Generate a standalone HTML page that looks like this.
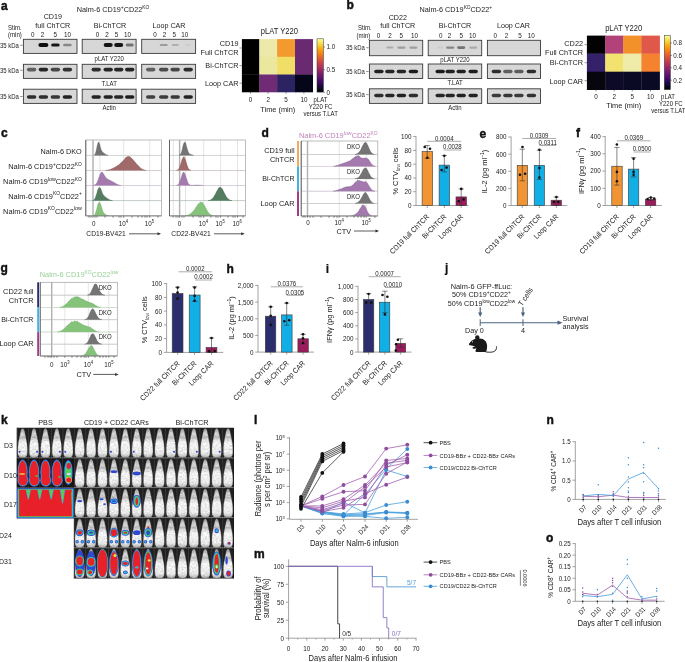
<!DOCTYPE html>
<html><head><meta charset="utf-8"><style>
html,body{margin:0;padding:0;background:#fff;}
body{width:685px;height:662px;overflow:hidden;}
svg{display:block;font-family:"Liberation Sans", sans-serif;will-change:transform;}
</style></head><body>
<svg width="685" height="662" viewBox="0 0 685 662">
<defs>
<filter id="tex" x="0" y="0" width="1" height="1" color-interpolation-filters="sRGB">
<feTurbulence type="fractalNoise" baseFrequency="0.55" numOctaves="2" seed="4" result="n"/>
<feColorMatrix in="n" type="matrix" values="0.33 0.33 0.33 0 0  0.33 0.33 0.33 0 0  0.33 0.33 0.33 0 0  0 0 0 0 1" result="g"/>
<feComposite in="SourceGraphic" in2="g" operator="arithmetic" k1="0.5" k2="0.78" k3="0" k4="0"/>
</filter>
<filter id="bl" x="-50%" y="-50%" width="200%" height="200%"><feGaussianBlur stdDeviation="0.9"/></filter>
<filter id="bl2" x="-50%" y="-50%" width="200%" height="200%"><feGaussianBlur stdDeviation="0.5"/></filter>
<filter id="bl3" x="-50%" y="-50%" width="200%" height="200%"><feGaussianBlur stdDeviation="1.3"/></filter>
<linearGradient id="inferno" x1="0" y1="1" x2="0" y2="0">
<stop offset="0" stop-color="#000004"/><stop offset="0.1" stop-color="#160b39"/><stop offset="0.2" stop-color="#420a68"/>
<stop offset="0.3" stop-color="#6a176e"/><stop offset="0.4" stop-color="#932667"/><stop offset="0.5" stop-color="#bc3754"/>
<stop offset="0.6" stop-color="#dd513a"/><stop offset="0.7" stop-color="#f37819"/><stop offset="0.8" stop-color="#fca50a"/>
<stop offset="0.9" stop-color="#f6d746"/><stop offset="1" stop-color="#fcffa4"/>
</linearGradient>
<linearGradient id="mouseg" x1="0" y1="0" x2="0" y2="1">
<stop offset="0" stop-color="#909090"/><stop offset="0.18" stop-color="#d0d0d0"/><stop offset="0.3" stop-color="#c0c0c0"/><stop offset="0.5" stop-color="#ececec"/><stop offset="0.85" stop-color="#e2e2e2"/><stop offset="1" stop-color="#a8a8a8"/>
</linearGradient>
</defs>
<rect x="23.40" y="39.30" width="53.60" height="14.10" fill="#d7d7d7" stroke="#3a3a3a" stroke-width="0.9"/>
<rect x="38.40" y="42.90" width="10.00" height="4.20" rx="2.10" fill="rgb(15,15,15)" filter="url(#bl2)"/>
<rect x="51.15" y="43.50" width="8.50" height="3.00" rx="1.50" fill="rgb(25,25,25)" filter="url(#bl2)"/>
<rect x="63.15" y="43.80" width="8.50" height="2.40" rx="1.20" fill="rgb(135,135,135)" filter="url(#bl2)"/>
<rect x="23.40" y="64.30" width="53.60" height="14.10" fill="#d7d7d7" stroke="#3a3a3a" stroke-width="0.9"/>
<rect x="26.90" y="67.80" width="9.40" height="3.60" rx="1.80" fill="rgb(95,95,95)" filter="url(#bl2)"/>
<rect x="38.70" y="67.80" width="9.40" height="3.60" rx="1.80" fill="rgb(39,39,39)" filter="url(#bl2)"/>
<rect x="50.70" y="67.80" width="9.40" height="3.60" rx="1.80" fill="rgb(71,71,71)" filter="url(#bl2)"/>
<rect x="62.70" y="67.80" width="9.40" height="3.60" rx="1.80" fill="rgb(51,51,51)" filter="url(#bl2)"/>
<rect x="23.40" y="89.20" width="53.60" height="14.20" fill="#d7d7d7" stroke="#3a3a3a" stroke-width="0.9"/>
<rect x="26.90" y="95.20" width="9.40" height="3.60" rx="1.80" fill="rgb(45,45,45)" filter="url(#bl2)"/>
<rect x="38.70" y="95.20" width="9.40" height="3.60" rx="1.80" fill="rgb(45,45,45)" filter="url(#bl2)"/>
<rect x="50.70" y="95.20" width="9.40" height="3.60" rx="1.80" fill="rgb(55,55,55)" filter="url(#bl2)"/>
<rect x="62.70" y="95.20" width="9.40" height="3.60" rx="1.80" fill="rgb(35,35,35)" filter="url(#bl2)"/>
<rect x="82.20" y="39.30" width="53.90" height="14.10" fill="#d7d7d7" stroke="#3a3a3a" stroke-width="0.9"/>
<rect x="103.70" y="43.00" width="9.00" height="4.00" rx="2.00" fill="rgb(25,25,25)" filter="url(#bl2)"/>
<rect x="114.20" y="43.00" width="9.00" height="4.00" rx="2.00" fill="rgb(25,25,25)" filter="url(#bl2)"/>
<rect x="125.70" y="43.50" width="8.00" height="3.00" rx="1.50" fill="rgb(115,115,115)" filter="url(#bl2)"/>
<rect x="82.20" y="64.30" width="53.90" height="14.10" fill="#d7d7d7" stroke="#3a3a3a" stroke-width="0.9"/>
<rect x="91.50" y="67.80" width="9.40" height="3.60" rx="1.80" fill="rgb(45,45,45)" filter="url(#bl2)"/>
<rect x="103.50" y="67.80" width="9.40" height="3.60" rx="1.80" fill="rgb(39,39,39)" filter="url(#bl2)"/>
<rect x="114.00" y="67.80" width="9.40" height="3.60" rx="1.80" fill="rgb(39,39,39)" filter="url(#bl2)"/>
<rect x="125.00" y="67.80" width="9.40" height="3.60" rx="1.80" fill="rgb(35,35,35)" filter="url(#bl2)"/>
<rect x="82.20" y="89.20" width="53.90" height="14.20" fill="#d7d7d7" stroke="#3a3a3a" stroke-width="0.9"/>
<rect x="91.50" y="95.20" width="9.40" height="3.60" rx="1.80" fill="rgb(35,35,35)" filter="url(#bl2)"/>
<rect x="103.50" y="95.20" width="9.40" height="3.60" rx="1.80" fill="rgb(35,35,35)" filter="url(#bl2)"/>
<rect x="114.00" y="95.20" width="9.40" height="3.60" rx="1.80" fill="rgb(39,39,39)" filter="url(#bl2)"/>
<rect x="125.00" y="95.20" width="9.40" height="3.60" rx="1.80" fill="rgb(31,31,31)" filter="url(#bl2)"/>
<rect x="141.70" y="39.30" width="53.90" height="14.10" fill="#d7d7d7" stroke="#3a3a3a" stroke-width="0.9"/>
<rect x="159.70" y="43.90" width="8.00" height="2.20" rx="1.10" fill="rgb(155,155,155)" filter="url(#bl2)"/>
<rect x="171.70" y="43.90" width="7.00" height="2.20" rx="1.10" fill="rgb(175,175,175)" filter="url(#bl2)"/>
<rect x="185.20" y="44.00" width="6.00" height="2.00" rx="1.00" fill="rgb(205,205,205)" filter="url(#bl2)"/>
<rect x="141.70" y="64.30" width="53.90" height="14.10" fill="#d7d7d7" stroke="#3a3a3a" stroke-width="0.9"/>
<rect x="146.00" y="67.80" width="9.40" height="3.60" rx="1.80" fill="rgb(95,95,95)" filter="url(#bl2)"/>
<rect x="159.00" y="67.80" width="9.40" height="3.60" rx="1.80" fill="rgb(75,75,75)" filter="url(#bl2)"/>
<rect x="170.50" y="67.80" width="9.40" height="3.60" rx="1.80" fill="rgb(71,71,71)" filter="url(#bl2)"/>
<rect x="183.50" y="67.80" width="9.40" height="3.60" rx="1.80" fill="rgb(45,45,45)" filter="url(#bl2)"/>
<rect x="141.70" y="89.20" width="53.90" height="14.20" fill="#d7d7d7" stroke="#3a3a3a" stroke-width="0.9"/>
<rect x="146.00" y="95.20" width="9.40" height="3.60" rx="1.80" fill="rgb(65,65,65)" filter="url(#bl2)"/>
<rect x="159.00" y="95.20" width="9.40" height="3.60" rx="1.80" fill="rgb(59,59,59)" filter="url(#bl2)"/>
<rect x="170.50" y="95.20" width="9.40" height="3.60" rx="1.80" fill="rgb(55,55,55)" filter="url(#bl2)"/>
<rect x="183.50" y="95.20" width="9.40" height="3.60" rx="1.80" fill="rgb(35,35,35)" filter="url(#bl2)"/>
<rect x="369.40" y="40.30" width="53.30" height="15.40" fill="#d7d7d7" stroke="#3a3a3a" stroke-width="0.9"/>
<rect x="386.40" y="46.60" width="7.00" height="2.00" rx="1.00" fill="rgb(171,171,171)" filter="url(#bl2)"/>
<rect x="397.40" y="46.50" width="8.00" height="2.20" rx="1.10" fill="rgb(155,155,155)" filter="url(#bl2)"/>
<rect x="409.40" y="46.50" width="8.00" height="2.20" rx="1.10" fill="rgb(159,159,159)" filter="url(#bl2)"/>
<rect x="369.40" y="64.00" width="53.30" height="14.50" fill="#d7d7d7" stroke="#3a3a3a" stroke-width="0.9"/>
<rect x="374.20" y="69.70" width="9.40" height="3.60" rx="1.80" fill="rgb(35,35,35)" filter="url(#bl2)"/>
<rect x="385.20" y="69.70" width="9.40" height="3.60" rx="1.80" fill="rgb(39,39,39)" filter="url(#bl2)"/>
<rect x="396.70" y="69.70" width="9.40" height="3.60" rx="1.80" fill="rgb(39,39,39)" filter="url(#bl2)"/>
<rect x="408.70" y="69.70" width="9.40" height="3.60" rx="1.80" fill="rgb(31,31,31)" filter="url(#bl2)"/>
<rect x="369.40" y="88.80" width="53.30" height="14.60" fill="#d7d7d7" stroke="#3a3a3a" stroke-width="0.9"/>
<rect x="374.20" y="93.70" width="9.40" height="3.60" rx="1.80" fill="rgb(45,45,45)" filter="url(#bl2)"/>
<rect x="385.20" y="93.70" width="9.40" height="3.60" rx="1.80" fill="rgb(39,39,39)" filter="url(#bl2)"/>
<rect x="396.70" y="93.70" width="9.40" height="3.60" rx="1.80" fill="rgb(35,35,35)" filter="url(#bl2)"/>
<rect x="408.70" y="93.70" width="9.40" height="3.60" rx="1.80" fill="rgb(45,45,45)" filter="url(#bl2)"/>
<rect x="428.20" y="40.30" width="53.50" height="15.40" fill="#d7d7d7" stroke="#3a3a3a" stroke-width="0.9"/>
<rect x="437.20" y="46.60" width="6.00" height="2.00" rx="1.00" fill="rgb(203,203,203)" filter="url(#bl2)"/>
<rect x="446.20" y="46.40" width="8.00" height="2.40" rx="1.20" fill="rgb(135,135,135)" filter="url(#bl2)"/>
<rect x="457.20" y="46.30" width="8.00" height="2.60" rx="1.30" fill="rgb(115,115,115)" filter="url(#bl2)"/>
<rect x="469.20" y="46.50" width="8.00" height="2.20" rx="1.10" fill="rgb(171,171,171)" filter="url(#bl2)"/>
<rect x="428.20" y="64.00" width="53.50" height="14.50" fill="#d7d7d7" stroke="#3a3a3a" stroke-width="0.9"/>
<rect x="435.50" y="69.70" width="9.40" height="3.60" rx="1.80" fill="rgb(31,31,31)" filter="url(#bl2)"/>
<rect x="445.50" y="69.70" width="9.40" height="3.60" rx="1.80" fill="rgb(35,35,35)" filter="url(#bl2)"/>
<rect x="456.50" y="69.70" width="9.40" height="3.60" rx="1.80" fill="rgb(35,35,35)" filter="url(#bl2)"/>
<rect x="468.50" y="69.70" width="9.40" height="3.60" rx="1.80" fill="rgb(31,31,31)" filter="url(#bl2)"/>
<rect x="428.20" y="88.80" width="53.50" height="14.60" fill="#d7d7d7" stroke="#3a3a3a" stroke-width="0.9"/>
<rect x="435.50" y="93.70" width="9.40" height="3.60" rx="1.80" fill="rgb(39,39,39)" filter="url(#bl2)"/>
<rect x="445.50" y="93.70" width="9.40" height="3.60" rx="1.80" fill="rgb(39,39,39)" filter="url(#bl2)"/>
<rect x="456.50" y="93.70" width="9.40" height="3.60" rx="1.80" fill="rgb(35,35,35)" filter="url(#bl2)"/>
<rect x="468.50" y="93.70" width="9.40" height="3.60" rx="1.80" fill="rgb(35,35,35)" filter="url(#bl2)"/>
<rect x="487.40" y="40.30" width="53.10" height="15.40" fill="#d7d7d7" stroke="#3a3a3a" stroke-width="0.9"/>
<rect x="487.40" y="64.00" width="53.10" height="14.50" fill="#d7d7d7" stroke="#3a3a3a" stroke-width="0.9"/>
<rect x="491.70" y="69.70" width="9.40" height="3.60" rx="1.80" fill="rgb(45,45,45)" filter="url(#bl2)"/>
<rect x="503.20" y="69.70" width="9.40" height="3.60" rx="1.80" fill="rgb(95,95,95)" filter="url(#bl2)"/>
<rect x="514.20" y="69.70" width="9.40" height="3.60" rx="1.80" fill="rgb(91,91,91)" filter="url(#bl2)"/>
<rect x="526.70" y="69.70" width="9.40" height="3.60" rx="1.80" fill="rgb(45,45,45)" filter="url(#bl2)"/>
<rect x="487.40" y="88.80" width="53.10" height="14.60" fill="#d7d7d7" stroke="#3a3a3a" stroke-width="0.9"/>
<rect x="491.70" y="93.70" width="9.40" height="3.60" rx="1.80" fill="rgb(59,59,59)" filter="url(#bl2)"/>
<rect x="503.20" y="93.70" width="9.40" height="3.60" rx="1.80" fill="rgb(55,55,55)" filter="url(#bl2)"/>
<rect x="514.20" y="93.70" width="9.40" height="3.60" rx="1.80" fill="rgb(59,59,59)" filter="url(#bl2)"/>
<rect x="526.70" y="93.70" width="9.40" height="3.60" rx="1.80" fill="rgb(51,51,51)" filter="url(#bl2)"/>
<text font-size="6.52" text-anchor="end" fill="#222" transform="translate(18.90 47.65) scale(0.92 1)">35 kDa</text>
<line x1="20.20" y1="45.30" x2="22.60" y2="45.30" stroke="#444" stroke-width="0.6"/>
<text font-size="6.52" text-anchor="end" fill="#222" transform="translate(18.90 72.65) scale(0.92 1)">35 kDa</text>
<line x1="20.20" y1="70.30" x2="22.60" y2="70.30" stroke="#444" stroke-width="0.6"/>
<text font-size="6.52" text-anchor="end" fill="#222" transform="translate(18.90 98.85) scale(0.92 1)">35 kDa</text>
<line x1="20.20" y1="96.50" x2="22.60" y2="96.50" stroke="#444" stroke-width="0.6"/>
<text font-size="6.52" text-anchor="end" fill="#222" transform="translate(364.90 50.05) scale(0.92 1)">35 kDa</text>
<line x1="366.20" y1="47.70" x2="368.60" y2="47.70" stroke="#444" stroke-width="0.6"/>
<text font-size="6.52" text-anchor="end" fill="#222" transform="translate(364.90 73.85) scale(0.92 1)">35 kDa</text>
<line x1="366.20" y1="71.50" x2="368.60" y2="71.50" stroke="#444" stroke-width="0.6"/>
<text font-size="6.52" text-anchor="end" fill="#222" transform="translate(364.90 96.95) scale(0.92 1)">35 kDa</text>
<line x1="366.20" y1="94.60" x2="368.60" y2="94.60" stroke="#444" stroke-width="0.6"/>
<text x="1.00" y="10.10" font-size="12" font-weight="bold" fill="#111" stroke="#111" stroke-width="0.45">a</text>
<text font-size="7.93" text-anchor="middle" fill="#222" transform="translate(113.00 12.46) scale(0.92 1)">Nalm-6 CD19<tspan baseline-shift="3.17" font-size="5.24">+</tspan>CD22<tspan baseline-shift="3.17" font-size="5.24">KO</tspan></text>
<text font-size="7.77" text-anchor="middle" fill="#222" transform="translate(52.80 19.30) scale(0.92 1)">CD19</text>
<text font-size="7.77" text-anchor="middle" fill="#222" transform="translate(52.80 28.10) scale(0.92 1)">full ChTCR</text>
<text font-size="7.77" text-anchor="middle" fill="#222" transform="translate(110.00 28.10) scale(0.92 1)">Bi-ChTCR</text>
<text font-size="7.77" text-anchor="middle" fill="#222" transform="translate(169.00 28.10) scale(0.92 1)">Loop CAR</text>
<text font-size="6.52" fill="#222" transform="translate(8.00 29.85) scale(0.92 1)">Stim.</text>
<text font-size="6.63" fill="#222" transform="translate(8.00 36.89) scale(0.92 1)">(min)</text>
<text font-size="6.85" text-anchor="middle" fill="#222" transform="translate(32.70 37.07) scale(0.92 1)">0</text>
<text font-size="6.85" text-anchor="middle" fill="#222" transform="translate(42.50 37.07) scale(0.92 1)">2</text>
<text font-size="6.85" text-anchor="middle" fill="#222" transform="translate(55.20 37.07) scale(0.92 1)">5</text>
<text font-size="6.85" text-anchor="middle" fill="#222" transform="translate(67.60 37.07) scale(0.92 1)">10</text>
<text font-size="6.85" text-anchor="middle" fill="#222" transform="translate(97.50 37.07) scale(0.92 1)">0</text>
<text font-size="6.85" text-anchor="middle" fill="#222" transform="translate(107.00 37.07) scale(0.92 1)">2</text>
<text font-size="6.85" text-anchor="middle" fill="#222" transform="translate(116.40 37.07) scale(0.92 1)">5</text>
<text font-size="6.85" text-anchor="middle" fill="#222" transform="translate(127.60 37.07) scale(0.92 1)">10</text>
<text font-size="6.85" text-anchor="middle" fill="#222" transform="translate(155.00 37.07) scale(0.92 1)">0</text>
<text font-size="6.85" text-anchor="middle" fill="#222" transform="translate(164.60 37.07) scale(0.92 1)">2</text>
<text font-size="6.85" text-anchor="middle" fill="#222" transform="translate(174.30 37.07) scale(0.92 1)">5</text>
<text font-size="6.85" text-anchor="middle" fill="#222" transform="translate(184.80 37.07) scale(0.92 1)">10</text>
<text font-size="6.52" text-anchor="middle" fill="#222" transform="translate(109.20 60.85) scale(0.92 1)">pLAT Y220</text>
<text font-size="6.52" text-anchor="middle" fill="#222" transform="translate(109.20 86.35) scale(0.92 1)">T.LAT</text>
<text font-size="6.52" text-anchor="middle" fill="#222" transform="translate(109.20 110.15) scale(0.92 1)">Actin</text>
<text x="346.50" y="8.80" font-size="12" font-weight="bold" fill="#111" stroke="#111" stroke-width="0.45">b</text>
<text font-size="7.93" text-anchor="middle" fill="#222" transform="translate(455.80 12.06) scale(0.92 1)">Nalm-6 CD19<tspan baseline-shift="3.17" font-size="5.24">KO</tspan>CD22<tspan baseline-shift="3.17" font-size="5.24">+</tspan></text>
<text font-size="7.77" text-anchor="middle" fill="#222" transform="translate(397.80 19.80) scale(0.92 1)">CD22</text>
<text font-size="7.77" text-anchor="middle" fill="#222" transform="translate(397.80 28.20) scale(0.92 1)">full ChTCR</text>
<text font-size="7.77" text-anchor="middle" fill="#222" transform="translate(455.00 28.20) scale(0.92 1)">Bi-ChTCR</text>
<text font-size="7.77" text-anchor="middle" fill="#222" transform="translate(513.40 28.20) scale(0.92 1)">Loop CAR</text>
<text font-size="6.52" fill="#222" transform="translate(358.00 30.35) scale(0.92 1)">Stim.</text>
<text font-size="6.63" fill="#222" transform="translate(356.50 37.99) scale(0.92 1)">(min)</text>
<text font-size="6.85" text-anchor="middle" fill="#222" transform="translate(378.50 38.07) scale(0.92 1)">0</text>
<text font-size="6.85" text-anchor="middle" fill="#222" transform="translate(390.00 38.07) scale(0.92 1)">2</text>
<text font-size="6.85" text-anchor="middle" fill="#222" transform="translate(401.30 38.07) scale(0.92 1)">5</text>
<text font-size="6.85" text-anchor="middle" fill="#222" transform="translate(414.50 38.07) scale(0.92 1)">10</text>
<text font-size="6.85" text-anchor="middle" fill="#222" transform="translate(440.70 38.07) scale(0.92 1)">0</text>
<text font-size="6.85" text-anchor="middle" fill="#222" transform="translate(449.40 38.07) scale(0.92 1)">2</text>
<text font-size="6.85" text-anchor="middle" fill="#222" transform="translate(461.20 38.07) scale(0.92 1)">5</text>
<text font-size="6.85" text-anchor="middle" fill="#222" transform="translate(472.60 38.07) scale(0.92 1)">10</text>
<text font-size="6.85" text-anchor="middle" fill="#222" transform="translate(495.30 38.07) scale(0.92 1)">0</text>
<text font-size="6.85" text-anchor="middle" fill="#222" transform="translate(506.40 38.07) scale(0.92 1)">2</text>
<text font-size="6.85" text-anchor="middle" fill="#222" transform="translate(519.90 38.07) scale(0.92 1)">5</text>
<text font-size="6.85" text-anchor="middle" fill="#222" transform="translate(531.20 38.07) scale(0.92 1)">10</text>
<text font-size="6.52" text-anchor="middle" fill="#222" transform="translate(455.00 62.35) scale(0.92 1)">pLAT Y220</text>
<text font-size="6.52" text-anchor="middle" fill="#222" transform="translate(455.00 84.65) scale(0.92 1)">T.LAT</text>
<text font-size="6.52" text-anchor="middle" fill="#222" transform="translate(455.00 110.15) scale(0.92 1)">Actin</text>
<rect x="241.90" y="39.10" width="17.70" height="18.00" fill="#000000"/>
<rect x="259.30" y="39.10" width="18.10" height="18.00" fill="#ede9ab"/>
<rect x="277.10" y="39.10" width="18.20" height="18.00" fill="#f39a2e"/>
<rect x="295.00" y="39.10" width="18.00" height="18.00" fill="#6a2a72"/>
<rect x="241.90" y="56.80" width="17.70" height="18.00" fill="#000000"/>
<rect x="259.30" y="56.80" width="18.10" height="18.00" fill="#ebe79e"/>
<rect x="277.10" y="56.80" width="18.20" height="18.00" fill="#f1de66"/>
<rect x="295.00" y="56.80" width="18.00" height="18.00" fill="#6a2a72"/>
<rect x="241.90" y="74.50" width="17.70" height="17.80" fill="#000000"/>
<rect x="259.30" y="74.50" width="18.10" height="17.80" fill="#712a74"/>
<rect x="277.10" y="74.50" width="18.20" height="17.80" fill="#2c2462"/>
<rect x="295.00" y="74.50" width="18.00" height="17.80" fill="#05061a"/>
<rect x="317.00" y="38.80" width="6.40" height="53.30" fill="url(#inferno)" stroke="#333" stroke-width="0.5"/>
<line x1="323.40" y1="47.00" x2="325.00" y2="47.00" stroke="#333" stroke-width="0.5"/>
<text font-size="6.85" fill="#222" transform="translate(326.50 49.47) scale(0.92 1)">1.0</text>
<line x1="323.40" y1="69.70" x2="325.00" y2="69.70" stroke="#333" stroke-width="0.5"/>
<text font-size="6.85" fill="#222" transform="translate(326.50 72.17) scale(0.92 1)">0.5</text>
<line x1="323.40" y1="92.30" x2="325.00" y2="92.30" stroke="#333" stroke-width="0.5"/>
<text font-size="6.85" fill="#222" transform="translate(326.50 94.77) scale(0.92 1)">0</text>
<text font-size="8.26" text-anchor="middle" fill="#222" transform="translate(279.30 33.97) scale(0.92 1)">pLAT Y220</text>
<text font-size="7.93" text-anchor="end" fill="#222" transform="translate(238.50 45.86) scale(0.92 1)">CD19</text>
<text font-size="7.93" text-anchor="end" fill="#222" transform="translate(238.50 55.46) scale(0.92 1)">Full ChTCR</text>
<text font-size="7.93" text-anchor="end" fill="#222" transform="translate(238.50 67.76) scale(0.92 1)">Bi-ChTCR</text>
<text font-size="7.93" text-anchor="end" fill="#222" transform="translate(238.50 85.66) scale(0.92 1)">Loop CAR</text>
<line x1="239.50" y1="48.00" x2="241.90" y2="48.00" stroke="#333" stroke-width="0.5"/>
<line x1="239.50" y1="65.60" x2="241.90" y2="65.60" stroke="#333" stroke-width="0.5"/>
<line x1="239.50" y1="83.20" x2="241.90" y2="83.20" stroke="#333" stroke-width="0.5"/>
<text font-size="6.85" text-anchor="middle" fill="#222" transform="translate(250.60 101.77) scale(0.92 1)">0</text>
<line x1="250.60" y1="92.00" x2="250.60" y2="93.80" stroke="#333" stroke-width="0.5"/>
<text font-size="6.85" text-anchor="middle" fill="#222" transform="translate(268.20 101.77) scale(0.92 1)">2</text>
<line x1="268.20" y1="92.00" x2="268.20" y2="93.80" stroke="#333" stroke-width="0.5"/>
<text font-size="6.85" text-anchor="middle" fill="#222" transform="translate(286.00 101.77) scale(0.92 1)">5</text>
<line x1="286.00" y1="92.00" x2="286.00" y2="93.80" stroke="#333" stroke-width="0.5"/>
<text font-size="6.85" text-anchor="middle" fill="#222" transform="translate(303.90 101.77) scale(0.92 1)">10</text>
<line x1="303.90" y1="92.00" x2="303.90" y2="93.80" stroke="#333" stroke-width="0.5"/>
<text font-size="8.04" text-anchor="middle" fill="#222" transform="translate(277.80 111.60) scale(0.92 1)">Time (min)</text>
<text font-size="6.52" text-anchor="middle" fill="#222" transform="translate(320.40 102.15) scale(0.92 1)">pLAT</text>
<text font-size="6.52" text-anchor="middle" fill="#222" transform="translate(320.60 109.15) scale(0.92 1)">Y220 FC</text>
<text font-size="6.52" text-anchor="middle" fill="#222" transform="translate(320.60 115.75) scale(0.92 1)">versus T.LAT</text>
<rect x="586.90" y="35.60" width="18.60" height="18.30" fill="#030203"/>
<rect x="605.20" y="35.60" width="18.20" height="18.30" fill="#b2437a"/>
<rect x="623.10" y="35.60" width="18.60" height="18.30" fill="#f2902a"/>
<rect x="641.40" y="35.60" width="18.50" height="18.30" fill="#e0584a"/>
<rect x="586.90" y="53.60" width="18.60" height="18.40" fill="#35206a"/>
<rect x="605.20" y="53.60" width="18.20" height="18.40" fill="#f2e270"/>
<rect x="623.10" y="53.60" width="18.60" height="18.40" fill="#eeeca8"/>
<rect x="641.40" y="53.60" width="18.50" height="18.40" fill="#f4822e"/>
<rect x="586.90" y="71.70" width="18.60" height="18.30" fill="#07060f"/>
<rect x="605.20" y="71.70" width="18.20" height="18.30" fill="#0c0a26"/>
<rect x="623.10" y="71.70" width="18.60" height="18.30" fill="#0b0a24"/>
<rect x="641.40" y="71.70" width="18.50" height="18.30" fill="#0b0a24"/>
<rect x="664.30" y="35.30" width="6.10" height="54.40" fill="url(#inferno)" stroke="#333" stroke-width="0.5"/>
<line x1="670.40" y1="43.00" x2="672.00" y2="43.00" stroke="#333" stroke-width="0.5"/>
<text font-size="6.85" fill="#222" transform="translate(673.30 45.47) scale(0.92 1)">0.8</text>
<line x1="670.40" y1="55.40" x2="672.00" y2="55.40" stroke="#333" stroke-width="0.5"/>
<text font-size="6.85" fill="#222" transform="translate(673.30 57.87) scale(0.92 1)">0.6</text>
<line x1="670.40" y1="67.80" x2="672.00" y2="67.80" stroke="#333" stroke-width="0.5"/>
<text font-size="6.85" fill="#222" transform="translate(673.30 70.27) scale(0.92 1)">0.4</text>
<line x1="670.40" y1="80.20" x2="672.00" y2="80.20" stroke="#333" stroke-width="0.5"/>
<text font-size="6.85" fill="#222" transform="translate(673.30 82.67) scale(0.92 1)">0.2</text>
<text font-size="8.26" text-anchor="middle" fill="#222" transform="translate(623.70 31.27) scale(0.92 1)">pLAT Y220</text>
<text font-size="7.93" text-anchor="end" fill="#222" transform="translate(583.00 45.86) scale(0.92 1)">CD22</text>
<text font-size="7.93" text-anchor="end" fill="#222" transform="translate(583.00 54.56) scale(0.92 1)">Full ChTCR</text>
<text font-size="7.93" text-anchor="end" fill="#222" transform="translate(583.00 65.16) scale(0.92 1)">Bi-ChTCR</text>
<text font-size="7.93" text-anchor="end" fill="#222" transform="translate(583.00 83.76) scale(0.92 1)">Loop CAR</text>
<line x1="584.50" y1="44.60" x2="586.90" y2="44.60" stroke="#333" stroke-width="0.5"/>
<line x1="584.50" y1="62.70" x2="586.90" y2="62.70" stroke="#333" stroke-width="0.5"/>
<line x1="584.50" y1="80.70" x2="586.90" y2="80.70" stroke="#333" stroke-width="0.5"/>
<text font-size="6.85" text-anchor="middle" fill="#222" transform="translate(596.00 99.47) scale(0.92 1)">0</text>
<line x1="596.00" y1="89.70" x2="596.00" y2="91.50" stroke="#333" stroke-width="0.5"/>
<text font-size="6.85" text-anchor="middle" fill="#222" transform="translate(614.20 99.47) scale(0.92 1)">2</text>
<line x1="614.20" y1="89.70" x2="614.20" y2="91.50" stroke="#333" stroke-width="0.5"/>
<text font-size="6.85" text-anchor="middle" fill="#222" transform="translate(632.30 99.47) scale(0.92 1)">5</text>
<line x1="632.30" y1="89.70" x2="632.30" y2="91.50" stroke="#333" stroke-width="0.5"/>
<text font-size="6.85" text-anchor="middle" fill="#222" transform="translate(650.50 99.47) scale(0.92 1)">10</text>
<line x1="650.50" y1="89.70" x2="650.50" y2="91.50" stroke="#333" stroke-width="0.5"/>
<text font-size="8.04" text-anchor="middle" fill="#222" transform="translate(623.70 107.90) scale(0.92 1)">Time (min)</text>
<text font-size="6.52" text-anchor="middle" fill="#222" transform="translate(668.00 99.35) scale(0.92 1)">pLAT</text>
<text font-size="6.52" text-anchor="middle" fill="#222" transform="translate(670.80 106.25) scale(0.92 1)">Y220 FC</text>
<text font-size="6.52" text-anchor="end" fill="#222" transform="translate(685.50 112.75) scale(0.92 1)">versus T.LAT</text>
<text x="1.00" y="136.60" font-size="12" font-weight="bold" fill="#111" stroke="#111" stroke-width="0.45">c</text>
<rect x="85.80" y="140.00" width="75.60" height="75.90" fill="#fff"/>
<line x1="99.90" y1="140.00" x2="99.90" y2="215.90" stroke="#d4d4d4" stroke-width="0.6"/>
<line x1="123.70" y1="140.00" x2="123.70" y2="215.90" stroke="#d4d4d4" stroke-width="0.6"/>
<line x1="149.70" y1="140.00" x2="149.70" y2="215.90" stroke="#d4d4d4" stroke-width="0.6"/>
<line x1="93.00" y1="140.00" x2="93.00" y2="215.90" stroke="#b0b0b0" stroke-width="1.4"/>
<line x1="85.80" y1="155.40" x2="161.40" y2="155.40" stroke="#cfcfcf" stroke-width="0.6"/>
<line x1="85.80" y1="170.50" x2="161.40" y2="170.50" stroke="#cfcfcf" stroke-width="0.6"/>
<line x1="85.80" y1="185.60" x2="161.40" y2="185.60" stroke="#cfcfcf" stroke-width="0.6"/>
<line x1="85.80" y1="200.70" x2="161.40" y2="200.70" stroke="#cfcfcf" stroke-width="0.6"/>
<path d="M94.0,155.4 L94.0,155.2 L94.5,154.9 L95.0,154.4 L95.5,153.4 L96.0,151.8 L96.5,149.8 L97.0,147.1 L97.5,144.7 L98.0,143.1 L98.5,142.0 L99.0,142.9 L99.5,144.0 L100.0,146.2 L100.5,148.1 L101.0,149.6 L101.5,150.6 L102.0,151.6 L102.5,152.1 L103.0,152.5 L103.5,152.9 L104.0,153.3 L104.5,153.7 L105.0,154.0 L105.5,154.4 L106.0,154.6 L106.5,154.9 L107.0,155.0 L107.5,155.2 L108.0,155.3 L108.0,155.4 Z" fill="#747474"/>
<path d="M94.0,155.2 L94.5,154.9 L95.0,154.4 L95.5,153.4 L96.0,151.8 L96.5,149.8 L97.0,147.1 L97.5,144.7 L98.0,143.1 L98.5,142.0 L99.0,142.9 L99.5,144.0 L100.0,146.2 L100.5,148.1 L101.0,149.6 L101.5,150.6 L102.0,151.6 L102.5,152.1 L103.0,152.5 L103.5,152.9 L104.0,153.3 L104.5,153.7 L105.0,154.0 L105.5,154.4 L106.0,154.6 L106.5,154.9 L107.0,155.0 L107.5,155.2 L108.0,155.3" fill="none" stroke="#4d4d4d" stroke-width="0.45"/>
<line x1="86.00" y1="155.20" x2="161.00" y2="155.20" stroke="#747474" stroke-width="0.4" opacity="0.5"/>
<path d="M105.5,170.5 L105.5,170.4 L106.0,170.3 L106.5,170.3 L107.0,170.2 L107.5,170.1 L108.0,170.0 L108.5,170.0 L109.0,169.8 L109.5,169.7 L110.0,169.5 L110.5,169.4 L111.0,169.2 L111.5,169.0 L112.0,168.8 L112.5,168.5 L113.0,168.4 L113.5,168.1 L114.0,167.8 L114.5,167.5 L115.0,167.3 L115.5,167.0 L116.0,166.6 L116.5,166.4 L117.0,166.1 L117.5,165.7 L118.0,165.3 L118.5,165.1 L119.0,164.7 L119.5,164.3 L120.0,163.7 L120.5,163.3 L121.0,163.1 L121.5,162.2 L122.0,162.1 L122.5,161.4 L123.0,160.7 L123.5,160.5 L124.0,159.7 L124.5,159.4 L125.0,158.4 L125.5,157.9 L126.0,157.6 L126.5,156.9 L127.0,157.1 L127.5,156.6 L128.0,156.5 L128.5,156.5 L129.0,156.7 L129.5,156.6 L130.0,156.7 L130.5,157.5 L131.0,157.7 L131.5,158.6 L132.0,158.7 L132.5,159.2 L133.0,159.5 L133.5,160.2 L134.0,161.1 L134.5,161.6 L135.0,162.0 L135.5,162.9 L136.0,163.2 L136.5,163.9 L137.0,164.4 L137.5,165.0 L138.0,165.3 L138.5,166.0 L139.0,166.5 L139.5,167.0 L140.0,167.4 L140.5,168.0 L141.0,168.4 L141.5,168.7 L142.0,169.0 L142.5,169.3 L143.0,169.6 L143.5,169.8 L144.0,170.0 L144.5,170.1 L145.0,170.2 L145.5,170.3 L146.0,170.4 L146.0,170.5 Z" fill="#a06a6a"/>
<path d="M105.5,170.4 L106.0,170.3 L106.5,170.3 L107.0,170.2 L107.5,170.1 L108.0,170.0 L108.5,170.0 L109.0,169.8 L109.5,169.7 L110.0,169.5 L110.5,169.4 L111.0,169.2 L111.5,169.0 L112.0,168.8 L112.5,168.5 L113.0,168.4 L113.5,168.1 L114.0,167.8 L114.5,167.5 L115.0,167.3 L115.5,167.0 L116.0,166.6 L116.5,166.4 L117.0,166.1 L117.5,165.7 L118.0,165.3 L118.5,165.1 L119.0,164.7 L119.5,164.3 L120.0,163.7 L120.5,163.3 L121.0,163.1 L121.5,162.2 L122.0,162.1 L122.5,161.4 L123.0,160.7 L123.5,160.5 L124.0,159.7 L124.5,159.4 L125.0,158.4 L125.5,157.9 L126.0,157.6 L126.5,156.9 L127.0,157.1 L127.5,156.6 L128.0,156.5 L128.5,156.5 L129.0,156.7 L129.5,156.6 L130.0,156.7 L130.5,157.5 L131.0,157.7 L131.5,158.6 L132.0,158.7 L132.5,159.2 L133.0,159.5 L133.5,160.2 L134.0,161.1 L134.5,161.6 L135.0,162.0 L135.5,162.9 L136.0,163.2 L136.5,163.9 L137.0,164.4 L137.5,165.0 L138.0,165.3 L138.5,166.0 L139.0,166.5 L139.5,167.0 L140.0,167.4 L140.5,168.0 L141.0,168.4 L141.5,168.7 L142.0,169.0 L142.5,169.3 L143.0,169.6 L143.5,169.8 L144.0,170.0 L144.5,170.1 L145.0,170.2 L145.5,170.3 L146.0,170.4" fill="none" stroke="#7d4a4a" stroke-width="0.45"/>
<line x1="86.00" y1="170.30" x2="161.00" y2="170.30" stroke="#a06a6a" stroke-width="0.4" opacity="0.5"/>
<path d="M93.0,185.6 L93.0,185.5 L93.5,185.4 L94.0,185.3 L94.5,185.1 L95.0,184.9 L95.5,184.5 L96.0,184.0 L96.5,183.5 L97.0,182.7 L97.5,181.6 L98.0,180.4 L98.5,179.0 L99.0,177.4 L99.5,176.2 L100.0,175.0 L100.5,173.6 L101.0,172.9 L101.5,172.3 L102.0,171.9 L102.5,172.4 L103.0,173.2 L103.5,173.9 L104.0,174.7 L104.5,176.0 L105.0,176.3 L105.5,177.1 L106.0,177.7 L106.5,178.2 L107.0,178.8 L107.5,179.1 L108.0,179.5 L108.5,179.5 L109.0,180.0 L109.5,180.2 L110.0,180.4 L110.5,180.6 L111.0,180.8 L111.5,181.2 L112.0,181.5 L112.5,181.7 L113.0,182.0 L113.5,182.2 L114.0,182.6 L114.5,182.8 L115.0,183.1 L115.5,183.5 L116.0,183.8 L116.5,184.1 L117.0,184.3 L117.5,184.6 L118.0,184.7 L118.5,184.9 L119.0,185.1 L119.5,185.2 L120.0,185.3 L120.5,185.4 L121.0,185.4 L121.0,185.6 Z" fill="#a47aae"/>
<path d="M93.0,185.5 L93.5,185.4 L94.0,185.3 L94.5,185.1 L95.0,184.9 L95.5,184.5 L96.0,184.0 L96.5,183.5 L97.0,182.7 L97.5,181.6 L98.0,180.4 L98.5,179.0 L99.0,177.4 L99.5,176.2 L100.0,175.0 L100.5,173.6 L101.0,172.9 L101.5,172.3 L102.0,171.9 L102.5,172.4 L103.0,173.2 L103.5,173.9 L104.0,174.7 L104.5,176.0 L105.0,176.3 L105.5,177.1 L106.0,177.7 L106.5,178.2 L107.0,178.8 L107.5,179.1 L108.0,179.5 L108.5,179.5 L109.0,180.0 L109.5,180.2 L110.0,180.4 L110.5,180.6 L111.0,180.8 L111.5,181.2 L112.0,181.5 L112.5,181.7 L113.0,182.0 L113.5,182.2 L114.0,182.6 L114.5,182.8 L115.0,183.1 L115.5,183.5 L116.0,183.8 L116.5,184.1 L117.0,184.3 L117.5,184.6 L118.0,184.7 L118.5,184.9 L119.0,185.1 L119.5,185.2 L120.0,185.3 L120.5,185.4 L121.0,185.4" fill="none" stroke="#7f5a8a" stroke-width="0.45"/>
<line x1="86.00" y1="185.40" x2="161.00" y2="185.40" stroke="#a47aae" stroke-width="0.4" opacity="0.5"/>
<path d="M92.5,200.7 L92.5,200.5 L93.0,200.4 L93.5,200.2 L94.0,199.8 L94.5,199.3 L95.0,198.5 L95.5,197.5 L96.0,196.0 L96.5,194.6 L97.0,193.0 L97.5,190.8 L98.0,189.5 L98.5,188.5 L99.0,187.5 L99.5,187.8 L100.0,187.8 L100.5,188.3 L101.0,189.5 L101.5,190.9 L102.0,192.4 L102.5,193.5 L103.0,194.5 L103.5,195.1 L104.0,195.8 L104.5,196.2 L105.0,196.8 L105.5,197.2 L106.0,197.5 L106.5,197.8 L107.0,198.2 L107.5,198.6 L108.0,198.9 L108.5,199.2 L109.0,199.6 L109.5,199.8 L110.0,200.0 L110.5,200.2 L111.0,200.3 L111.5,200.4 L112.0,200.5 L112.5,200.6 L112.5,200.7 Z" fill="#547d60"/>
<path d="M92.5,200.5 L93.0,200.4 L93.5,200.2 L94.0,199.8 L94.5,199.3 L95.0,198.5 L95.5,197.5 L96.0,196.0 L96.5,194.6 L97.0,193.0 L97.5,190.8 L98.0,189.5 L98.5,188.5 L99.0,187.5 L99.5,187.8 L100.0,187.8 L100.5,188.3 L101.0,189.5 L101.5,190.9 L102.0,192.4 L102.5,193.5 L103.0,194.5 L103.5,195.1 L104.0,195.8 L104.5,196.2 L105.0,196.8 L105.5,197.2 L106.0,197.5 L106.5,197.8 L107.0,198.2 L107.5,198.6 L108.0,198.9 L108.5,199.2 L109.0,199.6 L109.5,199.8 L110.0,200.0 L110.5,200.2 L111.0,200.3 L111.5,200.4 L112.0,200.5 L112.5,200.6" fill="none" stroke="#3a5e45" stroke-width="0.45"/>
<line x1="86.00" y1="200.50" x2="161.00" y2="200.50" stroke="#547d60" stroke-width="0.4" opacity="0.5"/>
<path d="M93.0,215.9 L93.0,215.8 L93.5,215.6 L94.0,215.4 L94.5,214.9 L95.0,214.3 L95.5,213.2 L96.0,211.8 L96.5,210.2 L97.0,208.1 L97.5,206.0 L98.0,204.1 L98.5,203.1 L99.0,202.4 L99.5,202.4 L100.0,203.1 L100.5,204.4 L101.0,205.7 L101.5,207.3 L102.0,209.1 L102.5,210.6 L103.0,211.7 L103.5,212.6 L104.0,213.4 L104.5,213.8 L105.0,214.2 L105.5,214.6 L106.0,214.8 L106.5,215.1 L107.0,215.3 L107.5,215.4 L108.0,215.6 L108.5,215.7 L109.0,215.7 L109.0,215.9 Z" fill="#85c37b"/>
<path d="M93.0,215.8 L93.5,215.6 L94.0,215.4 L94.5,214.9 L95.0,214.3 L95.5,213.2 L96.0,211.8 L96.5,210.2 L97.0,208.1 L97.5,206.0 L98.0,204.1 L98.5,203.1 L99.0,202.4 L99.5,202.4 L100.0,203.1 L100.5,204.4 L101.0,205.7 L101.5,207.3 L102.0,209.1 L102.5,210.6 L103.0,211.7 L103.5,212.6 L104.0,213.4 L104.5,213.8 L105.0,214.2 L105.5,214.6 L106.0,214.8 L106.5,215.1 L107.0,215.3 L107.5,215.4 L108.0,215.6 L108.5,215.7 L109.0,215.7" fill="none" stroke="#63a05a" stroke-width="0.45"/>
<line x1="86.00" y1="215.70" x2="161.00" y2="215.70" stroke="#85c37b" stroke-width="0.4" opacity="0.5"/>
<rect x="85.80" y="140.00" width="75.60" height="75.90" fill="none" stroke="#a0a0a0" stroke-width="0.7"/>
<line x1="85.80" y1="140.00" x2="85.80" y2="215.90" stroke="#4a4a4a" stroke-width="0.8"/>
<line x1="85.80" y1="215.90" x2="161.40" y2="215.90" stroke="#777" stroke-width="0.8"/>
<line x1="93.00" y1="215.90" x2="93.00" y2="217.70" stroke="#555" stroke-width="0.7"/>
<line x1="123.70" y1="215.90" x2="123.70" y2="217.70" stroke="#555" stroke-width="0.7"/>
<line x1="149.70" y1="215.90" x2="149.70" y2="217.70" stroke="#555" stroke-width="0.7"/>
<line x1="89.00" y1="215.90" x2="89.00" y2="217.70" stroke="#555" stroke-width="0.7"/>
<line x1="91.00" y1="215.90" x2="91.00" y2="217.70" stroke="#555" stroke-width="0.7"/>
<line x1="95.00" y1="215.90" x2="95.00" y2="217.70" stroke="#555" stroke-width="0.7"/>
<line x1="97.00" y1="215.90" x2="97.00" y2="217.70" stroke="#555" stroke-width="0.7"/>
<line x1="105.00" y1="215.90" x2="105.00" y2="217.70" stroke="#555" stroke-width="0.7"/>
<line x1="113.00" y1="215.90" x2="113.00" y2="217.70" stroke="#555" stroke-width="0.7"/>
<line x1="119.00" y1="215.90" x2="119.00" y2="217.70" stroke="#555" stroke-width="0.7"/>
<line x1="121.00" y1="215.90" x2="121.00" y2="217.70" stroke="#555" stroke-width="0.7"/>
<line x1="132.00" y1="215.90" x2="132.00" y2="217.70" stroke="#555" stroke-width="0.7"/>
<line x1="138.00" y1="215.90" x2="138.00" y2="217.70" stroke="#555" stroke-width="0.7"/>
<line x1="142.00" y1="215.90" x2="142.00" y2="217.70" stroke="#555" stroke-width="0.7"/>
<line x1="145.00" y1="215.90" x2="145.00" y2="217.70" stroke="#555" stroke-width="0.7"/>
<line x1="147.00" y1="215.90" x2="147.00" y2="217.70" stroke="#555" stroke-width="0.7"/>
<line x1="158.00" y1="215.90" x2="158.00" y2="217.70" stroke="#555" stroke-width="0.7"/>
<rect x="169.50" y="140.00" width="76.00" height="75.90" fill="#fff"/>
<line x1="173.30" y1="140.00" x2="173.30" y2="215.90" stroke="#d4d4d4" stroke-width="0.6"/>
<line x1="185.50" y1="140.00" x2="185.50" y2="215.90" stroke="#d4d4d4" stroke-width="0.6"/>
<line x1="203.70" y1="140.00" x2="203.70" y2="215.90" stroke="#d4d4d4" stroke-width="0.6"/>
<line x1="220.60" y1="140.00" x2="220.60" y2="215.90" stroke="#d4d4d4" stroke-width="0.6"/>
<line x1="237.50" y1="140.00" x2="237.50" y2="215.90" stroke="#d4d4d4" stroke-width="0.6"/>
<line x1="179.60" y1="140.00" x2="179.60" y2="215.90" stroke="#b0b0b0" stroke-width="1.4"/>
<line x1="169.50" y1="155.40" x2="245.50" y2="155.40" stroke="#cfcfcf" stroke-width="0.6"/>
<line x1="169.50" y1="170.50" x2="245.50" y2="170.50" stroke="#cfcfcf" stroke-width="0.6"/>
<line x1="169.50" y1="185.60" x2="245.50" y2="185.60" stroke="#cfcfcf" stroke-width="0.6"/>
<line x1="169.50" y1="200.70" x2="245.50" y2="200.70" stroke="#cfcfcf" stroke-width="0.6"/>
<path d="M179.0,155.4 L179.0,155.3 L179.5,155.1 L180.0,154.8 L180.5,154.3 L181.0,153.5 L181.5,152.2 L182.0,150.7 L182.5,148.7 L183.0,146.2 L183.5,144.3 L184.0,143.1 L184.5,142.3 L185.0,142.4 L185.5,142.8 L186.0,144.5 L186.5,146.8 L187.0,148.5 L187.5,150.1 L188.0,151.6 L188.5,152.7 L189.0,153.3 L189.5,153.9 L190.0,154.2 L190.5,154.4 L191.0,154.6 L191.5,154.8 L192.0,154.9 L192.5,155.1 L193.0,155.2 L193.5,155.2 L193.5,155.4 Z" fill="#747474"/>
<path d="M179.0,155.3 L179.5,155.1 L180.0,154.8 L180.5,154.3 L181.0,153.5 L181.5,152.2 L182.0,150.7 L182.5,148.7 L183.0,146.2 L183.5,144.3 L184.0,143.1 L184.5,142.3 L185.0,142.4 L185.5,142.8 L186.0,144.5 L186.5,146.8 L187.0,148.5 L187.5,150.1 L188.0,151.6 L188.5,152.7 L189.0,153.3 L189.5,153.9 L190.0,154.2 L190.5,154.4 L191.0,154.6 L191.5,154.8 L192.0,154.9 L192.5,155.1 L193.0,155.2 L193.5,155.2" fill="none" stroke="#4d4d4d" stroke-width="0.45"/>
<line x1="170.00" y1="155.20" x2="245.00" y2="155.20" stroke="#747474" stroke-width="0.4" opacity="0.5"/>
<path d="M176.5,170.5 L176.5,170.3 L177.0,170.2 L177.5,170.0 L178.0,169.7 L178.5,169.2 L179.0,168.4 L179.5,167.5 L180.0,166.4 L180.5,165.0 L181.0,163.3 L181.5,161.7 L182.0,159.8 L182.5,158.6 L183.0,157.5 L183.5,157.2 L184.0,156.6 L184.5,157.7 L185.0,158.7 L185.5,160.1 L186.0,161.7 L186.5,163.6 L187.0,165.1 L187.5,166.6 L188.0,167.8 L188.5,168.7 L189.0,169.3 L189.5,169.8 L190.0,170.1 L190.5,170.3 L191.0,170.4 L191.0,170.5 Z" fill="#a06a6a"/>
<path d="M176.5,170.3 L177.0,170.2 L177.5,170.0 L178.0,169.7 L178.5,169.2 L179.0,168.4 L179.5,167.5 L180.0,166.4 L180.5,165.0 L181.0,163.3 L181.5,161.7 L182.0,159.8 L182.5,158.6 L183.0,157.5 L183.5,157.2 L184.0,156.6 L184.5,157.7 L185.0,158.7 L185.5,160.1 L186.0,161.7 L186.5,163.6 L187.0,165.1 L187.5,166.6 L188.0,167.8 L188.5,168.7 L189.0,169.3 L189.5,169.8 L190.0,170.1 L190.5,170.3 L191.0,170.4" fill="none" stroke="#7d4a4a" stroke-width="0.45"/>
<line x1="170.00" y1="170.30" x2="245.00" y2="170.30" stroke="#a06a6a" stroke-width="0.4" opacity="0.5"/>
<path d="M176.5,185.6 L176.5,185.5 L177.0,185.3 L177.5,185.1 L178.0,184.8 L178.5,184.4 L179.0,183.6 L179.5,182.8 L180.0,181.5 L180.5,180.0 L181.0,178.5 L181.5,176.9 L182.0,175.2 L182.5,173.8 L183.0,172.6 L183.5,172.6 L184.0,172.3 L184.5,173.2 L185.0,174.2 L185.5,175.4 L186.0,177.2 L186.5,178.8 L187.0,180.3 L187.5,181.7 L188.0,182.9 L188.5,183.7 L189.0,184.4 L189.5,184.8 L190.0,185.1 L190.5,185.3 L191.0,185.3 L191.5,185.4 L192.0,185.4 L192.5,185.4 L193.0,185.3 L193.5,185.3 L194.0,185.3 L194.5,185.3 L195.0,185.2 L195.5,185.2 L196.0,185.2 L196.5,185.2 L197.0,185.2 L197.5,185.2 L198.0,185.2 L198.5,185.2 L199.0,185.2 L199.5,185.3 L200.0,185.3 L200.5,185.3 L201.0,185.4 L201.5,185.4 L202.0,185.4 L202.5,185.4 L203.0,185.5 L203.0,185.6 Z" fill="#a47aae"/>
<path d="M176.5,185.5 L177.0,185.3 L177.5,185.1 L178.0,184.8 L178.5,184.4 L179.0,183.6 L179.5,182.8 L180.0,181.5 L180.5,180.0 L181.0,178.5 L181.5,176.9 L182.0,175.2 L182.5,173.8 L183.0,172.6 L183.5,172.6 L184.0,172.3 L184.5,173.2 L185.0,174.2 L185.5,175.4 L186.0,177.2 L186.5,178.8 L187.0,180.3 L187.5,181.7 L188.0,182.9 L188.5,183.7 L189.0,184.4 L189.5,184.8 L190.0,185.1 L190.5,185.3 L191.0,185.3 L191.5,185.4 L192.0,185.4 L192.5,185.4 L193.0,185.3 L193.5,185.3 L194.0,185.3 L194.5,185.3 L195.0,185.2 L195.5,185.2 L196.0,185.2 L196.5,185.2 L197.0,185.2 L197.5,185.2 L198.0,185.2 L198.5,185.2 L199.0,185.2 L199.5,185.3 L200.0,185.3 L200.5,185.3 L201.0,185.4 L201.5,185.4 L202.0,185.4 L202.5,185.4 L203.0,185.5" fill="none" stroke="#7f5a8a" stroke-width="0.45"/>
<line x1="170.00" y1="185.40" x2="245.00" y2="185.40" stroke="#a47aae" stroke-width="0.4" opacity="0.5"/>
<path d="M208.0,200.7 L208.0,200.6 L208.5,200.5 L209.0,200.4 L209.5,200.3 L210.0,200.2 L210.5,200.0 L211.0,199.7 L211.5,199.3 L212.0,199.0 L212.5,198.5 L213.0,197.9 L213.5,197.3 L214.0,196.5 L214.5,195.6 L215.0,194.7 L215.5,194.0 L216.0,193.0 L216.5,191.9 L217.0,191.1 L217.5,190.1 L218.0,189.4 L218.5,188.3 L219.0,187.7 L219.5,187.2 L220.0,187.7 L220.5,187.3 L221.0,187.6 L221.5,188.5 L222.0,188.5 L222.5,189.3 L223.0,190.6 L223.5,191.2 L224.0,192.5 L224.5,193.4 L225.0,194.2 L225.5,195.2 L226.0,196.3 L226.5,197.0 L227.0,197.7 L227.5,198.3 L228.0,198.8 L228.5,199.2 L229.0,199.6 L229.5,199.9 L230.0,200.1 L230.5,200.2 L231.0,200.4 L231.5,200.5 L232.0,200.5 L232.0,200.7 Z" fill="#547d60"/>
<path d="M208.0,200.6 L208.5,200.5 L209.0,200.4 L209.5,200.3 L210.0,200.2 L210.5,200.0 L211.0,199.7 L211.5,199.3 L212.0,199.0 L212.5,198.5 L213.0,197.9 L213.5,197.3 L214.0,196.5 L214.5,195.6 L215.0,194.7 L215.5,194.0 L216.0,193.0 L216.5,191.9 L217.0,191.1 L217.5,190.1 L218.0,189.4 L218.5,188.3 L219.0,187.7 L219.5,187.2 L220.0,187.7 L220.5,187.3 L221.0,187.6 L221.5,188.5 L222.0,188.5 L222.5,189.3 L223.0,190.6 L223.5,191.2 L224.0,192.5 L224.5,193.4 L225.0,194.2 L225.5,195.2 L226.0,196.3 L226.5,197.0 L227.0,197.7 L227.5,198.3 L228.0,198.8 L228.5,199.2 L229.0,199.6 L229.5,199.9 L230.0,200.1 L230.5,200.2 L231.0,200.4 L231.5,200.5 L232.0,200.5" fill="none" stroke="#3a5e45" stroke-width="0.45"/>
<line x1="170.00" y1="200.50" x2="245.00" y2="200.50" stroke="#547d60" stroke-width="0.4" opacity="0.5"/>
<path d="M185.0,215.9 L185.0,215.8 L185.5,215.7 L186.0,215.6 L186.5,215.5 L187.0,215.4 L187.5,215.3 L188.0,215.2 L188.5,215.0 L189.0,214.7 L189.5,214.4 L190.0,214.2 L190.5,213.7 L191.0,213.4 L191.5,212.9 L192.0,212.6 L192.5,212.0 L193.0,211.6 L193.5,210.8 L194.0,210.3 L194.5,209.7 L195.0,208.9 L195.5,207.9 L196.0,207.2 L196.5,206.8 L197.0,206.1 L197.5,204.9 L198.0,204.4 L198.5,203.7 L199.0,203.6 L199.5,203.2 L200.0,202.3 L200.5,202.3 L201.0,202.6 L201.5,201.9 L202.0,202.4 L202.5,202.7 L203.0,203.8 L203.5,203.9 L204.0,205.2 L204.5,205.6 L205.0,206.8 L205.5,207.8 L206.0,208.6 L206.5,209.4 L207.0,210.5 L207.5,211.4 L208.0,212.0 L208.5,212.8 L209.0,213.4 L209.5,213.9 L210.0,214.3 L210.5,214.6 L211.0,214.9 L211.5,215.2 L212.0,215.3 L212.5,215.5 L213.0,215.6 L213.5,215.7 L214.0,215.7 L214.0,215.9 Z" fill="#85c37b"/>
<path d="M185.0,215.8 L185.5,215.7 L186.0,215.6 L186.5,215.5 L187.0,215.4 L187.5,215.3 L188.0,215.2 L188.5,215.0 L189.0,214.7 L189.5,214.4 L190.0,214.2 L190.5,213.7 L191.0,213.4 L191.5,212.9 L192.0,212.6 L192.5,212.0 L193.0,211.6 L193.5,210.8 L194.0,210.3 L194.5,209.7 L195.0,208.9 L195.5,207.9 L196.0,207.2 L196.5,206.8 L197.0,206.1 L197.5,204.9 L198.0,204.4 L198.5,203.7 L199.0,203.6 L199.5,203.2 L200.0,202.3 L200.5,202.3 L201.0,202.6 L201.5,201.9 L202.0,202.4 L202.5,202.7 L203.0,203.8 L203.5,203.9 L204.0,205.2 L204.5,205.6 L205.0,206.8 L205.5,207.8 L206.0,208.6 L206.5,209.4 L207.0,210.5 L207.5,211.4 L208.0,212.0 L208.5,212.8 L209.0,213.4 L209.5,213.9 L210.0,214.3 L210.5,214.6 L211.0,214.9 L211.5,215.2 L212.0,215.3 L212.5,215.5 L213.0,215.6 L213.5,215.7 L214.0,215.7" fill="none" stroke="#63a05a" stroke-width="0.45"/>
<line x1="170.00" y1="215.70" x2="245.00" y2="215.70" stroke="#85c37b" stroke-width="0.4" opacity="0.5"/>
<rect x="169.50" y="140.00" width="76.00" height="75.90" fill="none" stroke="#a0a0a0" stroke-width="0.7"/>
<line x1="169.50" y1="140.00" x2="169.50" y2="215.90" stroke="#4a4a4a" stroke-width="0.8"/>
<line x1="169.50" y1="215.90" x2="245.50" y2="215.90" stroke="#777" stroke-width="0.8"/>
<line x1="179.60" y1="215.90" x2="179.60" y2="217.70" stroke="#555" stroke-width="0.7"/>
<line x1="203.70" y1="215.90" x2="203.70" y2="217.70" stroke="#555" stroke-width="0.7"/>
<line x1="220.60" y1="215.90" x2="220.60" y2="217.70" stroke="#555" stroke-width="0.7"/>
<line x1="237.50" y1="215.90" x2="237.50" y2="217.70" stroke="#555" stroke-width="0.7"/>
<line x1="173.00" y1="215.90" x2="173.00" y2="217.70" stroke="#555" stroke-width="0.7"/>
<line x1="176.00" y1="215.90" x2="176.00" y2="217.70" stroke="#555" stroke-width="0.7"/>
<line x1="178.00" y1="215.90" x2="178.00" y2="217.70" stroke="#555" stroke-width="0.7"/>
<line x1="182.00" y1="215.90" x2="182.00" y2="217.70" stroke="#555" stroke-width="0.7"/>
<line x1="184.00" y1="215.90" x2="184.00" y2="217.70" stroke="#555" stroke-width="0.7"/>
<line x1="193.00" y1="215.90" x2="193.00" y2="217.70" stroke="#555" stroke-width="0.7"/>
<line x1="199.00" y1="215.90" x2="199.00" y2="217.70" stroke="#555" stroke-width="0.7"/>
<line x1="201.00" y1="215.90" x2="201.00" y2="217.70" stroke="#555" stroke-width="0.7"/>
<line x1="211.00" y1="215.90" x2="211.00" y2="217.70" stroke="#555" stroke-width="0.7"/>
<line x1="216.00" y1="215.90" x2="216.00" y2="217.70" stroke="#555" stroke-width="0.7"/>
<line x1="218.00" y1="215.90" x2="218.00" y2="217.70" stroke="#555" stroke-width="0.7"/>
<line x1="228.00" y1="215.90" x2="228.00" y2="217.70" stroke="#555" stroke-width="0.7"/>
<line x1="233.00" y1="215.90" x2="233.00" y2="217.70" stroke="#555" stroke-width="0.7"/>
<line x1="235.00" y1="215.90" x2="235.00" y2="217.70" stroke="#555" stroke-width="0.7"/>
<line x1="243.00" y1="215.90" x2="243.00" y2="217.70" stroke="#555" stroke-width="0.7"/>
<text font-size="7.93" text-anchor="end" fill="#222" transform="translate(81.80 154.06) scale(0.92 1)">Nalm-6 DKO</text>
<text font-size="8.04" text-anchor="end" fill="#222" transform="translate(81.80 168.80) scale(0.92 1)">Nalm-6 CD19<tspan baseline-shift="3.22" font-size="5.31">+</tspan>CD22<tspan baseline-shift="3.22" font-size="5.31">KO</tspan></text>
<text font-size="8.04" text-anchor="end" fill="#222" transform="translate(81.80 183.90) scale(0.92 1)">Nalm-6 CD19<tspan baseline-shift="3.22" font-size="5.79">low</tspan>CD22<tspan baseline-shift="3.22" font-size="5.31">KO</tspan></text>
<text font-size="8.04" text-anchor="end" fill="#222" transform="translate(81.80 198.60) scale(0.92 1)">Nalm-6 CD19<tspan baseline-shift="3.22" font-size="5.31">KO</tspan>CD22<tspan baseline-shift="3.22" font-size="5.31">+</tspan></text>
<text font-size="8.04" text-anchor="end" fill="#222" transform="translate(81.80 213.60) scale(0.92 1)">Nalm-6 CD19<tspan baseline-shift="3.22" font-size="5.31">KO</tspan>CD22<tspan baseline-shift="3.22" font-size="5.79">low</tspan></text>
<text font-size="6.85" text-anchor="middle" fill="#222" transform="translate(93.80 226.27) scale(0.92 1)">0</text>
<text font-size="6.85" text-anchor="middle" fill="#222" transform="translate(123.50 226.27) scale(0.92 1)">10<tspan baseline-shift="2.74" font-size="4.52">4</tspan></text>
<text font-size="6.85" text-anchor="middle" fill="#222" transform="translate(149.40 226.27) scale(0.92 1)">10<tspan baseline-shift="2.74" font-size="4.52">5</tspan></text>
<text font-size="7.28" fill="#222" transform="translate(86.30 236.42) scale(0.92 1)">CD19-BV421</text>
<line x1="129.00" y1="233.80" x2="159.50" y2="233.80" stroke="#333" stroke-width="0.8"/>
<path d="M161,233.8 L157.5,232.3 L157.5,235.3 Z" fill="#333"/>
<text font-size="6.85" text-anchor="middle" fill="#222" transform="translate(179.60 226.27) scale(0.92 1)">0</text>
<text font-size="6.85" text-anchor="middle" fill="#222" transform="translate(203.50 226.27) scale(0.92 1)">10<tspan baseline-shift="2.74" font-size="4.52">4</tspan></text>
<text font-size="6.85" text-anchor="middle" fill="#222" transform="translate(220.10 226.27) scale(0.92 1)">10<tspan baseline-shift="2.74" font-size="4.52">5</tspan></text>
<text font-size="6.85" text-anchor="middle" fill="#222" transform="translate(237.20 226.27) scale(0.92 1)">10<tspan baseline-shift="2.74" font-size="4.52">6</tspan></text>
<text font-size="7.28" fill="#222" transform="translate(171.30 236.42) scale(0.92 1)">CD22-BV421</text>
<line x1="214.00" y1="233.80" x2="243.20" y2="233.80" stroke="#333" stroke-width="0.8"/>
<path d="M244.7,233.8 L241.2,232.3 L241.2,235.3 Z" fill="#333"/>
<text x="261.50" y="136.90" font-size="12" font-weight="bold" fill="#111" stroke="#111" stroke-width="0.45">d</text>
<text font-size="8.04" text-anchor="middle" fill="#c07fbc" transform="translate(338.30 137.70) scale(0.92 1)">Nalm-6 CD19<tspan baseline-shift="3.22" font-size="5.79">low</tspan>CD22<tspan baseline-shift="3.22" font-size="5.31">KO</tspan></text>
<rect x="301.20" y="141.00" width="76.60" height="75.00" fill="#fff"/>
<line x1="339.20" y1="141.00" x2="339.20" y2="216.00" stroke="#d4d4d4" stroke-width="0.6"/>
<line x1="366.20" y1="141.00" x2="366.20" y2="216.00" stroke="#d4d4d4" stroke-width="0.6"/>
<line x1="307.50" y1="141.00" x2="307.50" y2="216.00" stroke="#b0b0b0" stroke-width="1.4"/>
<line x1="301.20" y1="154.50" x2="377.80" y2="154.50" stroke="#cfcfcf" stroke-width="0.6"/>
<line x1="301.20" y1="166.40" x2="377.80" y2="166.40" stroke="#cfcfcf" stroke-width="0.6"/>
<line x1="301.20" y1="178.90" x2="377.80" y2="178.90" stroke="#cfcfcf" stroke-width="0.6"/>
<line x1="301.20" y1="191.30" x2="377.80" y2="191.30" stroke="#cfcfcf" stroke-width="0.6"/>
<line x1="301.20" y1="203.50" x2="377.80" y2="203.50" stroke="#cfcfcf" stroke-width="0.6"/>
<path d="M355.0,154.5 L355.0,154.3 L355.5,154.3 L356.0,154.1 L356.5,154.0 L357.0,153.8 L357.5,153.6 L358.0,153.2 L358.5,152.8 L359.0,152.3 L359.5,151.8 L360.0,150.9 L360.5,150.2 L361.0,149.4 L361.5,148.3 L362.0,147.1 L362.5,146.4 L363.0,145.1 L363.5,144.4 L364.0,143.6 L364.5,142.8 L365.0,142.7 L365.5,142.6 L366.0,142.7 L366.5,143.0 L367.0,144.2 L367.5,144.9 L368.0,146.0 L368.5,147.2 L369.0,148.5 L369.5,149.6 L370.0,150.7 L370.5,151.5 L371.0,152.3 L371.5,152.8 L372.0,153.3 L372.5,153.7 L373.0,154.0 L373.5,154.1 L374.0,154.3 L374.5,154.4 L374.5,154.5 Z" fill="#747474"/>
<path d="M355.0,154.3 L355.5,154.3 L356.0,154.1 L356.5,154.0 L357.0,153.8 L357.5,153.6 L358.0,153.2 L358.5,152.8 L359.0,152.3 L359.5,151.8 L360.0,150.9 L360.5,150.2 L361.0,149.4 L361.5,148.3 L362.0,147.1 L362.5,146.4 L363.0,145.1 L363.5,144.4 L364.0,143.6 L364.5,142.8 L365.0,142.7 L365.5,142.6 L366.0,142.7 L366.5,143.0 L367.0,144.2 L367.5,144.9 L368.0,146.0 L368.5,147.2 L369.0,148.5 L369.5,149.6 L370.0,150.7 L370.5,151.5 L371.0,152.3 L371.5,152.8 L372.0,153.3 L372.5,153.7 L373.0,154.0 L373.5,154.1 L374.0,154.3 L374.5,154.4" fill="none" stroke="#4d4d4d" stroke-width="0.45"/>
<line x1="302.00" y1="154.30" x2="377.00" y2="154.30" stroke="#747474" stroke-width="0.4" opacity="0.5"/>
<path d="M333.5,166.4 L333.5,166.3 L334.0,166.2 L334.5,166.1 L335.0,166.0 L335.5,165.9 L336.0,165.8 L336.5,165.6 L337.0,165.5 L337.5,165.4 L338.0,165.2 L338.5,165.0 L339.0,164.8 L339.5,164.7 L340.0,164.4 L340.5,164.3 L341.0,164.0 L341.5,163.8 L342.0,163.7 L342.5,163.7 L343.0,163.3 L343.5,163.3 L344.0,163.1 L344.5,163.0 L345.0,162.7 L345.5,162.5 L346.0,162.2 L346.5,162.2 L347.0,161.8 L347.5,161.9 L348.0,161.5 L348.5,161.4 L349.0,161.1 L349.5,161.0 L350.0,160.8 L350.5,160.4 L351.0,160.2 L351.5,159.6 L352.0,159.3 L352.5,158.8 L353.0,158.5 L353.5,158.0 L354.0,157.5 L354.5,157.5 L355.0,157.1 L355.5,156.2 L356.0,156.7 L356.5,155.9 L357.0,155.8 L357.5,156.4 L358.0,155.6 L358.5,155.7 L359.0,156.2 L359.5,156.4 L360.0,156.7 L360.5,157.7 L361.0,157.7 L361.5,158.0 L362.0,158.0 L362.5,158.2 L363.0,158.2 L363.5,158.4 L364.0,158.0 L364.5,158.0 L365.0,157.9 L365.5,158.1 L366.0,158.3 L366.5,158.2 L367.0,158.2 L367.5,158.7 L368.0,158.7 L368.5,159.5 L369.0,160.2 L369.5,161.0 L370.0,161.7 L370.5,162.6 L371.0,163.5 L371.5,163.9 L372.0,164.5 L372.5,165.0 L373.0,165.4 L373.5,165.7 L374.0,165.9 L374.5,166.1 L375.0,166.2 L375.5,166.3 L375.5,166.4 Z" fill="#a47aae"/>
<path d="M333.5,166.3 L334.0,166.2 L334.5,166.1 L335.0,166.0 L335.5,165.9 L336.0,165.8 L336.5,165.6 L337.0,165.5 L337.5,165.4 L338.0,165.2 L338.5,165.0 L339.0,164.8 L339.5,164.7 L340.0,164.4 L340.5,164.3 L341.0,164.0 L341.5,163.8 L342.0,163.7 L342.5,163.7 L343.0,163.3 L343.5,163.3 L344.0,163.1 L344.5,163.0 L345.0,162.7 L345.5,162.5 L346.0,162.2 L346.5,162.2 L347.0,161.8 L347.5,161.9 L348.0,161.5 L348.5,161.4 L349.0,161.1 L349.5,161.0 L350.0,160.8 L350.5,160.4 L351.0,160.2 L351.5,159.6 L352.0,159.3 L352.5,158.8 L353.0,158.5 L353.5,158.0 L354.0,157.5 L354.5,157.5 L355.0,157.1 L355.5,156.2 L356.0,156.7 L356.5,155.9 L357.0,155.8 L357.5,156.4 L358.0,155.6 L358.5,155.7 L359.0,156.2 L359.5,156.4 L360.0,156.7 L360.5,157.7 L361.0,157.7 L361.5,158.0 L362.0,158.0 L362.5,158.2 L363.0,158.2 L363.5,158.4 L364.0,158.0 L364.5,158.0 L365.0,157.9 L365.5,158.1 L366.0,158.3 L366.5,158.2 L367.0,158.2 L367.5,158.7 L368.0,158.7 L368.5,159.5 L369.0,160.2 L369.5,161.0 L370.0,161.7 L370.5,162.6 L371.0,163.5 L371.5,163.9 L372.0,164.5 L372.5,165.0 L373.0,165.4 L373.5,165.7 L374.0,165.9 L374.5,166.1 L375.0,166.2 L375.5,166.3" fill="none" stroke="#7f5a8a" stroke-width="0.45"/>
<line x1="302.00" y1="166.20" x2="377.00" y2="166.20" stroke="#a47aae" stroke-width="0.4" opacity="0.5"/>
<path d="M355.0,178.9 L355.0,178.8 L355.5,178.7 L356.0,178.6 L356.5,178.4 L357.0,178.3 L357.5,178.0 L358.0,177.7 L358.5,177.4 L359.0,176.9 L359.5,176.3 L360.0,175.7 L360.5,174.8 L361.0,173.9 L361.5,173.2 L362.0,172.3 L362.5,171.3 L363.0,170.2 L363.5,169.3 L364.0,168.7 L364.5,168.2 L365.0,168.2 L365.5,168.1 L366.0,168.3 L366.5,168.4 L367.0,169.4 L367.5,170.1 L368.0,171.4 L368.5,172.4 L369.0,173.4 L369.5,174.3 L370.0,175.2 L370.5,176.1 L371.0,176.8 L371.5,177.3 L372.0,177.8 L372.5,178.1 L373.0,178.4 L373.5,178.6 L374.0,178.7 L374.5,178.8 L374.5,178.9 Z" fill="#747474"/>
<path d="M355.0,178.8 L355.5,178.7 L356.0,178.6 L356.5,178.4 L357.0,178.3 L357.5,178.0 L358.0,177.7 L358.5,177.4 L359.0,176.9 L359.5,176.3 L360.0,175.7 L360.5,174.8 L361.0,173.9 L361.5,173.2 L362.0,172.3 L362.5,171.3 L363.0,170.2 L363.5,169.3 L364.0,168.7 L364.5,168.2 L365.0,168.2 L365.5,168.1 L366.0,168.3 L366.5,168.4 L367.0,169.4 L367.5,170.1 L368.0,171.4 L368.5,172.4 L369.0,173.4 L369.5,174.3 L370.0,175.2 L370.5,176.1 L371.0,176.8 L371.5,177.3 L372.0,177.8 L372.5,178.1 L373.0,178.4 L373.5,178.6 L374.0,178.7 L374.5,178.8" fill="none" stroke="#4d4d4d" stroke-width="0.45"/>
<line x1="302.00" y1="178.70" x2="377.00" y2="178.70" stroke="#747474" stroke-width="0.4" opacity="0.5"/>
<path d="M333.0,191.3 L333.0,191.2 L333.5,191.1 L334.0,191.0 L334.5,190.9 L335.0,190.8 L335.5,190.7 L336.0,190.6 L336.5,190.4 L337.0,190.2 L337.5,190.2 L338.0,189.9 L338.5,189.7 L339.0,189.5 L339.5,189.4 L340.0,189.3 L340.5,189.1 L341.0,188.8 L341.5,188.8 L342.0,188.5 L342.5,188.4 L343.0,188.1 L343.5,187.7 L344.0,187.8 L344.5,187.3 L345.0,187.3 L345.5,187.0 L346.0,186.9 L346.5,187.0 L347.0,186.6 L347.5,186.7 L348.0,186.9 L348.5,186.8 L349.0,186.6 L349.5,186.5 L350.0,186.5 L350.5,186.5 L351.0,186.2 L351.5,186.0 L352.0,185.5 L352.5,185.6 L353.0,184.7 L353.5,184.2 L354.0,184.2 L354.5,183.1 L355.0,182.7 L355.5,181.9 L356.0,182.0 L356.5,181.5 L357.0,181.1 L357.5,180.1 L358.0,180.4 L358.5,180.5 L359.0,180.5 L359.5,180.7 L360.0,181.1 L360.5,181.3 L361.0,180.7 L361.5,181.5 L362.0,181.0 L362.5,181.9 L363.0,181.9 L363.5,181.8 L364.0,182.1 L364.5,181.9 L365.0,181.4 L365.5,181.6 L366.0,181.9 L366.5,182.5 L367.0,182.7 L367.5,183.3 L368.0,184.3 L368.5,185.0 L369.0,186.2 L369.5,186.6 L370.0,187.5 L370.5,188.2 L371.0,188.9 L371.5,189.5 L372.0,190.0 L372.5,190.3 L373.0,190.6 L373.5,190.8 L374.0,191.0 L374.5,191.1 L375.0,191.2 L375.0,191.3 Z" fill="#a47aae"/>
<path d="M333.0,191.2 L333.5,191.1 L334.0,191.0 L334.5,190.9 L335.0,190.8 L335.5,190.7 L336.0,190.6 L336.5,190.4 L337.0,190.2 L337.5,190.2 L338.0,189.9 L338.5,189.7 L339.0,189.5 L339.5,189.4 L340.0,189.3 L340.5,189.1 L341.0,188.8 L341.5,188.8 L342.0,188.5 L342.5,188.4 L343.0,188.1 L343.5,187.7 L344.0,187.8 L344.5,187.3 L345.0,187.3 L345.5,187.0 L346.0,186.9 L346.5,187.0 L347.0,186.6 L347.5,186.7 L348.0,186.9 L348.5,186.8 L349.0,186.6 L349.5,186.5 L350.0,186.5 L350.5,186.5 L351.0,186.2 L351.5,186.0 L352.0,185.5 L352.5,185.6 L353.0,184.7 L353.5,184.2 L354.0,184.2 L354.5,183.1 L355.0,182.7 L355.5,181.9 L356.0,182.0 L356.5,181.5 L357.0,181.1 L357.5,180.1 L358.0,180.4 L358.5,180.5 L359.0,180.5 L359.5,180.7 L360.0,181.1 L360.5,181.3 L361.0,180.7 L361.5,181.5 L362.0,181.0 L362.5,181.9 L363.0,181.9 L363.5,181.8 L364.0,182.1 L364.5,181.9 L365.0,181.4 L365.5,181.6 L366.0,181.9 L366.5,182.5 L367.0,182.7 L367.5,183.3 L368.0,184.3 L368.5,185.0 L369.0,186.2 L369.5,186.6 L370.0,187.5 L370.5,188.2 L371.0,188.9 L371.5,189.5 L372.0,190.0 L372.5,190.3 L373.0,190.6 L373.5,190.8 L374.0,191.0 L374.5,191.1 L375.0,191.2" fill="none" stroke="#7f5a8a" stroke-width="0.45"/>
<line x1="302.00" y1="191.10" x2="377.00" y2="191.10" stroke="#a47aae" stroke-width="0.4" opacity="0.5"/>
<path d="M355.0,203.5 L355.0,203.4 L355.5,203.3 L356.0,203.2 L356.5,203.0 L357.0,202.9 L357.5,202.6 L358.0,202.3 L358.5,201.9 L359.0,201.5 L359.5,201.0 L360.0,200.3 L360.5,199.6 L361.0,198.8 L361.5,197.9 L362.0,197.1 L362.5,196.2 L363.0,195.3 L363.5,194.1 L364.0,193.6 L364.5,193.3 L365.0,192.5 L365.5,192.4 L366.0,193.0 L366.5,193.7 L367.0,194.3 L367.5,195.2 L368.0,196.0 L368.5,197.2 L369.0,198.1 L369.5,199.1 L370.0,199.9 L370.5,200.7 L371.0,201.4 L371.5,202.0 L372.0,202.4 L372.5,202.7 L373.0,203.0 L373.5,203.2 L374.0,203.3 L374.5,203.4 L374.5,203.5 Z" fill="#747474"/>
<path d="M355.0,203.4 L355.5,203.3 L356.0,203.2 L356.5,203.0 L357.0,202.9 L357.5,202.6 L358.0,202.3 L358.5,201.9 L359.0,201.5 L359.5,201.0 L360.0,200.3 L360.5,199.6 L361.0,198.8 L361.5,197.9 L362.0,197.1 L362.5,196.2 L363.0,195.3 L363.5,194.1 L364.0,193.6 L364.5,193.3 L365.0,192.5 L365.5,192.4 L366.0,193.0 L366.5,193.7 L367.0,194.3 L367.5,195.2 L368.0,196.0 L368.5,197.2 L369.0,198.1 L369.5,199.1 L370.0,199.9 L370.5,200.7 L371.0,201.4 L371.5,202.0 L372.0,202.4 L372.5,202.7 L373.0,203.0 L373.5,203.2 L374.0,203.3 L374.5,203.4" fill="none" stroke="#4d4d4d" stroke-width="0.45"/>
<line x1="302.00" y1="203.30" x2="377.00" y2="203.30" stroke="#747474" stroke-width="0.4" opacity="0.5"/>
<path d="M351.0,216.0 L351.0,215.9 L351.5,215.8 L352.0,215.7 L352.5,215.6 L353.0,215.5 L353.5,215.3 L354.0,215.1 L354.5,214.8 L355.0,214.6 L355.5,214.2 L356.0,213.8 L356.5,213.4 L357.0,213.0 L357.5,212.5 L358.0,212.0 L358.5,211.3 L359.0,210.6 L359.5,209.6 L360.0,208.8 L360.5,207.9 L361.0,207.5 L361.5,206.7 L362.0,205.6 L362.5,205.0 L363.0,205.0 L363.5,204.9 L364.0,205.6 L364.5,205.8 L365.0,206.3 L365.5,207.2 L366.0,208.3 L366.5,209.3 L367.0,210.7 L367.5,211.7 L368.0,212.6 L368.5,213.3 L369.0,214.0 L369.5,214.5 L370.0,215.0 L370.5,215.3 L371.0,215.5 L371.5,215.7 L372.0,215.8 L372.0,216.0 Z" fill="#a47aae"/>
<path d="M351.0,215.9 L351.5,215.8 L352.0,215.7 L352.5,215.6 L353.0,215.5 L353.5,215.3 L354.0,215.1 L354.5,214.8 L355.0,214.6 L355.5,214.2 L356.0,213.8 L356.5,213.4 L357.0,213.0 L357.5,212.5 L358.0,212.0 L358.5,211.3 L359.0,210.6 L359.5,209.6 L360.0,208.8 L360.5,207.9 L361.0,207.5 L361.5,206.7 L362.0,205.6 L362.5,205.0 L363.0,205.0 L363.5,204.9 L364.0,205.6 L364.5,205.8 L365.0,206.3 L365.5,207.2 L366.0,208.3 L366.5,209.3 L367.0,210.7 L367.5,211.7 L368.0,212.6 L368.5,213.3 L369.0,214.0 L369.5,214.5 L370.0,215.0 L370.5,215.3 L371.0,215.5 L371.5,215.7 L372.0,215.8" fill="none" stroke="#7f5a8a" stroke-width="0.45"/>
<line x1="302.00" y1="215.80" x2="377.00" y2="215.80" stroke="#a47aae" stroke-width="0.4" opacity="0.5"/>
<rect x="301.20" y="141.00" width="76.60" height="75.00" fill="none" stroke="#a0a0a0" stroke-width="0.7"/>
<line x1="301.20" y1="141.00" x2="301.20" y2="216.00" stroke="#4a4a4a" stroke-width="0.8"/>
<line x1="301.20" y1="216.00" x2="377.80" y2="216.00" stroke="#777" stroke-width="0.8"/>
<line x1="307.50" y1="216.00" x2="307.50" y2="217.80" stroke="#555" stroke-width="0.7"/>
<line x1="339.20" y1="216.00" x2="339.20" y2="217.80" stroke="#555" stroke-width="0.7"/>
<line x1="366.20" y1="216.00" x2="366.20" y2="217.80" stroke="#555" stroke-width="0.7"/>
<line x1="303.00" y1="216.00" x2="303.00" y2="217.80" stroke="#555" stroke-width="0.7"/>
<line x1="305.00" y1="216.00" x2="305.00" y2="217.80" stroke="#555" stroke-width="0.7"/>
<line x1="310.00" y1="216.00" x2="310.00" y2="217.80" stroke="#555" stroke-width="0.7"/>
<line x1="313.00" y1="216.00" x2="313.00" y2="217.80" stroke="#555" stroke-width="0.7"/>
<line x1="321.00" y1="216.00" x2="321.00" y2="217.80" stroke="#555" stroke-width="0.7"/>
<line x1="329.00" y1="216.00" x2="329.00" y2="217.80" stroke="#555" stroke-width="0.7"/>
<line x1="334.00" y1="216.00" x2="334.00" y2="217.80" stroke="#555" stroke-width="0.7"/>
<line x1="337.00" y1="216.00" x2="337.00" y2="217.80" stroke="#555" stroke-width="0.7"/>
<line x1="347.00" y1="216.00" x2="347.00" y2="217.80" stroke="#555" stroke-width="0.7"/>
<line x1="354.00" y1="216.00" x2="354.00" y2="217.80" stroke="#555" stroke-width="0.7"/>
<line x1="358.00" y1="216.00" x2="358.00" y2="217.80" stroke="#555" stroke-width="0.7"/>
<line x1="361.00" y1="216.00" x2="361.00" y2="217.80" stroke="#555" stroke-width="0.7"/>
<line x1="364.00" y1="216.00" x2="364.00" y2="217.80" stroke="#555" stroke-width="0.7"/>
<line x1="375.00" y1="216.00" x2="375.00" y2="217.80" stroke="#555" stroke-width="0.7"/>
<text font-size="6.52" fill="#222" transform="translate(347.00 148.85) scale(0.92 1)">DKO</text>
<text font-size="6.52" fill="#222" transform="translate(347.00 173.85) scale(0.92 1)">DKO</text>
<text font-size="6.52" fill="#222" transform="translate(347.00 198.65) scale(0.92 1)">DKO</text>
<rect x="297.00" y="141.00" width="2.00" height="25.40" fill="#f3a95a"/>
<rect x="297.00" y="166.40" width="2.00" height="24.90" fill="#3cb4e6"/>
<rect x="297.00" y="191.30" width="2.00" height="24.70" fill="#a23a84"/>
<text font-size="8.04" text-anchor="end" fill="#222" transform="translate(294.60 153.30) scale(0.92 1)">CD19 full</text>
<text font-size="8.04" text-anchor="end" fill="#222" transform="translate(294.60 162.20) scale(0.92 1)">ChTCR</text>
<text font-size="7.72" text-anchor="end" fill="#222" transform="translate(294.60 180.68) scale(0.92 1)">Bi-ChTCR</text>
<text font-size="8.04" text-anchor="end" fill="#222" transform="translate(294.60 205.50) scale(0.92 1)">Loop CAR</text>
<text font-size="6.85" text-anchor="middle" fill="#222" transform="translate(307.90 225.47) scale(0.92 1)">0</text>
<text font-size="6.85" text-anchor="middle" fill="#222" transform="translate(339.20 225.47) scale(0.92 1)">10<tspan baseline-shift="2.74" font-size="4.52">4</tspan></text>
<text font-size="6.85" text-anchor="middle" fill="#222" transform="translate(366.20 225.47) scale(0.92 1)">10<tspan baseline-shift="2.74" font-size="4.52">5</tspan></text>
<text font-size="8.04" fill="#222" transform="translate(336.40 233.90) scale(0.92 1)">CTV</text>
<line x1="354.00" y1="231.00" x2="377.50" y2="231.00" stroke="#333" stroke-width="0.8"/>
<path d="M379,231 L375.5,229.5 L375.5,232.5 Z" fill="#333"/>
<text x="0.50" y="272.10" font-size="12" font-weight="bold" fill="#111" stroke="#111" stroke-width="0.45">g</text>
<text font-size="8.04" text-anchor="middle" fill="#98d096" transform="translate(79.10 277.40) scale(0.92 1)">Nalm-6 CD19<tspan baseline-shift="3.22" font-size="5.31">KO</tspan>CD22<tspan baseline-shift="3.22" font-size="5.79">low</tspan></text>
<rect x="40.20" y="282.30" width="77.10" height="73.70" fill="#fff"/>
<line x1="64.90" y1="282.30" x2="64.90" y2="356.00" stroke="#d4d4d4" stroke-width="0.6"/>
<line x1="88.30" y1="282.30" x2="88.30" y2="356.00" stroke="#d4d4d4" stroke-width="0.6"/>
<line x1="108.80" y1="282.30" x2="108.80" y2="356.00" stroke="#d4d4d4" stroke-width="0.6"/>
<line x1="51.70" y1="282.30" x2="51.70" y2="356.00" stroke="#b0b0b0" stroke-width="1.4"/>
<line x1="40.20" y1="295.30" x2="117.30" y2="295.30" stroke="#cfcfcf" stroke-width="0.6"/>
<line x1="40.20" y1="307.50" x2="117.30" y2="307.50" stroke="#cfcfcf" stroke-width="0.6"/>
<line x1="40.20" y1="319.80" x2="117.30" y2="319.80" stroke="#cfcfcf" stroke-width="0.6"/>
<line x1="40.20" y1="332.10" x2="117.30" y2="332.10" stroke="#cfcfcf" stroke-width="0.6"/>
<line x1="40.20" y1="344.30" x2="117.30" y2="344.30" stroke="#cfcfcf" stroke-width="0.6"/>
<path d="M87.5,295.3 L87.5,295.1 L88.0,295.0 L88.5,294.8 L89.0,294.5 L89.5,294.2 L90.0,293.7 L90.5,293.1 L91.0,292.1 L91.5,291.2 L92.0,289.9 L92.5,288.8 L93.0,287.7 L93.5,286.6 L94.0,285.5 L94.5,284.4 L95.0,283.9 L95.5,284.1 L96.0,284.3 L96.5,284.5 L97.0,285.3 L97.5,286.4 L98.0,287.5 L98.5,288.5 L99.0,289.8 L99.5,290.7 L100.0,291.6 L100.5,292.3 L101.0,293.1 L101.5,293.6 L102.0,294.1 L102.5,294.4 L103.0,294.7 L103.5,294.8 L104.0,295.0 L104.5,295.1 L105.0,295.2 L105.0,295.3 Z" fill="#747474"/>
<path d="M87.5,295.1 L88.0,295.0 L88.5,294.8 L89.0,294.5 L89.5,294.2 L90.0,293.7 L90.5,293.1 L91.0,292.1 L91.5,291.2 L92.0,289.9 L92.5,288.8 L93.0,287.7 L93.5,286.6 L94.0,285.5 L94.5,284.4 L95.0,283.9 L95.5,284.1 L96.0,284.3 L96.5,284.5 L97.0,285.3 L97.5,286.4 L98.0,287.5 L98.5,288.5 L99.0,289.8 L99.5,290.7 L100.0,291.6 L100.5,292.3 L101.0,293.1 L101.5,293.6 L102.0,294.1 L102.5,294.4 L103.0,294.7 L103.5,294.8 L104.0,295.0 L104.5,295.1 L105.0,295.2" fill="none" stroke="#4d4d4d" stroke-width="0.45"/>
<line x1="41.00" y1="295.10" x2="117.00" y2="295.10" stroke="#747474" stroke-width="0.4" opacity="0.5"/>
<path d="M59.5,307.5 L59.5,307.3 L60.0,307.3 L60.5,307.2 L61.0,307.1 L61.5,307.0 L62.0,306.8 L62.5,306.6 L63.0,306.5 L63.5,306.1 L64.0,305.8 L64.5,305.5 L65.0,305.1 L65.5,304.6 L66.0,304.0 L66.5,303.8 L67.0,303.4 L67.5,302.7 L68.0,302.2 L68.5,301.5 L69.0,301.3 L69.5,300.4 L70.0,299.9 L70.5,299.7 L71.0,299.5 L71.5,298.5 L72.0,298.7 L72.5,297.9 L73.0,298.2 L73.5,297.9 L74.0,297.1 L74.5,297.4 L75.0,296.5 L75.5,296.9 L76.0,297.1 L76.5,297.1 L77.0,296.9 L77.5,296.7 L78.0,296.5 L78.5,297.5 L79.0,297.4 L79.5,297.8 L80.0,297.4 L80.5,298.4 L81.0,298.8 L81.5,299.1 L82.0,299.1 L82.5,299.0 L83.0,299.3 L83.5,299.7 L84.0,299.7 L84.5,300.0 L85.0,300.7 L85.5,301.0 L86.0,300.7 L86.5,301.1 L87.0,301.7 L87.5,301.5 L88.0,301.9 L88.5,302.1 L89.0,302.3 L89.5,302.5 L90.0,302.8 L90.5,302.8 L91.0,303.0 L91.5,302.9 L92.0,303.5 L92.5,303.4 L93.0,303.9 L93.5,304.1 L94.0,304.3 L94.5,304.7 L95.0,305.1 L95.5,305.5 L96.0,305.7 L96.5,306.1 L97.0,306.3 L97.5,306.6 L98.0,306.8 L98.5,306.9 L99.0,307.1 L99.5,307.2 L100.0,307.3 L100.5,307.3 L100.5,307.5 Z" fill="#85c37b"/>
<path d="M59.5,307.3 L60.0,307.3 L60.5,307.2 L61.0,307.1 L61.5,307.0 L62.0,306.8 L62.5,306.6 L63.0,306.5 L63.5,306.1 L64.0,305.8 L64.5,305.5 L65.0,305.1 L65.5,304.6 L66.0,304.0 L66.5,303.8 L67.0,303.4 L67.5,302.7 L68.0,302.2 L68.5,301.5 L69.0,301.3 L69.5,300.4 L70.0,299.9 L70.5,299.7 L71.0,299.5 L71.5,298.5 L72.0,298.7 L72.5,297.9 L73.0,298.2 L73.5,297.9 L74.0,297.1 L74.5,297.4 L75.0,296.5 L75.5,296.9 L76.0,297.1 L76.5,297.1 L77.0,296.9 L77.5,296.7 L78.0,296.5 L78.5,297.5 L79.0,297.4 L79.5,297.8 L80.0,297.4 L80.5,298.4 L81.0,298.8 L81.5,299.1 L82.0,299.1 L82.5,299.0 L83.0,299.3 L83.5,299.7 L84.0,299.7 L84.5,300.0 L85.0,300.7 L85.5,301.0 L86.0,300.7 L86.5,301.1 L87.0,301.7 L87.5,301.5 L88.0,301.9 L88.5,302.1 L89.0,302.3 L89.5,302.5 L90.0,302.8 L90.5,302.8 L91.0,303.0 L91.5,302.9 L92.0,303.5 L92.5,303.4 L93.0,303.9 L93.5,304.1 L94.0,304.3 L94.5,304.7 L95.0,305.1 L95.5,305.5 L96.0,305.7 L96.5,306.1 L97.0,306.3 L97.5,306.6 L98.0,306.8 L98.5,306.9 L99.0,307.1 L99.5,307.2 L100.0,307.3 L100.5,307.3" fill="none" stroke="#63a05a" stroke-width="0.45"/>
<line x1="41.00" y1="307.30" x2="117.00" y2="307.30" stroke="#85c37b" stroke-width="0.4" opacity="0.5"/>
<path d="M84.5,319.8 L84.5,319.7 L85.0,319.6 L85.5,319.4 L86.0,319.2 L86.5,318.9 L87.0,318.4 L87.5,317.9 L88.0,317.2 L88.5,316.4 L89.0,315.4 L89.5,314.0 L90.0,313.0 L90.5,311.7 L91.0,310.5 L91.5,310.0 L92.0,309.4 L92.5,308.7 L93.0,308.9 L93.5,309.5 L94.0,309.9 L94.5,311.0 L95.0,312.0 L95.5,313.2 L96.0,314.0 L96.5,315.0 L97.0,316.0 L97.5,316.8 L98.0,317.6 L98.5,318.1 L99.0,318.5 L99.5,318.9 L100.0,319.1 L100.5,319.3 L101.0,319.5 L101.5,319.6 L102.0,319.7 L102.0,319.8 Z" fill="#747474"/>
<path d="M84.5,319.7 L85.0,319.6 L85.5,319.4 L86.0,319.2 L86.5,318.9 L87.0,318.4 L87.5,317.9 L88.0,317.2 L88.5,316.4 L89.0,315.4 L89.5,314.0 L90.0,313.0 L90.5,311.7 L91.0,310.5 L91.5,310.0 L92.0,309.4 L92.5,308.7 L93.0,308.9 L93.5,309.5 L94.0,309.9 L94.5,311.0 L95.0,312.0 L95.5,313.2 L96.0,314.0 L96.5,315.0 L97.0,316.0 L97.5,316.8 L98.0,317.6 L98.5,318.1 L99.0,318.5 L99.5,318.9 L100.0,319.1 L100.5,319.3 L101.0,319.5 L101.5,319.6 L102.0,319.7" fill="none" stroke="#4d4d4d" stroke-width="0.45"/>
<line x1="41.00" y1="319.60" x2="117.00" y2="319.60" stroke="#747474" stroke-width="0.4" opacity="0.5"/>
<path d="M57.5,332.1 L57.5,331.9 L58.0,331.9 L58.5,331.8 L59.0,331.7 L59.5,331.6 L60.0,331.4 L60.5,331.2 L61.0,331.0 L61.5,330.7 L62.0,330.5 L62.5,330.0 L63.0,329.6 L63.5,329.2 L64.0,328.7 L64.5,328.3 L65.0,327.9 L65.5,327.4 L66.0,326.9 L66.5,326.1 L67.0,326.0 L67.5,325.5 L68.0,324.7 L68.5,324.6 L69.0,324.4 L69.5,324.0 L70.0,323.2 L70.5,323.1 L71.0,322.2 L71.5,322.0 L72.0,321.6 L72.5,322.1 L73.0,322.1 L73.5,321.9 L74.0,321.4 L74.5,321.1 L75.0,321.3 L75.5,321.6 L76.0,321.4 L76.5,321.3 L77.0,321.5 L77.5,321.6 L78.0,321.7 L78.5,322.2 L79.0,323.0 L79.5,322.6 L80.0,323.4 L80.5,323.4 L81.0,323.9 L81.5,323.8 L82.0,324.5 L82.5,324.7 L83.0,325.0 L83.5,325.3 L84.0,325.0 L84.5,325.4 L85.0,325.8 L85.5,326.0 L86.0,325.8 L86.5,326.2 L87.0,326.6 L87.5,326.4 L88.0,326.6 L88.5,326.6 L89.0,327.2 L89.5,327.2 L90.0,327.2 L90.5,327.4 L91.0,327.7 L91.5,328.4 L92.0,328.6 L92.5,329.0 L93.0,329.4 L93.5,329.6 L94.0,330.0 L94.5,330.3 L95.0,330.7 L95.5,331.0 L96.0,331.3 L96.5,331.5 L97.0,331.6 L97.5,331.8 L98.0,331.8 L98.5,331.9 L99.0,332.0 L99.0,332.1 Z" fill="#85c37b"/>
<path d="M57.5,331.9 L58.0,331.9 L58.5,331.8 L59.0,331.7 L59.5,331.6 L60.0,331.4 L60.5,331.2 L61.0,331.0 L61.5,330.7 L62.0,330.5 L62.5,330.0 L63.0,329.6 L63.5,329.2 L64.0,328.7 L64.5,328.3 L65.0,327.9 L65.5,327.4 L66.0,326.9 L66.5,326.1 L67.0,326.0 L67.5,325.5 L68.0,324.7 L68.5,324.6 L69.0,324.4 L69.5,324.0 L70.0,323.2 L70.5,323.1 L71.0,322.2 L71.5,322.0 L72.0,321.6 L72.5,322.1 L73.0,322.1 L73.5,321.9 L74.0,321.4 L74.5,321.1 L75.0,321.3 L75.5,321.6 L76.0,321.4 L76.5,321.3 L77.0,321.5 L77.5,321.6 L78.0,321.7 L78.5,322.2 L79.0,323.0 L79.5,322.6 L80.0,323.4 L80.5,323.4 L81.0,323.9 L81.5,323.8 L82.0,324.5 L82.5,324.7 L83.0,325.0 L83.5,325.3 L84.0,325.0 L84.5,325.4 L85.0,325.8 L85.5,326.0 L86.0,325.8 L86.5,326.2 L87.0,326.6 L87.5,326.4 L88.0,326.6 L88.5,326.6 L89.0,327.2 L89.5,327.2 L90.0,327.2 L90.5,327.4 L91.0,327.7 L91.5,328.4 L92.0,328.6 L92.5,329.0 L93.0,329.4 L93.5,329.6 L94.0,330.0 L94.5,330.3 L95.0,330.7 L95.5,331.0 L96.0,331.3 L96.5,331.5 L97.0,331.6 L97.5,331.8 L98.0,331.8 L98.5,331.9 L99.0,332.0" fill="none" stroke="#63a05a" stroke-width="0.45"/>
<line x1="41.00" y1="331.90" x2="117.00" y2="331.90" stroke="#85c37b" stroke-width="0.4" opacity="0.5"/>
<path d="M84.5,344.3 L84.5,344.2 L85.0,344.1 L85.5,343.9 L86.0,343.7 L86.5,343.4 L87.0,343.0 L87.5,342.4 L88.0,341.7 L88.5,340.9 L89.0,339.8 L89.5,338.8 L90.0,337.6 L90.5,336.5 L91.0,335.2 L91.5,334.4 L92.0,334.0 L92.5,333.9 L93.0,333.7 L93.5,333.9 L94.0,334.8 L94.5,335.6 L95.0,336.6 L95.5,337.5 L96.0,338.6 L96.5,339.8 L97.0,340.7 L97.5,341.4 L98.0,342.1 L98.5,342.6 L99.0,343.1 L99.5,343.4 L100.0,343.6 L100.5,343.8 L101.0,344.0 L101.5,344.1 L102.0,344.2 L102.0,344.3 Z" fill="#747474"/>
<path d="M84.5,344.2 L85.0,344.1 L85.5,343.9 L86.0,343.7 L86.5,343.4 L87.0,343.0 L87.5,342.4 L88.0,341.7 L88.5,340.9 L89.0,339.8 L89.5,338.8 L90.0,337.6 L90.5,336.5 L91.0,335.2 L91.5,334.4 L92.0,334.0 L92.5,333.9 L93.0,333.7 L93.5,333.9 L94.0,334.8 L94.5,335.6 L95.0,336.6 L95.5,337.5 L96.0,338.6 L96.5,339.8 L97.0,340.7 L97.5,341.4 L98.0,342.1 L98.5,342.6 L99.0,343.1 L99.5,343.4 L100.0,343.6 L100.5,343.8 L101.0,344.0 L101.5,344.1 L102.0,344.2" fill="none" stroke="#4d4d4d" stroke-width="0.45"/>
<line x1="41.00" y1="344.10" x2="117.00" y2="344.10" stroke="#747474" stroke-width="0.4" opacity="0.5"/>
<path d="M81.0,356.0 L81.0,355.9 L81.5,355.8 L82.0,355.7 L82.5,355.6 L83.0,355.4 L83.5,355.2 L84.0,354.9 L84.5,354.5 L85.0,354.1 L85.5,353.6 L86.0,353.0 L86.5,352.3 L87.0,351.3 L87.5,350.4 L88.0,349.7 L88.5,348.8 L89.0,347.7 L89.5,347.2 L90.0,346.7 L90.5,345.7 L91.0,345.8 L91.5,345.6 L92.0,346.1 L92.5,346.4 L93.0,347.4 L93.5,348.5 L94.0,349.5 L94.5,350.4 L95.0,351.3 L95.5,352.2 L96.0,353.2 L96.5,353.8 L97.0,354.5 L97.5,354.9 L98.0,355.3 L98.5,355.5 L99.0,355.7 L99.5,355.8 L100.0,355.9 L100.0,356.0 Z" fill="#85c37b"/>
<path d="M81.0,355.9 L81.5,355.8 L82.0,355.7 L82.5,355.6 L83.0,355.4 L83.5,355.2 L84.0,354.9 L84.5,354.5 L85.0,354.1 L85.5,353.6 L86.0,353.0 L86.5,352.3 L87.0,351.3 L87.5,350.4 L88.0,349.7 L88.5,348.8 L89.0,347.7 L89.5,347.2 L90.0,346.7 L90.5,345.7 L91.0,345.8 L91.5,345.6 L92.0,346.1 L92.5,346.4 L93.0,347.4 L93.5,348.5 L94.0,349.5 L94.5,350.4 L95.0,351.3 L95.5,352.2 L96.0,353.2 L96.5,353.8 L97.0,354.5 L97.5,354.9 L98.0,355.3 L98.5,355.5 L99.0,355.7 L99.5,355.8 L100.0,355.9" fill="none" stroke="#63a05a" stroke-width="0.45"/>
<line x1="41.00" y1="355.80" x2="117.00" y2="355.80" stroke="#85c37b" stroke-width="0.4" opacity="0.5"/>
<rect x="40.20" y="282.30" width="77.10" height="73.70" fill="none" stroke="#a0a0a0" stroke-width="0.7"/>
<line x1="40.20" y1="282.30" x2="40.20" y2="356.00" stroke="#4a4a4a" stroke-width="0.8"/>
<line x1="40.20" y1="356.00" x2="117.30" y2="356.00" stroke="#777" stroke-width="0.8"/>
<line x1="51.70" y1="356.00" x2="51.70" y2="357.80" stroke="#555" stroke-width="0.7"/>
<line x1="64.90" y1="356.00" x2="64.90" y2="357.80" stroke="#555" stroke-width="0.7"/>
<line x1="88.30" y1="356.00" x2="88.30" y2="357.80" stroke="#555" stroke-width="0.7"/>
<line x1="108.80" y1="356.00" x2="108.80" y2="357.80" stroke="#555" stroke-width="0.7"/>
<line x1="45.00" y1="356.00" x2="45.00" y2="357.80" stroke="#555" stroke-width="0.7"/>
<line x1="48.00" y1="356.00" x2="48.00" y2="357.80" stroke="#555" stroke-width="0.7"/>
<line x1="50.00" y1="356.00" x2="50.00" y2="357.80" stroke="#555" stroke-width="0.7"/>
<line x1="54.00" y1="356.00" x2="54.00" y2="357.80" stroke="#555" stroke-width="0.7"/>
<line x1="57.00" y1="356.00" x2="57.00" y2="357.80" stroke="#555" stroke-width="0.7"/>
<line x1="72.00" y1="356.00" x2="72.00" y2="357.80" stroke="#555" stroke-width="0.7"/>
<line x1="77.00" y1="356.00" x2="77.00" y2="357.80" stroke="#555" stroke-width="0.7"/>
<line x1="81.00" y1="356.00" x2="81.00" y2="357.80" stroke="#555" stroke-width="0.7"/>
<line x1="84.00" y1="356.00" x2="84.00" y2="357.80" stroke="#555" stroke-width="0.7"/>
<line x1="86.00" y1="356.00" x2="86.00" y2="357.80" stroke="#555" stroke-width="0.7"/>
<line x1="95.00" y1="356.00" x2="95.00" y2="357.80" stroke="#555" stroke-width="0.7"/>
<line x1="100.00" y1="356.00" x2="100.00" y2="357.80" stroke="#555" stroke-width="0.7"/>
<line x1="103.00" y1="356.00" x2="103.00" y2="357.80" stroke="#555" stroke-width="0.7"/>
<line x1="106.00" y1="356.00" x2="106.00" y2="357.80" stroke="#555" stroke-width="0.7"/>
<line x1="114.00" y1="356.00" x2="114.00" y2="357.80" stroke="#555" stroke-width="0.7"/>
<text font-size="6.52" fill="#222" transform="translate(98.80 289.85) scale(0.92 1)">DKO</text>
<text font-size="6.52" fill="#222" transform="translate(98.80 314.85) scale(0.92 1)">DKO</text>
<text font-size="6.52" fill="#222" transform="translate(98.80 339.35) scale(0.92 1)">DKO</text>
<rect x="37.20" y="282.30" width="1.80" height="25.20" fill="#2a2d6e"/>
<rect x="37.20" y="307.50" width="1.80" height="24.60" fill="#3cb4e6"/>
<rect x="37.20" y="332.10" width="1.80" height="23.90" fill="#a23a84"/>
<text font-size="8.04" text-anchor="end" fill="#222" transform="translate(33.50 294.20) scale(0.92 1)">CD22 full</text>
<text font-size="8.04" text-anchor="end" fill="#222" transform="translate(33.50 302.70) scale(0.92 1)">ChTCR</text>
<text font-size="7.72" text-anchor="end" fill="#222" transform="translate(33.50 321.68) scale(0.92 1)">Bi-ChTCR</text>
<text font-size="8.04" text-anchor="end" fill="#222" transform="translate(33.50 346.20) scale(0.92 1)">Loop CAR</text>
<text font-size="6.85" text-anchor="middle" fill="#222" transform="translate(51.70 367.07) scale(0.92 1)">0</text>
<text font-size="6.85" text-anchor="middle" fill="#222" transform="translate(64.90 367.07) scale(0.92 1)">10<tspan baseline-shift="2.74" font-size="4.52">3</tspan></text>
<text font-size="6.85" text-anchor="middle" fill="#222" transform="translate(88.30 367.07) scale(0.92 1)">10<tspan baseline-shift="2.74" font-size="4.52">4</tspan></text>
<text font-size="6.85" text-anchor="middle" fill="#222" transform="translate(108.80 367.07) scale(0.92 1)">10<tspan baseline-shift="2.74" font-size="4.52">5</tspan></text>
<text font-size="8.04" fill="#222" transform="translate(76.50 377.30) scale(0.92 1)">CTV</text>
<line x1="93.20" y1="374.40" x2="117.00" y2="374.40" stroke="#333" stroke-width="0.8"/>
<path d="M118.6,374.4 L115.1,372.9 L115.1,375.9 Z" fill="#333"/>
<line x1="416.00" y1="136.10" x2="416.00" y2="205.50" stroke="#8a8a8a" stroke-width="0.8"/>
<line x1="413.20" y1="136.60" x2="416.00" y2="136.60" stroke="#8a8a8a" stroke-width="0.8"/>
<text font-size="6.85" text-anchor="end" fill="#222" transform="translate(411.50 139.07) scale(0.92 1)">100</text>
<line x1="413.20" y1="150.40" x2="416.00" y2="150.40" stroke="#8a8a8a" stroke-width="0.8"/>
<text font-size="6.85" text-anchor="end" fill="#222" transform="translate(411.50 152.87) scale(0.92 1)">80</text>
<line x1="413.20" y1="164.20" x2="416.00" y2="164.20" stroke="#8a8a8a" stroke-width="0.8"/>
<text font-size="6.85" text-anchor="end" fill="#222" transform="translate(411.50 166.67) scale(0.92 1)">60</text>
<line x1="413.20" y1="178.00" x2="416.00" y2="178.00" stroke="#8a8a8a" stroke-width="0.8"/>
<text font-size="6.85" text-anchor="end" fill="#222" transform="translate(411.50 180.47) scale(0.92 1)">40</text>
<line x1="413.20" y1="191.70" x2="416.00" y2="191.70" stroke="#8a8a8a" stroke-width="0.8"/>
<text font-size="6.85" text-anchor="end" fill="#222" transform="translate(411.50 194.17) scale(0.92 1)">20</text>
<line x1="413.20" y1="205.50" x2="416.00" y2="205.50" stroke="#8a8a8a" stroke-width="0.8"/>
<text font-size="6.85" text-anchor="end" fill="#222" transform="translate(411.50 207.97) scale(0.92 1)">0</text>
<line x1="416.00" y1="205.50" x2="468.50" y2="205.50" stroke="#8a8a8a" stroke-width="0.8"/>
<line x1="427.20" y1="205.50" x2="427.20" y2="208.00" stroke="#8a8a8a" stroke-width="0.8"/>
<line x1="444.30" y1="205.50" x2="444.30" y2="208.00" stroke="#8a8a8a" stroke-width="0.8"/>
<line x1="461.20" y1="205.50" x2="461.20" y2="208.00" stroke="#8a8a8a" stroke-width="0.8"/>
<rect x="422.10" y="151.50" width="10.50" height="54.00" fill="#f19433" stroke="#3a3a3a" stroke-width="0.6"/>
<rect x="439.10" y="165.10" width="10.50" height="40.40" fill="#12aee6" stroke="#3a3a3a" stroke-width="0.6"/>
<rect x="456.00" y="196.90" width="10.50" height="8.60" fill="#9b1b5c" stroke="#3a3a3a" stroke-width="0.6"/>
<line x1="427.20" y1="145.50" x2="427.20" y2="158.30" stroke="#333" stroke-width="0.6"/>
<line x1="424.60" y1="145.50" x2="429.80" y2="145.50" stroke="#333" stroke-width="0.6"/>
<line x1="424.60" y1="158.30" x2="429.80" y2="158.30" stroke="#333" stroke-width="0.6"/>
<line x1="444.30" y1="155.50" x2="444.30" y2="171.90" stroke="#333" stroke-width="0.6"/>
<line x1="441.70" y1="155.50" x2="446.90" y2="155.50" stroke="#333" stroke-width="0.6"/>
<line x1="441.70" y1="171.90" x2="446.90" y2="171.90" stroke="#333" stroke-width="0.6"/>
<line x1="461.20" y1="188.90" x2="461.20" y2="205.50" stroke="#333" stroke-width="0.6"/>
<line x1="458.60" y1="188.90" x2="463.80" y2="188.90" stroke="#333" stroke-width="0.6"/>
<line x1="458.60" y1="205.50" x2="463.80" y2="205.50" stroke="#333" stroke-width="0.6"/>
<circle cx="424.70" cy="147.00" r="1.3" fill="#111"/>
<circle cx="430.00" cy="148.70" r="1.3" fill="#111"/>
<circle cx="427.30" cy="157.70" r="1.3" fill="#111"/>
<circle cx="444.30" cy="155.70" r="1.3" fill="#111"/>
<circle cx="441.60" cy="170.00" r="1.3" fill="#111"/>
<circle cx="446.60" cy="167.60" r="1.3" fill="#111"/>
<circle cx="461.30" cy="188.90" r="1.3" fill="#111"/>
<circle cx="458.70" cy="201.30" r="1.3" fill="#111"/>
<circle cx="463.60" cy="199.40" r="1.3" fill="#111"/>
<line x1="427.20" y1="141.30" x2="461.20" y2="141.30" stroke="#8a8a8a" stroke-width="0.7"/>
<text font-size="6.63" text-anchor="middle" fill="#222" transform="translate(444.20 140.69) scale(0.92 1)">0.0004</text>
<line x1="443.60" y1="150.00" x2="461.20" y2="150.00" stroke="#8a8a8a" stroke-width="0.7"/>
<text font-size="6.63" text-anchor="middle" fill="#222" transform="translate(452.40 149.39) scale(0.92 1)">0.0028</text>
<text font-size="8.04" text-anchor="middle" fill="#222" transform="translate(394.80 171.00) rotate(-90) translate(0 2.90) scale(0.92 1)">% CTV<tspan baseline-shift="-1.77" font-size="4.99">low</tspan> cells</text>
<text font-size="7.39" text-anchor="end" fill="#222" transform="translate(427.90 215.40) rotate(-45) translate(0 2.66) scale(0.92 1)">CD19 full ChTCR</text>
<text font-size="7.39" text-anchor="end" fill="#222" transform="translate(445.00 215.40) rotate(-45) translate(0 2.66) scale(0.92 1)">Bi-ChTCR</text>
<text font-size="7.39" text-anchor="end" fill="#222" transform="translate(461.90 215.40) rotate(-45) translate(0 2.66) scale(0.92 1)">Loop CAR</text>
<text x="479.50" y="137.50" font-size="12" font-weight="bold" fill="#111" stroke="#111" stroke-width="0.45">e</text>
<line x1="511.10" y1="136.50" x2="511.10" y2="205.50" stroke="#8a8a8a" stroke-width="0.8"/>
<line x1="508.30" y1="137.00" x2="511.10" y2="137.00" stroke="#8a8a8a" stroke-width="0.8"/>
<text font-size="6.85" text-anchor="end" fill="#222" transform="translate(506.60 139.47) scale(0.92 1)">800</text>
<line x1="508.30" y1="154.20" x2="511.10" y2="154.20" stroke="#8a8a8a" stroke-width="0.8"/>
<text font-size="6.85" text-anchor="end" fill="#222" transform="translate(506.60 156.67) scale(0.92 1)">600</text>
<line x1="508.30" y1="171.30" x2="511.10" y2="171.30" stroke="#8a8a8a" stroke-width="0.8"/>
<text font-size="6.85" text-anchor="end" fill="#222" transform="translate(506.60 173.77) scale(0.92 1)">400</text>
<line x1="508.30" y1="188.40" x2="511.10" y2="188.40" stroke="#8a8a8a" stroke-width="0.8"/>
<text font-size="6.85" text-anchor="end" fill="#222" transform="translate(506.60 190.87) scale(0.92 1)">200</text>
<line x1="508.30" y1="205.50" x2="511.10" y2="205.50" stroke="#8a8a8a" stroke-width="0.8"/>
<text font-size="6.85" text-anchor="end" fill="#222" transform="translate(506.60 207.97) scale(0.92 1)">0</text>
<line x1="511.10" y1="205.50" x2="567.20" y2="205.50" stroke="#8a8a8a" stroke-width="0.8"/>
<line x1="522.30" y1="205.50" x2="522.30" y2="208.00" stroke="#8a8a8a" stroke-width="0.8"/>
<line x1="539.40" y1="205.50" x2="539.40" y2="208.00" stroke="#8a8a8a" stroke-width="0.8"/>
<line x1="556.30" y1="205.50" x2="556.30" y2="208.00" stroke="#8a8a8a" stroke-width="0.8"/>
<rect x="517.20" y="165.30" width="10.30" height="40.20" fill="#f19433" stroke="#3a3a3a" stroke-width="0.6"/>
<rect x="534.20" y="165.30" width="10.30" height="40.20" fill="#12aee6" stroke="#3a3a3a" stroke-width="0.6"/>
<rect x="551.10" y="200.20" width="10.40" height="5.30" fill="#9b1b5c" stroke="#3a3a3a" stroke-width="0.6"/>
<line x1="522.30" y1="149.20" x2="522.30" y2="180.80" stroke="#333" stroke-width="0.6"/>
<line x1="519.70" y1="149.20" x2="524.90" y2="149.20" stroke="#333" stroke-width="0.6"/>
<line x1="519.70" y1="180.80" x2="524.90" y2="180.80" stroke="#333" stroke-width="0.6"/>
<line x1="539.40" y1="150.20" x2="539.40" y2="179.40" stroke="#333" stroke-width="0.6"/>
<line x1="536.80" y1="150.20" x2="542.00" y2="150.20" stroke="#333" stroke-width="0.6"/>
<line x1="536.80" y1="179.40" x2="542.00" y2="179.40" stroke="#333" stroke-width="0.6"/>
<line x1="556.30" y1="197.00" x2="556.30" y2="205.50" stroke="#333" stroke-width="0.6"/>
<line x1="553.70" y1="197.00" x2="558.90" y2="197.00" stroke="#333" stroke-width="0.6"/>
<line x1="553.70" y1="205.50" x2="558.90" y2="205.50" stroke="#333" stroke-width="0.6"/>
<circle cx="522.50" cy="147.00" r="1.3" fill="#111"/>
<circle cx="520.00" cy="174.70" r="1.3" fill="#111"/>
<circle cx="525.10" cy="173.80" r="1.3" fill="#111"/>
<circle cx="539.40" cy="149.80" r="1.3" fill="#111"/>
<circle cx="539.40" cy="168.10" r="1.3" fill="#111"/>
<circle cx="539.40" cy="177.50" r="1.3" fill="#111"/>
<circle cx="556.40" cy="197.00" r="1.3" fill="#111"/>
<circle cx="554.00" cy="202.00" r="1.3" fill="#111"/>
<circle cx="558.30" cy="202.00" r="1.3" fill="#111"/>
<line x1="522.30" y1="138.50" x2="556.00" y2="138.50" stroke="#8a8a8a" stroke-width="0.7"/>
<text font-size="6.63" text-anchor="middle" fill="#222" transform="translate(539.15 137.89) scale(0.92 1)">0.0309</text>
<line x1="539.40" y1="145.50" x2="556.00" y2="145.50" stroke="#8a8a8a" stroke-width="0.7"/>
<text font-size="6.63" text-anchor="middle" fill="#222" transform="translate(547.70 144.89) scale(0.92 1)">0.0311</text>
<text font-size="8.04" text-anchor="middle" fill="#222" transform="translate(484.20 171.50) rotate(-90) translate(0 2.90) scale(0.92 1)">IL-2 (pg ml<tspan baseline-shift="3.22" font-size="5.31">−1</tspan>)</text>
<text font-size="7.39" text-anchor="end" fill="#222" transform="translate(523.00 215.40) rotate(-45) translate(0 2.66) scale(0.92 1)">CD19 full ChTCR</text>
<text font-size="7.39" text-anchor="end" fill="#222" transform="translate(540.10 215.40) rotate(-45) translate(0 2.66) scale(0.92 1)">Bi-ChTCR</text>
<text font-size="7.39" text-anchor="end" fill="#222" transform="translate(557.00 215.40) rotate(-45) translate(0 2.66) scale(0.92 1)">Loop CAR</text>
<text x="576.00" y="137.00" font-size="12" font-weight="bold" fill="#111" stroke="#111" stroke-width="0.45">f</text>
<line x1="605.20" y1="136.10" x2="605.20" y2="205.50" stroke="#8a8a8a" stroke-width="0.8"/>
<line x1="602.40" y1="136.60" x2="605.20" y2="136.60" stroke="#8a8a8a" stroke-width="0.8"/>
<text font-size="6.85" text-anchor="end" fill="#222" transform="translate(600.70 139.07) scale(0.92 1)">400</text>
<line x1="602.40" y1="153.80" x2="605.20" y2="153.80" stroke="#8a8a8a" stroke-width="0.8"/>
<text font-size="6.85" text-anchor="end" fill="#222" transform="translate(600.70 156.27) scale(0.92 1)">300</text>
<line x1="602.40" y1="171.00" x2="605.20" y2="171.00" stroke="#8a8a8a" stroke-width="0.8"/>
<text font-size="6.85" text-anchor="end" fill="#222" transform="translate(600.70 173.47) scale(0.92 1)">200</text>
<line x1="602.40" y1="188.30" x2="605.20" y2="188.30" stroke="#8a8a8a" stroke-width="0.8"/>
<text font-size="6.85" text-anchor="end" fill="#222" transform="translate(600.70 190.77) scale(0.92 1)">100</text>
<line x1="602.40" y1="205.50" x2="605.20" y2="205.50" stroke="#8a8a8a" stroke-width="0.8"/>
<text font-size="6.85" text-anchor="end" fill="#222" transform="translate(600.70 207.97) scale(0.92 1)">0</text>
<line x1="605.20" y1="205.50" x2="661.80" y2="205.50" stroke="#8a8a8a" stroke-width="0.8"/>
<line x1="616.90" y1="205.50" x2="616.90" y2="208.00" stroke="#8a8a8a" stroke-width="0.8"/>
<line x1="633.60" y1="205.50" x2="633.60" y2="208.00" stroke="#8a8a8a" stroke-width="0.8"/>
<line x1="650.60" y1="205.50" x2="650.60" y2="208.00" stroke="#8a8a8a" stroke-width="0.8"/>
<rect x="611.80" y="166.20" width="10.40" height="39.30" fill="#f19433" stroke="#3a3a3a" stroke-width="0.6"/>
<rect x="628.40" y="169.10" width="10.40" height="36.40" fill="#12aee6" stroke="#3a3a3a" stroke-width="0.6"/>
<rect x="645.40" y="199.20" width="10.40" height="6.30" fill="#9b1b5c" stroke="#3a3a3a" stroke-width="0.6"/>
<line x1="616.90" y1="147.40" x2="616.90" y2="185.10" stroke="#333" stroke-width="0.6"/>
<line x1="614.30" y1="147.40" x2="619.50" y2="147.40" stroke="#333" stroke-width="0.6"/>
<line x1="614.30" y1="185.10" x2="619.50" y2="185.10" stroke="#333" stroke-width="0.6"/>
<line x1="633.60" y1="157.70" x2="633.60" y2="177.00" stroke="#333" stroke-width="0.6"/>
<line x1="631.00" y1="157.70" x2="636.20" y2="157.70" stroke="#333" stroke-width="0.6"/>
<line x1="631.00" y1="177.00" x2="636.20" y2="177.00" stroke="#333" stroke-width="0.6"/>
<line x1="650.60" y1="197.40" x2="650.60" y2="200.50" stroke="#333" stroke-width="0.6"/>
<line x1="648.00" y1="197.40" x2="653.20" y2="197.40" stroke="#333" stroke-width="0.6"/>
<line x1="648.00" y1="200.50" x2="653.20" y2="200.50" stroke="#333" stroke-width="0.6"/>
<circle cx="616.90" cy="144.50" r="1.3" fill="#111"/>
<circle cx="616.90" cy="171.90" r="1.3" fill="#111"/>
<circle cx="616.90" cy="181.30" r="1.3" fill="#111"/>
<circle cx="633.60" cy="158.70" r="1.3" fill="#111"/>
<circle cx="633.60" cy="171.90" r="1.3" fill="#111"/>
<circle cx="633.60" cy="174.70" r="1.3" fill="#111"/>
<circle cx="647.60" cy="199.00" r="1.3" fill="#111"/>
<circle cx="650.80" cy="197.50" r="1.3" fill="#111"/>
<circle cx="654.20" cy="198.50" r="1.3" fill="#111"/>
<line x1="616.90" y1="140.80" x2="650.50" y2="140.80" stroke="#8a8a8a" stroke-width="0.7"/>
<text font-size="6.63" text-anchor="middle" fill="#222" transform="translate(633.70 140.19) scale(0.92 1)">0.0369</text>
<line x1="633.50" y1="152.00" x2="650.50" y2="152.00" stroke="#8a8a8a" stroke-width="0.7"/>
<text font-size="6.63" text-anchor="middle" fill="#222" transform="translate(642.00 151.39) scale(0.92 1)">0.0500</text>
<text font-size="8.04" text-anchor="middle" fill="#222" transform="translate(580.70 171.00) rotate(-90) translate(0 2.90) scale(0.92 1)">IFNγ (pg ml<tspan baseline-shift="3.22" font-size="5.31">−1</tspan>)</text>
<text font-size="7.39" text-anchor="end" fill="#222" transform="translate(617.60 215.40) rotate(-45) translate(0 2.66) scale(0.92 1)">CD19 full ChTCR</text>
<text font-size="7.39" text-anchor="end" fill="#222" transform="translate(634.30 215.40) rotate(-45) translate(0 2.66) scale(0.92 1)">Bi-ChTCR</text>
<text font-size="7.39" text-anchor="end" fill="#222" transform="translate(651.30 215.40) rotate(-45) translate(0 2.66) scale(0.92 1)">Loop CAR</text>
<line x1="166.60" y1="283.10" x2="166.60" y2="352.40" stroke="#8a8a8a" stroke-width="0.8"/>
<line x1="163.80" y1="283.60" x2="166.60" y2="283.60" stroke="#8a8a8a" stroke-width="0.8"/>
<text font-size="6.85" text-anchor="end" fill="#222" transform="translate(162.10 286.07) scale(0.92 1)">100</text>
<line x1="163.80" y1="297.40" x2="166.60" y2="297.40" stroke="#8a8a8a" stroke-width="0.8"/>
<text font-size="6.85" text-anchor="end" fill="#222" transform="translate(162.10 299.87) scale(0.92 1)">80</text>
<line x1="163.80" y1="311.10" x2="166.60" y2="311.10" stroke="#8a8a8a" stroke-width="0.8"/>
<text font-size="6.85" text-anchor="end" fill="#222" transform="translate(162.10 313.57) scale(0.92 1)">60</text>
<line x1="163.80" y1="324.90" x2="166.60" y2="324.90" stroke="#8a8a8a" stroke-width="0.8"/>
<text font-size="6.85" text-anchor="end" fill="#222" transform="translate(162.10 327.37) scale(0.92 1)">40</text>
<line x1="163.80" y1="338.60" x2="166.60" y2="338.60" stroke="#8a8a8a" stroke-width="0.8"/>
<text font-size="6.85" text-anchor="end" fill="#222" transform="translate(162.10 341.07) scale(0.92 1)">20</text>
<line x1="163.80" y1="352.40" x2="166.60" y2="352.40" stroke="#8a8a8a" stroke-width="0.8"/>
<text font-size="6.85" text-anchor="end" fill="#222" transform="translate(162.10 354.87) scale(0.92 1)">0</text>
<line x1="166.60" y1="352.40" x2="223.30" y2="352.40" stroke="#8a8a8a" stroke-width="0.8"/>
<line x1="177.60" y1="352.40" x2="177.60" y2="354.90" stroke="#8a8a8a" stroke-width="0.8"/>
<line x1="194.60" y1="352.40" x2="194.60" y2="354.90" stroke="#8a8a8a" stroke-width="0.8"/>
<line x1="211.50" y1="352.40" x2="211.50" y2="354.90" stroke="#8a8a8a" stroke-width="0.8"/>
<rect x="172.20" y="293.50" width="10.80" height="58.90" fill="#2b2d6e" stroke="#3a3a3a" stroke-width="0.6"/>
<rect x="189.20" y="295.00" width="10.90" height="57.40" fill="#12aee6" stroke="#3a3a3a" stroke-width="0.6"/>
<rect x="206.10" y="347.50" width="10.80" height="4.90" fill="#9b1b5c" stroke="#3a3a3a" stroke-width="0.6"/>
<line x1="177.60" y1="287.20" x2="177.60" y2="299.00" stroke="#333" stroke-width="0.6"/>
<line x1="175.00" y1="287.20" x2="180.20" y2="287.20" stroke="#333" stroke-width="0.6"/>
<line x1="175.00" y1="299.00" x2="180.20" y2="299.00" stroke="#333" stroke-width="0.6"/>
<line x1="194.60" y1="286.80" x2="194.60" y2="301.30" stroke="#333" stroke-width="0.6"/>
<line x1="192.00" y1="286.80" x2="197.20" y2="286.80" stroke="#333" stroke-width="0.6"/>
<line x1="192.00" y1="301.30" x2="197.20" y2="301.30" stroke="#333" stroke-width="0.6"/>
<line x1="211.50" y1="338.00" x2="211.50" y2="352.40" stroke="#333" stroke-width="0.6"/>
<line x1="208.90" y1="338.00" x2="214.10" y2="338.00" stroke="#333" stroke-width="0.6"/>
<line x1="208.90" y1="352.40" x2="214.10" y2="352.40" stroke="#333" stroke-width="0.6"/>
<circle cx="177.60" cy="287.60" r="1.3" fill="#111"/>
<circle cx="177.60" cy="292.60" r="1.3" fill="#111"/>
<circle cx="177.60" cy="298.60" r="1.3" fill="#111"/>
<circle cx="194.60" cy="287.60" r="1.3" fill="#111"/>
<circle cx="194.60" cy="295.90" r="1.3" fill="#111"/>
<circle cx="194.60" cy="300.80" r="1.3" fill="#111"/>
<circle cx="211.50" cy="338.00" r="1.3" fill="#111"/>
<circle cx="209.10" cy="351.30" r="1.3" fill="#111"/>
<circle cx="214.80" cy="351.00" r="1.3" fill="#111"/>
<line x1="178.50" y1="271.80" x2="211.90" y2="271.80" stroke="#8a8a8a" stroke-width="0.7"/>
<text font-size="6.63" text-anchor="middle" fill="#222" transform="translate(195.20 271.19) scale(0.92 1)">0.0002</text>
<line x1="195.20" y1="280.00" x2="211.90" y2="280.00" stroke="#8a8a8a" stroke-width="0.7"/>
<text font-size="6.63" text-anchor="middle" fill="#222" transform="translate(203.55 279.39) scale(0.92 1)">0.0002</text>
<text font-size="8.04" text-anchor="middle" fill="#222" transform="translate(144.00 319.80) rotate(-90) translate(0 2.90) scale(0.92 1)">% CTV<tspan baseline-shift="-1.77" font-size="4.99">low</tspan> cells</text>
<text font-size="7.39" text-anchor="end" fill="#222" transform="translate(178.30 362.20) rotate(-45) translate(0 2.66) scale(0.92 1)">CD22 full ChTCR</text>
<text font-size="7.39" text-anchor="end" fill="#222" transform="translate(195.10 362.20) rotate(-45) translate(0 2.66) scale(0.92 1)">Bi-ChTCR</text>
<text font-size="7.39" text-anchor="end" fill="#222" transform="translate(212.00 362.20) rotate(-45) translate(0 2.66) scale(0.92 1)">Loop CAR</text>
<text x="226.50" y="272.70" font-size="12" font-weight="bold" fill="#111" stroke="#111" stroke-width="0.45">h</text>
<line x1="258.00" y1="284.90" x2="258.00" y2="352.10" stroke="#8a8a8a" stroke-width="0.8"/>
<line x1="255.20" y1="285.40" x2="258.00" y2="285.40" stroke="#8a8a8a" stroke-width="0.8"/>
<text font-size="6.85" text-anchor="end" fill="#222" transform="translate(253.50 287.87) scale(0.92 1)">2,000</text>
<line x1="255.20" y1="302.10" x2="258.00" y2="302.10" stroke="#8a8a8a" stroke-width="0.8"/>
<text font-size="6.85" text-anchor="end" fill="#222" transform="translate(253.50 304.57) scale(0.92 1)">1,500</text>
<line x1="255.20" y1="318.80" x2="258.00" y2="318.80" stroke="#8a8a8a" stroke-width="0.8"/>
<text font-size="6.85" text-anchor="end" fill="#222" transform="translate(253.50 321.27) scale(0.92 1)">1,000</text>
<line x1="255.20" y1="335.40" x2="258.00" y2="335.40" stroke="#8a8a8a" stroke-width="0.8"/>
<text font-size="6.85" text-anchor="end" fill="#222" transform="translate(253.50 337.87) scale(0.92 1)">500</text>
<line x1="255.20" y1="352.10" x2="258.00" y2="352.10" stroke="#8a8a8a" stroke-width="0.8"/>
<text font-size="6.85" text-anchor="end" fill="#222" transform="translate(253.50 354.57) scale(0.92 1)">0</text>
<line x1="258.00" y1="352.10" x2="313.90" y2="352.10" stroke="#8a8a8a" stroke-width="0.8"/>
<line x1="270.70" y1="352.10" x2="270.70" y2="354.60" stroke="#8a8a8a" stroke-width="0.8"/>
<line x1="286.70" y1="352.10" x2="286.70" y2="354.60" stroke="#8a8a8a" stroke-width="0.8"/>
<line x1="303.00" y1="352.10" x2="303.00" y2="354.60" stroke="#8a8a8a" stroke-width="0.8"/>
<rect x="265.30" y="316.20" width="10.50" height="35.90" fill="#2b2d6e" stroke="#3a3a3a" stroke-width="0.6"/>
<rect x="281.60" y="314.90" width="10.50" height="37.20" fill="#12aee6" stroke="#3a3a3a" stroke-width="0.6"/>
<rect x="297.90" y="338.80" width="10.40" height="13.30" fill="#9b1b5c" stroke="#3a3a3a" stroke-width="0.6"/>
<line x1="270.70" y1="306.80" x2="270.70" y2="325.60" stroke="#333" stroke-width="0.6"/>
<line x1="268.10" y1="306.80" x2="273.30" y2="306.80" stroke="#333" stroke-width="0.6"/>
<line x1="268.10" y1="325.60" x2="273.30" y2="325.60" stroke="#333" stroke-width="0.6"/>
<line x1="286.70" y1="303.10" x2="286.70" y2="325.20" stroke="#333" stroke-width="0.6"/>
<line x1="284.10" y1="303.10" x2="289.30" y2="303.10" stroke="#333" stroke-width="0.6"/>
<line x1="284.10" y1="325.20" x2="289.30" y2="325.20" stroke="#333" stroke-width="0.6"/>
<line x1="303.00" y1="334.30" x2="303.00" y2="343.70" stroke="#333" stroke-width="0.6"/>
<line x1="300.40" y1="334.30" x2="305.60" y2="334.30" stroke="#333" stroke-width="0.6"/>
<line x1="300.40" y1="343.70" x2="305.60" y2="343.70" stroke="#333" stroke-width="0.6"/>
<circle cx="270.70" cy="306.80" r="1.3" fill="#111"/>
<circle cx="270.70" cy="315.80" r="1.3" fill="#111"/>
<circle cx="270.70" cy="324.90" r="1.3" fill="#111"/>
<circle cx="286.70" cy="303.00" r="1.3" fill="#111"/>
<circle cx="284.30" cy="321.30" r="1.3" fill="#111"/>
<circle cx="289.20" cy="320.20" r="1.3" fill="#111"/>
<circle cx="303.00" cy="334.30" r="1.3" fill="#111"/>
<circle cx="303.00" cy="338.30" r="1.3" fill="#111"/>
<circle cx="303.00" cy="343.00" r="1.3" fill="#111"/>
<line x1="270.70" y1="286.80" x2="303.00" y2="286.80" stroke="#8a8a8a" stroke-width="0.7"/>
<text font-size="6.63" text-anchor="middle" fill="#222" transform="translate(286.85 286.19) scale(0.92 1)">0.0376</text>
<line x1="286.70" y1="295.30" x2="303.00" y2="295.30" stroke="#8a8a8a" stroke-width="0.7"/>
<text font-size="6.63" text-anchor="middle" fill="#222" transform="translate(294.85 294.69) scale(0.92 1)">0.0305</text>
<text font-size="8.04" text-anchor="middle" fill="#222" transform="translate(230.90 318.00) rotate(-90) translate(0 2.90) scale(0.92 1)">IL-2 (pg ml<tspan baseline-shift="3.22" font-size="5.31">−1</tspan>)</text>
<text font-size="7.39" text-anchor="end" fill="#222" transform="translate(271.40 361.90) rotate(-45) translate(0 2.66) scale(0.92 1)">CD22 full ChTCR</text>
<text font-size="7.39" text-anchor="end" fill="#222" transform="translate(287.40 361.90) rotate(-45) translate(0 2.66) scale(0.92 1)">Bi-ChTCR</text>
<text font-size="7.39" text-anchor="end" fill="#222" transform="translate(303.70 361.90) rotate(-45) translate(0 2.66) scale(0.92 1)">Loop CAR</text>
<text x="325.80" y="272.90" font-size="12" font-weight="bold" fill="#111" stroke="#111" stroke-width="0.2">i</text>
<line x1="358.00" y1="285.80" x2="358.00" y2="352.10" stroke="#8a8a8a" stroke-width="0.8"/>
<line x1="355.20" y1="286.30" x2="358.00" y2="286.30" stroke="#8a8a8a" stroke-width="0.8"/>
<text font-size="6.85" text-anchor="end" fill="#222" transform="translate(353.50 288.77) scale(0.92 1)">1,000</text>
<line x1="355.20" y1="299.50" x2="358.00" y2="299.50" stroke="#8a8a8a" stroke-width="0.8"/>
<text font-size="6.85" text-anchor="end" fill="#222" transform="translate(353.50 301.97) scale(0.92 1)">800</text>
<line x1="355.20" y1="312.60" x2="358.00" y2="312.60" stroke="#8a8a8a" stroke-width="0.8"/>
<text font-size="6.85" text-anchor="end" fill="#222" transform="translate(353.50 315.07) scale(0.92 1)">600</text>
<line x1="355.20" y1="325.80" x2="358.00" y2="325.80" stroke="#8a8a8a" stroke-width="0.8"/>
<text font-size="6.85" text-anchor="end" fill="#222" transform="translate(353.50 328.27) scale(0.92 1)">400</text>
<line x1="355.20" y1="338.90" x2="358.00" y2="338.90" stroke="#8a8a8a" stroke-width="0.8"/>
<text font-size="6.85" text-anchor="end" fill="#222" transform="translate(353.50 341.37) scale(0.92 1)">200</text>
<line x1="355.20" y1="352.10" x2="358.00" y2="352.10" stroke="#8a8a8a" stroke-width="0.8"/>
<text font-size="6.85" text-anchor="end" fill="#222" transform="translate(353.50 354.57) scale(0.92 1)">0</text>
<line x1="358.00" y1="352.10" x2="411.50" y2="352.10" stroke="#8a8a8a" stroke-width="0.8"/>
<line x1="368.60" y1="352.10" x2="368.60" y2="354.60" stroke="#8a8a8a" stroke-width="0.8"/>
<line x1="384.90" y1="352.10" x2="384.90" y2="354.60" stroke="#8a8a8a" stroke-width="0.8"/>
<line x1="400.60" y1="352.10" x2="400.60" y2="354.60" stroke="#8a8a8a" stroke-width="0.8"/>
<rect x="363.50" y="299.50" width="10.30" height="52.60" fill="#2b2d6e" stroke="#3a3a3a" stroke-width="0.6"/>
<rect x="379.40" y="302.20" width="10.40" height="49.90" fill="#12aee6" stroke="#3a3a3a" stroke-width="0.6"/>
<rect x="395.80" y="343.40" width="9.90" height="8.70" fill="#9b1b5c" stroke="#3a3a3a" stroke-width="0.6"/>
<line x1="368.60" y1="293.50" x2="368.60" y2="303.50" stroke="#333" stroke-width="0.6"/>
<line x1="366.00" y1="293.50" x2="371.20" y2="293.50" stroke="#333" stroke-width="0.6"/>
<line x1="366.00" y1="303.50" x2="371.20" y2="303.50" stroke="#333" stroke-width="0.6"/>
<line x1="384.90" y1="291.20" x2="384.90" y2="312.60" stroke="#333" stroke-width="0.6"/>
<line x1="382.30" y1="291.20" x2="387.50" y2="291.20" stroke="#333" stroke-width="0.6"/>
<line x1="382.30" y1="312.60" x2="387.50" y2="312.60" stroke="#333" stroke-width="0.6"/>
<line x1="400.60" y1="338.80" x2="400.60" y2="347.40" stroke="#333" stroke-width="0.6"/>
<line x1="398.00" y1="338.80" x2="403.20" y2="338.80" stroke="#333" stroke-width="0.6"/>
<line x1="398.00" y1="347.40" x2="403.20" y2="347.40" stroke="#333" stroke-width="0.6"/>
<circle cx="368.60" cy="294.00" r="1.3" fill="#111"/>
<circle cx="366.20" cy="302.60" r="1.3" fill="#111"/>
<circle cx="371.30" cy="302.60" r="1.3" fill="#111"/>
<circle cx="382.50" cy="295.00" r="1.3" fill="#111"/>
<circle cx="387.40" cy="296.80" r="1.3" fill="#111"/>
<circle cx="384.90" cy="314.40" r="1.3" fill="#111"/>
<circle cx="397.90" cy="339.70" r="1.3" fill="#111"/>
<circle cx="396.10" cy="344.30" r="1.3" fill="#111"/>
<circle cx="395.80" cy="350.60" r="1.3" fill="#111"/>
<line x1="368.60" y1="276.70" x2="400.60" y2="276.70" stroke="#8a8a8a" stroke-width="0.7"/>
<text font-size="6.63" text-anchor="middle" fill="#222" transform="translate(384.60 276.09) scale(0.92 1)">0.0007</text>
<line x1="384.90" y1="287.50" x2="400.60" y2="287.50" stroke="#8a8a8a" stroke-width="0.7"/>
<text font-size="6.63" text-anchor="middle" fill="#222" transform="translate(392.75 286.89) scale(0.92 1)">0.0010</text>
<text font-size="8.04" text-anchor="middle" fill="#222" transform="translate(329.40 319.80) rotate(-90) translate(0 2.90) scale(0.92 1)">IFNγ (pg ml<tspan baseline-shift="3.22" font-size="5.31">−1</tspan>)</text>
<text font-size="7.39" text-anchor="end" fill="#222" transform="translate(369.30 361.90) rotate(-45) translate(0 2.66) scale(0.92 1)">CD22 full ChTCR</text>
<text font-size="7.39" text-anchor="end" fill="#222" transform="translate(385.60 361.90) rotate(-45) translate(0 2.66) scale(0.92 1)">Bi-ChTCR</text>
<text font-size="7.39" text-anchor="end" fill="#222" transform="translate(401.30 361.90) rotate(-45) translate(0 2.66) scale(0.92 1)">Loop CAR</text>
<text x="445.00" y="271.80" font-size="12" font-weight="bold" fill="#111" stroke="#111" stroke-width="0.2">j</text>
<text font-size="8.04" text-anchor="middle" fill="#222" transform="translate(481.40 288.70) scale(0.92 1)">Nalm-6 GFP-ffLuc:</text>
<text font-size="7.83" text-anchor="middle" fill="#222" transform="translate(481.40 297.02) scale(0.92 1)">50% CD19<tspan baseline-shift="3.13" font-size="5.17">+</tspan>CD22<tspan baseline-shift="3.13" font-size="5.17">+</tspan></text>
<text font-size="7.83" text-anchor="middle" fill="#222" transform="translate(481.40 305.72) scale(0.92 1)">50% CD19<tspan baseline-shift="3.13" font-size="5.17">low</tspan>CD22<tspan baseline-shift="3.13" font-size="5.17">low</tspan></text>
<line x1="480.20" y1="307.20" x2="480.20" y2="313.50" stroke="#4a6382" stroke-width="1.2"/>
<path d="M478.09999999999997,312.6 L480.2,317.0 L482.3,312.6 Z" fill="#4a6382"/>
<line x1="480.20" y1="319.30" x2="480.20" y2="326.00" stroke="#4a6382" stroke-width="1.0"/>
<line x1="523.00" y1="307.20" x2="523.00" y2="313.50" stroke="#4a6382" stroke-width="1.2"/>
<path d="M520.9,312.6 L523.0,317.0 L525.1,312.6 Z" fill="#4a6382"/>
<line x1="523.00" y1="319.30" x2="523.00" y2="326.00" stroke="#4a6382" stroke-width="1.0"/>
<line x1="480.20" y1="322.70" x2="559.50" y2="322.70" stroke="#4a6382" stroke-width="1.1"/>
<path d="M562.5,322.7 L557.5,320.6 L557.5,324.8 Z" fill="#4a6382"/>
<text font-size="7.83" text-anchor="middle" fill="#222" transform="translate(474.40 333.22) scale(0.92 1)">Day 0</text>
<text font-size="7.83" text-anchor="middle" fill="#222" transform="translate(523.00 333.22) scale(0.92 1)">4</text>
<text font-size="7.61" fill="#222" transform="translate(519.80 305.00) rotate(-56) translate(0 2.74) scale(0.92 1)">T cells</text>
<text font-size="7.83" fill="#222" transform="translate(562.50 320.82) scale(0.92 1)">Survival</text>
<text font-size="7.83" fill="#222" transform="translate(562.50 329.22) scale(0.92 1)">analysis</text>
<path d="M469,343.8 C470.5,341.5 472.5,339.8 475,339 C476.5,338.4 478.5,338.4 481.5,338.8 C485,339.5 487.3,342.5 487.1,346.5 C487,349.5 486.6,351 485.6,352.1 L476.2,352.1 C475.3,351.6 475.3,350.5 476.0,349.6 L476.4,348.4 L473.3,348.7 C472.3,348.7 472.3,347.3 473.3,347.1 L475.4,346.5 C474,346.1 471.5,345.6 469.8,345.3 C469,345 468.7,344.4 469,343.8 Z" fill="#1a1a1a"/>
<circle cx="477.30" cy="337.40" r="2.2" fill="#1a1a1a"/>
<circle cx="472.50" cy="341.80" r="0.55" fill="#ffffff"/>
<path d="M485.5,351.9 C489,352.4 493,352.5 494.8,351.1 C496.3,349.9 496.8,347.9 496.4,346.3" fill="none" stroke="#1a1a1a" stroke-width="0.9"/>
<text x="1.00" y="423.90" font-size="12" font-weight="bold" fill="#111" stroke="#111" stroke-width="0.45">k</text>
<text font-size="7.83" text-anchor="middle" fill="#222" transform="translate(45.50 425.12) scale(0.92 1)">PBS</text>
<text font-size="7.72" text-anchor="middle" fill="#222" transform="translate(116.30 425.08) scale(0.92 1)">CD19 + CD22 CARs</text>
<text font-size="7.93" text-anchor="middle" fill="#222" transform="translate(192.00 425.16) scale(0.92 1)">Bi-ChTCR</text>
<text font-size="7.61" fill="#222" transform="translate(4.00 447.74) scale(0.92 1)">D3</text>
<text font-size="7.61" fill="#222" transform="translate(4.00 477.54) scale(0.92 1)">D10</text>
<text font-size="7.61" fill="#222" transform="translate(4.00 506.64) scale(0.92 1)">D17</text>
<text font-size="7.61" fill="#222" transform="translate(-1.00 538.14) scale(0.92 1)">D24</text>
<text font-size="7.61" fill="#222" transform="translate(-1.00 564.14) scale(0.92 1)">D31</text>
<g filter="url(#tex)">
<rect x="16.90" y="427.80" width="216.90" height="30.70" fill="#1f1f1f"/>
<line x1="17.20" y1="427.80" x2="17.20" y2="458.50" stroke="#4a4a4a" stroke-width="0.6"/>
<path d="M22.61,428.41 L23.61,429.03 L24.41,430.87 L25.01,433.94 L25.61,436.50 L25.91,438.55 L26.51,441.10 L27.01,444.17 L27.31,448.27 L27.31,452.36 L27.01,454.92 L26.01,456.76 L24.41,457.48 L22.61,457.58 L20.81,457.48 L19.21,456.76 L18.21,454.92 L17.91,452.36 L17.91,448.27 L18.21,444.17 L18.71,441.10 L19.31,438.55 L19.61,436.50 L20.21,433.94 L20.81,430.87 L21.61,429.03 L22.61,428.41 Z" fill="url(#mouseg)" stroke="#7a7a7a" stroke-width="0.3"/>
<line x1="19.41" y1="456.66" x2="18.81" y2="458.09" stroke="#8a8a8a" stroke-width="0.7"/>
<line x1="25.81" y1="456.66" x2="26.41" y2="458.09" stroke="#8a8a8a" stroke-width="0.7"/>
<ellipse cx="22.61" cy="437.52" rx="2.6" ry="1.0" fill="#a8a8a8" opacity="0.6"/>
<line x1="28.62" y1="427.80" x2="28.62" y2="458.50" stroke="#4a4a4a" stroke-width="0.6"/>
<path d="M34.02,428.41 L35.02,429.03 L35.82,430.87 L36.42,433.94 L37.02,436.50 L37.32,438.55 L37.92,441.10 L38.42,444.17 L38.72,448.27 L38.72,452.36 L38.42,454.92 L37.42,456.76 L35.82,457.48 L34.02,457.58 L32.22,457.48 L30.62,456.76 L29.62,454.92 L29.32,452.36 L29.32,448.27 L29.62,444.17 L30.12,441.10 L30.72,438.55 L31.02,436.50 L31.62,433.94 L32.22,430.87 L33.02,429.03 L34.02,428.41 Z" fill="url(#mouseg)" stroke="#7a7a7a" stroke-width="0.3"/>
<line x1="30.82" y1="456.66" x2="30.22" y2="458.09" stroke="#8a8a8a" stroke-width="0.7"/>
<line x1="37.22" y1="456.66" x2="37.82" y2="458.09" stroke="#8a8a8a" stroke-width="0.7"/>
<ellipse cx="34.02" cy="437.52" rx="2.6" ry="1.0" fill="#a8a8a8" opacity="0.6"/>
<line x1="40.03" y1="427.80" x2="40.03" y2="458.50" stroke="#4a4a4a" stroke-width="0.6"/>
<path d="M45.44,428.41 L46.44,429.03 L47.24,430.87 L47.84,433.94 L48.44,436.50 L48.74,438.55 L49.34,441.10 L49.84,444.17 L50.14,448.27 L50.14,452.36 L49.84,454.92 L48.84,456.76 L47.24,457.48 L45.44,457.58 L43.64,457.48 L42.04,456.76 L41.04,454.92 L40.74,452.36 L40.74,448.27 L41.04,444.17 L41.54,441.10 L42.14,438.55 L42.44,436.50 L43.04,433.94 L43.64,430.87 L44.44,429.03 L45.44,428.41 Z" fill="url(#mouseg)" stroke="#7a7a7a" stroke-width="0.3"/>
<line x1="42.24" y1="456.66" x2="41.64" y2="458.09" stroke="#8a8a8a" stroke-width="0.7"/>
<line x1="48.64" y1="456.66" x2="49.24" y2="458.09" stroke="#8a8a8a" stroke-width="0.7"/>
<ellipse cx="45.44" cy="437.52" rx="2.6" ry="1.0" fill="#a8a8a8" opacity="0.6"/>
<line x1="51.45" y1="427.80" x2="51.45" y2="458.50" stroke="#4a4a4a" stroke-width="0.6"/>
<path d="M56.86,428.41 L57.86,429.03 L58.66,430.87 L59.26,433.94 L59.86,436.50 L60.16,438.55 L60.76,441.10 L61.26,444.17 L61.56,448.27 L61.56,452.36 L61.26,454.92 L60.26,456.76 L58.66,457.48 L56.86,457.58 L55.06,457.48 L53.46,456.76 L52.46,454.92 L52.16,452.36 L52.16,448.27 L52.46,444.17 L52.96,441.10 L53.56,438.55 L53.86,436.50 L54.46,433.94 L55.06,430.87 L55.86,429.03 L56.86,428.41 Z" fill="url(#mouseg)" stroke="#7a7a7a" stroke-width="0.3"/>
<line x1="53.66" y1="456.66" x2="53.06" y2="458.09" stroke="#8a8a8a" stroke-width="0.7"/>
<line x1="60.06" y1="456.66" x2="60.66" y2="458.09" stroke="#8a8a8a" stroke-width="0.7"/>
<ellipse cx="56.86" cy="437.52" rx="2.6" ry="1.0" fill="#a8a8a8" opacity="0.6"/>
<line x1="62.86" y1="427.80" x2="62.86" y2="458.50" stroke="#4a4a4a" stroke-width="0.6"/>
<path d="M68.27,428.41 L69.27,429.03 L70.07,430.87 L70.67,433.94 L71.27,436.50 L71.57,438.55 L72.17,441.10 L72.67,444.17 L72.97,448.27 L72.97,452.36 L72.67,454.92 L71.67,456.76 L70.07,457.48 L68.27,457.58 L66.47,457.48 L64.87,456.76 L63.87,454.92 L63.57,452.36 L63.57,448.27 L63.87,444.17 L64.37,441.10 L64.97,438.55 L65.27,436.50 L65.87,433.94 L66.47,430.87 L67.27,429.03 L68.27,428.41 Z" fill="url(#mouseg)" stroke="#7a7a7a" stroke-width="0.3"/>
<line x1="65.07" y1="456.66" x2="64.47" y2="458.09" stroke="#8a8a8a" stroke-width="0.7"/>
<line x1="71.47" y1="456.66" x2="72.07" y2="458.09" stroke="#8a8a8a" stroke-width="0.7"/>
<ellipse cx="68.27" cy="437.52" rx="2.6" ry="1.0" fill="#a8a8a8" opacity="0.6"/>
<line x1="74.28" y1="427.80" x2="74.28" y2="458.50" stroke="#4a4a4a" stroke-width="0.6"/>
<path d="M79.69,428.41 L80.69,429.03 L81.49,430.87 L82.09,433.94 L82.69,436.50 L82.99,438.55 L83.59,441.10 L84.09,444.17 L84.39,448.27 L84.39,452.36 L84.09,454.92 L83.09,456.76 L81.49,457.48 L79.69,457.58 L77.89,457.48 L76.29,456.76 L75.29,454.92 L74.99,452.36 L74.99,448.27 L75.29,444.17 L75.79,441.10 L76.39,438.55 L76.69,436.50 L77.29,433.94 L77.89,430.87 L78.69,429.03 L79.69,428.41 Z" fill="url(#mouseg)" stroke="#7a7a7a" stroke-width="0.3"/>
<line x1="76.49" y1="456.66" x2="75.89" y2="458.09" stroke="#8a8a8a" stroke-width="0.7"/>
<line x1="82.89" y1="456.66" x2="83.49" y2="458.09" stroke="#8a8a8a" stroke-width="0.7"/>
<ellipse cx="79.69" cy="437.52" rx="2.6" ry="1.0" fill="#a8a8a8" opacity="0.6"/>
<line x1="85.69" y1="427.80" x2="85.69" y2="458.50" stroke="#4a4a4a" stroke-width="0.6"/>
<path d="M91.10,428.41 L92.10,429.03 L92.90,430.87 L93.50,433.94 L94.10,436.50 L94.40,438.55 L95.00,441.10 L95.50,444.17 L95.80,448.27 L95.80,452.36 L95.50,454.92 L94.50,456.76 L92.90,457.48 L91.10,457.58 L89.30,457.48 L87.70,456.76 L86.70,454.92 L86.40,452.36 L86.40,448.27 L86.70,444.17 L87.20,441.10 L87.80,438.55 L88.10,436.50 L88.70,433.94 L89.30,430.87 L90.10,429.03 L91.10,428.41 Z" fill="url(#mouseg)" stroke="#7a7a7a" stroke-width="0.3"/>
<line x1="87.90" y1="456.66" x2="87.30" y2="458.09" stroke="#8a8a8a" stroke-width="0.7"/>
<line x1="94.30" y1="456.66" x2="94.90" y2="458.09" stroke="#8a8a8a" stroke-width="0.7"/>
<ellipse cx="91.10" cy="437.52" rx="2.6" ry="1.0" fill="#a8a8a8" opacity="0.6"/>
<line x1="97.11" y1="427.80" x2="97.11" y2="458.50" stroke="#4a4a4a" stroke-width="0.6"/>
<path d="M102.52,428.41 L103.52,429.03 L104.32,430.87 L104.92,433.94 L105.52,436.50 L105.82,438.55 L106.42,441.10 L106.92,444.17 L107.22,448.27 L107.22,452.36 L106.92,454.92 L105.92,456.76 L104.32,457.48 L102.52,457.58 L100.72,457.48 L99.12,456.76 L98.12,454.92 L97.82,452.36 L97.82,448.27 L98.12,444.17 L98.62,441.10 L99.22,438.55 L99.52,436.50 L100.12,433.94 L100.72,430.87 L101.52,429.03 L102.52,428.41 Z" fill="url(#mouseg)" stroke="#7a7a7a" stroke-width="0.3"/>
<line x1="99.32" y1="456.66" x2="98.72" y2="458.09" stroke="#8a8a8a" stroke-width="0.7"/>
<line x1="105.72" y1="456.66" x2="106.32" y2="458.09" stroke="#8a8a8a" stroke-width="0.7"/>
<ellipse cx="102.52" cy="437.52" rx="2.6" ry="1.0" fill="#a8a8a8" opacity="0.6"/>
<line x1="108.53" y1="427.80" x2="108.53" y2="458.50" stroke="#4a4a4a" stroke-width="0.6"/>
<path d="M113.93,428.41 L114.93,429.03 L115.73,430.87 L116.33,433.94 L116.93,436.50 L117.23,438.55 L117.83,441.10 L118.33,444.17 L118.63,448.27 L118.63,452.36 L118.33,454.92 L117.33,456.76 L115.73,457.48 L113.93,457.58 L112.13,457.48 L110.53,456.76 L109.53,454.92 L109.23,452.36 L109.23,448.27 L109.53,444.17 L110.03,441.10 L110.63,438.55 L110.93,436.50 L111.53,433.94 L112.13,430.87 L112.93,429.03 L113.93,428.41 Z" fill="url(#mouseg)" stroke="#7a7a7a" stroke-width="0.3"/>
<line x1="110.73" y1="456.66" x2="110.13" y2="458.09" stroke="#8a8a8a" stroke-width="0.7"/>
<line x1="117.13" y1="456.66" x2="117.73" y2="458.09" stroke="#8a8a8a" stroke-width="0.7"/>
<ellipse cx="113.93" cy="437.52" rx="2.6" ry="1.0" fill="#a8a8a8" opacity="0.6"/>
<line x1="119.94" y1="427.80" x2="119.94" y2="458.50" stroke="#4a4a4a" stroke-width="0.6"/>
<path d="M125.35,428.41 L126.35,429.03 L127.15,430.87 L127.75,433.94 L128.35,436.50 L128.65,438.55 L129.25,441.10 L129.75,444.17 L130.05,448.27 L130.05,452.36 L129.75,454.92 L128.75,456.76 L127.15,457.48 L125.35,457.58 L123.55,457.48 L121.95,456.76 L120.95,454.92 L120.65,452.36 L120.65,448.27 L120.95,444.17 L121.45,441.10 L122.05,438.55 L122.35,436.50 L122.95,433.94 L123.55,430.87 L124.35,429.03 L125.35,428.41 Z" fill="url(#mouseg)" stroke="#7a7a7a" stroke-width="0.3"/>
<line x1="122.15" y1="456.66" x2="121.55" y2="458.09" stroke="#8a8a8a" stroke-width="0.7"/>
<line x1="128.55" y1="456.66" x2="129.15" y2="458.09" stroke="#8a8a8a" stroke-width="0.7"/>
<ellipse cx="125.35" cy="437.52" rx="2.6" ry="1.0" fill="#a8a8a8" opacity="0.6"/>
<line x1="131.36" y1="427.80" x2="131.36" y2="458.50" stroke="#4a4a4a" stroke-width="0.6"/>
<path d="M136.77,428.41 L137.77,429.03 L138.57,430.87 L139.17,433.94 L139.77,436.50 L140.07,438.55 L140.67,441.10 L141.17,444.17 L141.47,448.27 L141.47,452.36 L141.17,454.92 L140.17,456.76 L138.57,457.48 L136.77,457.58 L134.97,457.48 L133.37,456.76 L132.37,454.92 L132.07,452.36 L132.07,448.27 L132.37,444.17 L132.87,441.10 L133.47,438.55 L133.77,436.50 L134.37,433.94 L134.97,430.87 L135.77,429.03 L136.77,428.41 Z" fill="url(#mouseg)" stroke="#7a7a7a" stroke-width="0.3"/>
<line x1="133.57" y1="456.66" x2="132.97" y2="458.09" stroke="#8a8a8a" stroke-width="0.7"/>
<line x1="139.97" y1="456.66" x2="140.57" y2="458.09" stroke="#8a8a8a" stroke-width="0.7"/>
<ellipse cx="136.77" cy="437.52" rx="2.6" ry="1.0" fill="#a8a8a8" opacity="0.6"/>
<line x1="142.77" y1="427.80" x2="142.77" y2="458.50" stroke="#4a4a4a" stroke-width="0.6"/>
<path d="M148.18,428.41 L149.18,429.03 L149.98,430.87 L150.58,433.94 L151.18,436.50 L151.48,438.55 L152.08,441.10 L152.58,444.17 L152.88,448.27 L152.88,452.36 L152.58,454.92 L151.58,456.76 L149.98,457.48 L148.18,457.58 L146.38,457.48 L144.78,456.76 L143.78,454.92 L143.48,452.36 L143.48,448.27 L143.78,444.17 L144.28,441.10 L144.88,438.55 L145.18,436.50 L145.78,433.94 L146.38,430.87 L147.18,429.03 L148.18,428.41 Z" fill="url(#mouseg)" stroke="#7a7a7a" stroke-width="0.3"/>
<line x1="144.98" y1="456.66" x2="144.38" y2="458.09" stroke="#8a8a8a" stroke-width="0.7"/>
<line x1="151.38" y1="456.66" x2="151.98" y2="458.09" stroke="#8a8a8a" stroke-width="0.7"/>
<ellipse cx="148.18" cy="437.52" rx="2.6" ry="1.0" fill="#a8a8a8" opacity="0.6"/>
<line x1="154.19" y1="427.80" x2="154.19" y2="458.50" stroke="#4a4a4a" stroke-width="0.6"/>
<path d="M159.60,428.41 L160.60,429.03 L161.40,430.87 L162.00,433.94 L162.60,436.50 L162.90,438.55 L163.50,441.10 L164.00,444.17 L164.30,448.27 L164.30,452.36 L164.00,454.92 L163.00,456.76 L161.40,457.48 L159.60,457.58 L157.80,457.48 L156.20,456.76 L155.20,454.92 L154.90,452.36 L154.90,448.27 L155.20,444.17 L155.70,441.10 L156.30,438.55 L156.60,436.50 L157.20,433.94 L157.80,430.87 L158.60,429.03 L159.60,428.41 Z" fill="url(#mouseg)" stroke="#7a7a7a" stroke-width="0.3"/>
<line x1="156.40" y1="456.66" x2="155.80" y2="458.09" stroke="#8a8a8a" stroke-width="0.7"/>
<line x1="162.80" y1="456.66" x2="163.40" y2="458.09" stroke="#8a8a8a" stroke-width="0.7"/>
<ellipse cx="159.60" cy="437.52" rx="2.6" ry="1.0" fill="#a8a8a8" opacity="0.6"/>
<line x1="165.61" y1="427.80" x2="165.61" y2="458.50" stroke="#4a4a4a" stroke-width="0.6"/>
<path d="M171.01,428.41 L172.01,429.03 L172.81,430.87 L173.41,433.94 L174.01,436.50 L174.31,438.55 L174.91,441.10 L175.41,444.17 L175.71,448.27 L175.71,452.36 L175.41,454.92 L174.41,456.76 L172.81,457.48 L171.01,457.58 L169.21,457.48 L167.61,456.76 L166.61,454.92 L166.31,452.36 L166.31,448.27 L166.61,444.17 L167.11,441.10 L167.71,438.55 L168.01,436.50 L168.61,433.94 L169.21,430.87 L170.01,429.03 L171.01,428.41 Z" fill="url(#mouseg)" stroke="#7a7a7a" stroke-width="0.3"/>
<line x1="167.81" y1="456.66" x2="167.21" y2="458.09" stroke="#8a8a8a" stroke-width="0.7"/>
<line x1="174.21" y1="456.66" x2="174.81" y2="458.09" stroke="#8a8a8a" stroke-width="0.7"/>
<ellipse cx="171.01" cy="437.52" rx="2.6" ry="1.0" fill="#a8a8a8" opacity="0.6"/>
<line x1="177.02" y1="427.80" x2="177.02" y2="458.50" stroke="#4a4a4a" stroke-width="0.6"/>
<path d="M182.43,428.41 L183.43,429.03 L184.23,430.87 L184.83,433.94 L185.43,436.50 L185.73,438.55 L186.33,441.10 L186.83,444.17 L187.13,448.27 L187.13,452.36 L186.83,454.92 L185.83,456.76 L184.23,457.48 L182.43,457.58 L180.63,457.48 L179.03,456.76 L178.03,454.92 L177.73,452.36 L177.73,448.27 L178.03,444.17 L178.53,441.10 L179.13,438.55 L179.43,436.50 L180.03,433.94 L180.63,430.87 L181.43,429.03 L182.43,428.41 Z" fill="url(#mouseg)" stroke="#7a7a7a" stroke-width="0.3"/>
<line x1="179.23" y1="456.66" x2="178.63" y2="458.09" stroke="#8a8a8a" stroke-width="0.7"/>
<line x1="185.63" y1="456.66" x2="186.23" y2="458.09" stroke="#8a8a8a" stroke-width="0.7"/>
<ellipse cx="182.43" cy="437.52" rx="2.6" ry="1.0" fill="#a8a8a8" opacity="0.6"/>
<line x1="188.44" y1="427.80" x2="188.44" y2="458.50" stroke="#4a4a4a" stroke-width="0.6"/>
<path d="M193.84,428.41 L194.84,429.03 L195.64,430.87 L196.24,433.94 L196.84,436.50 L197.14,438.55 L197.74,441.10 L198.24,444.17 L198.54,448.27 L198.54,452.36 L198.24,454.92 L197.24,456.76 L195.64,457.48 L193.84,457.58 L192.04,457.48 L190.44,456.76 L189.44,454.92 L189.14,452.36 L189.14,448.27 L189.44,444.17 L189.94,441.10 L190.54,438.55 L190.84,436.50 L191.44,433.94 L192.04,430.87 L192.84,429.03 L193.84,428.41 Z" fill="url(#mouseg)" stroke="#7a7a7a" stroke-width="0.3"/>
<line x1="190.64" y1="456.66" x2="190.04" y2="458.09" stroke="#8a8a8a" stroke-width="0.7"/>
<line x1="197.04" y1="456.66" x2="197.64" y2="458.09" stroke="#8a8a8a" stroke-width="0.7"/>
<ellipse cx="193.84" cy="437.52" rx="2.6" ry="1.0" fill="#a8a8a8" opacity="0.6"/>
<line x1="199.85" y1="427.80" x2="199.85" y2="458.50" stroke="#4a4a4a" stroke-width="0.6"/>
<path d="M205.26,428.41 L206.26,429.03 L207.06,430.87 L207.66,433.94 L208.26,436.50 L208.56,438.55 L209.16,441.10 L209.66,444.17 L209.96,448.27 L209.96,452.36 L209.66,454.92 L208.66,456.76 L207.06,457.48 L205.26,457.58 L203.46,457.48 L201.86,456.76 L200.86,454.92 L200.56,452.36 L200.56,448.27 L200.86,444.17 L201.36,441.10 L201.96,438.55 L202.26,436.50 L202.86,433.94 L203.46,430.87 L204.26,429.03 L205.26,428.41 Z" fill="url(#mouseg)" stroke="#7a7a7a" stroke-width="0.3"/>
<line x1="202.06" y1="456.66" x2="201.46" y2="458.09" stroke="#8a8a8a" stroke-width="0.7"/>
<line x1="208.46" y1="456.66" x2="209.06" y2="458.09" stroke="#8a8a8a" stroke-width="0.7"/>
<ellipse cx="205.26" cy="437.52" rx="2.6" ry="1.0" fill="#a8a8a8" opacity="0.6"/>
<line x1="211.27" y1="427.80" x2="211.27" y2="458.50" stroke="#4a4a4a" stroke-width="0.6"/>
<path d="M216.68,428.41 L217.68,429.03 L218.48,430.87 L219.08,433.94 L219.68,436.50 L219.98,438.55 L220.58,441.10 L221.08,444.17 L221.38,448.27 L221.38,452.36 L221.08,454.92 L220.08,456.76 L218.48,457.48 L216.68,457.58 L214.88,457.48 L213.28,456.76 L212.28,454.92 L211.98,452.36 L211.98,448.27 L212.28,444.17 L212.78,441.10 L213.38,438.55 L213.68,436.50 L214.28,433.94 L214.88,430.87 L215.68,429.03 L216.68,428.41 Z" fill="url(#mouseg)" stroke="#7a7a7a" stroke-width="0.3"/>
<line x1="213.48" y1="456.66" x2="212.88" y2="458.09" stroke="#8a8a8a" stroke-width="0.7"/>
<line x1="219.88" y1="456.66" x2="220.48" y2="458.09" stroke="#8a8a8a" stroke-width="0.7"/>
<ellipse cx="216.68" cy="437.52" rx="2.6" ry="1.0" fill="#a8a8a8" opacity="0.6"/>
<line x1="222.68" y1="427.80" x2="222.68" y2="458.50" stroke="#4a4a4a" stroke-width="0.6"/>
<path d="M228.09,428.41 L229.09,429.03 L229.89,430.87 L230.49,433.94 L231.09,436.50 L231.39,438.55 L231.99,441.10 L232.49,444.17 L232.79,448.27 L232.79,452.36 L232.49,454.92 L231.49,456.76 L229.89,457.48 L228.09,457.58 L226.29,457.48 L224.69,456.76 L223.69,454.92 L223.39,452.36 L223.39,448.27 L223.69,444.17 L224.19,441.10 L224.79,438.55 L225.09,436.50 L225.69,433.94 L226.29,430.87 L227.09,429.03 L228.09,428.41 Z" fill="url(#mouseg)" stroke="#7a7a7a" stroke-width="0.3"/>
<line x1="224.89" y1="456.66" x2="224.29" y2="458.09" stroke="#8a8a8a" stroke-width="0.7"/>
<line x1="231.29" y1="456.66" x2="231.89" y2="458.09" stroke="#8a8a8a" stroke-width="0.7"/>
<ellipse cx="228.09" cy="437.52" rx="2.6" ry="1.0" fill="#a8a8a8" opacity="0.6"/>
<line x1="16.90" y1="458.20" x2="233.80" y2="458.20" stroke="#b4b4b4" stroke-width="0.8"/>
<rect x="16.90" y="458.50" width="216.90" height="29.70" fill="#1f1f1f"/>
<line x1="17.20" y1="458.50" x2="17.20" y2="488.20" stroke="#4a4a4a" stroke-width="0.6"/>
<path d="M22.61,459.09 L23.61,459.69 L24.41,461.47 L25.01,464.44 L25.61,466.92 L25.91,468.89 L26.51,471.37 L27.01,474.34 L27.31,478.30 L27.31,482.26 L27.01,484.74 L26.01,486.52 L24.41,487.21 L22.61,487.31 L20.81,487.21 L19.21,486.52 L18.21,484.74 L17.91,482.26 L17.91,478.30 L18.21,474.34 L18.71,471.37 L19.31,468.89 L19.61,466.92 L20.21,464.44 L20.81,461.47 L21.61,459.69 L22.61,459.09 Z" fill="url(#mouseg)" stroke="#7a7a7a" stroke-width="0.3"/>
<line x1="19.41" y1="486.42" x2="18.81" y2="487.80" stroke="#8a8a8a" stroke-width="0.7"/>
<line x1="25.81" y1="486.42" x2="26.41" y2="487.80" stroke="#8a8a8a" stroke-width="0.7"/>
<ellipse cx="22.61" cy="467.90" rx="2.6" ry="1.0" fill="#a8a8a8" opacity="0.6"/>
<line x1="28.62" y1="458.50" x2="28.62" y2="488.20" stroke="#4a4a4a" stroke-width="0.6"/>
<path d="M34.02,459.09 L35.02,459.69 L35.82,461.47 L36.42,464.44 L37.02,466.92 L37.32,468.89 L37.92,471.37 L38.42,474.34 L38.72,478.30 L38.72,482.26 L38.42,484.74 L37.42,486.52 L35.82,487.21 L34.02,487.31 L32.22,487.21 L30.62,486.52 L29.62,484.74 L29.32,482.26 L29.32,478.30 L29.62,474.34 L30.12,471.37 L30.72,468.89 L31.02,466.92 L31.62,464.44 L32.22,461.47 L33.02,459.69 L34.02,459.09 Z" fill="url(#mouseg)" stroke="#7a7a7a" stroke-width="0.3"/>
<line x1="30.82" y1="486.42" x2="30.22" y2="487.80" stroke="#8a8a8a" stroke-width="0.7"/>
<line x1="37.22" y1="486.42" x2="37.82" y2="487.80" stroke="#8a8a8a" stroke-width="0.7"/>
<ellipse cx="34.02" cy="467.90" rx="2.6" ry="1.0" fill="#a8a8a8" opacity="0.6"/>
<line x1="40.03" y1="458.50" x2="40.03" y2="488.20" stroke="#4a4a4a" stroke-width="0.6"/>
<path d="M45.44,459.09 L46.44,459.69 L47.24,461.47 L47.84,464.44 L48.44,466.92 L48.74,468.89 L49.34,471.37 L49.84,474.34 L50.14,478.30 L50.14,482.26 L49.84,484.74 L48.84,486.52 L47.24,487.21 L45.44,487.31 L43.64,487.21 L42.04,486.52 L41.04,484.74 L40.74,482.26 L40.74,478.30 L41.04,474.34 L41.54,471.37 L42.14,468.89 L42.44,466.92 L43.04,464.44 L43.64,461.47 L44.44,459.69 L45.44,459.09 Z" fill="url(#mouseg)" stroke="#7a7a7a" stroke-width="0.3"/>
<line x1="42.24" y1="486.42" x2="41.64" y2="487.80" stroke="#8a8a8a" stroke-width="0.7"/>
<line x1="48.64" y1="486.42" x2="49.24" y2="487.80" stroke="#8a8a8a" stroke-width="0.7"/>
<ellipse cx="45.44" cy="467.90" rx="2.6" ry="1.0" fill="#a8a8a8" opacity="0.6"/>
<line x1="51.45" y1="458.50" x2="51.45" y2="488.20" stroke="#4a4a4a" stroke-width="0.6"/>
<path d="M56.86,459.09 L57.86,459.69 L58.66,461.47 L59.26,464.44 L59.86,466.92 L60.16,468.89 L60.76,471.37 L61.26,474.34 L61.56,478.30 L61.56,482.26 L61.26,484.74 L60.26,486.52 L58.66,487.21 L56.86,487.31 L55.06,487.21 L53.46,486.52 L52.46,484.74 L52.16,482.26 L52.16,478.30 L52.46,474.34 L52.96,471.37 L53.56,468.89 L53.86,466.92 L54.46,464.44 L55.06,461.47 L55.86,459.69 L56.86,459.09 Z" fill="url(#mouseg)" stroke="#7a7a7a" stroke-width="0.3"/>
<line x1="53.66" y1="486.42" x2="53.06" y2="487.80" stroke="#8a8a8a" stroke-width="0.7"/>
<line x1="60.06" y1="486.42" x2="60.66" y2="487.80" stroke="#8a8a8a" stroke-width="0.7"/>
<ellipse cx="56.86" cy="467.90" rx="2.6" ry="1.0" fill="#a8a8a8" opacity="0.6"/>
<line x1="62.86" y1="458.50" x2="62.86" y2="488.20" stroke="#4a4a4a" stroke-width="0.6"/>
<path d="M68.27,459.09 L69.27,459.69 L70.07,461.47 L70.67,464.44 L71.27,466.92 L71.57,468.89 L72.17,471.37 L72.67,474.34 L72.97,478.30 L72.97,482.26 L72.67,484.74 L71.67,486.52 L70.07,487.21 L68.27,487.31 L66.47,487.21 L64.87,486.52 L63.87,484.74 L63.57,482.26 L63.57,478.30 L63.87,474.34 L64.37,471.37 L64.97,468.89 L65.27,466.92 L65.87,464.44 L66.47,461.47 L67.27,459.69 L68.27,459.09 Z" fill="url(#mouseg)" stroke="#7a7a7a" stroke-width="0.3"/>
<line x1="65.07" y1="486.42" x2="64.47" y2="487.80" stroke="#8a8a8a" stroke-width="0.7"/>
<line x1="71.47" y1="486.42" x2="72.07" y2="487.80" stroke="#8a8a8a" stroke-width="0.7"/>
<ellipse cx="68.27" cy="467.90" rx="2.6" ry="1.0" fill="#a8a8a8" opacity="0.6"/>
<line x1="74.28" y1="458.50" x2="74.28" y2="488.20" stroke="#4a4a4a" stroke-width="0.6"/>
<path d="M79.69,459.09 L80.69,459.69 L81.49,461.47 L82.09,464.44 L82.69,466.92 L82.99,468.89 L83.59,471.37 L84.09,474.34 L84.39,478.30 L84.39,482.26 L84.09,484.74 L83.09,486.52 L81.49,487.21 L79.69,487.31 L77.89,487.21 L76.29,486.52 L75.29,484.74 L74.99,482.26 L74.99,478.30 L75.29,474.34 L75.79,471.37 L76.39,468.89 L76.69,466.92 L77.29,464.44 L77.89,461.47 L78.69,459.69 L79.69,459.09 Z" fill="url(#mouseg)" stroke="#7a7a7a" stroke-width="0.3"/>
<line x1="76.49" y1="486.42" x2="75.89" y2="487.80" stroke="#8a8a8a" stroke-width="0.7"/>
<line x1="82.89" y1="486.42" x2="83.49" y2="487.80" stroke="#8a8a8a" stroke-width="0.7"/>
<ellipse cx="79.69" cy="467.90" rx="2.6" ry="1.0" fill="#a8a8a8" opacity="0.6"/>
<line x1="85.69" y1="458.50" x2="85.69" y2="488.20" stroke="#4a4a4a" stroke-width="0.6"/>
<path d="M91.10,459.09 L92.10,459.69 L92.90,461.47 L93.50,464.44 L94.10,466.92 L94.40,468.89 L95.00,471.37 L95.50,474.34 L95.80,478.30 L95.80,482.26 L95.50,484.74 L94.50,486.52 L92.90,487.21 L91.10,487.31 L89.30,487.21 L87.70,486.52 L86.70,484.74 L86.40,482.26 L86.40,478.30 L86.70,474.34 L87.20,471.37 L87.80,468.89 L88.10,466.92 L88.70,464.44 L89.30,461.47 L90.10,459.69 L91.10,459.09 Z" fill="url(#mouseg)" stroke="#7a7a7a" stroke-width="0.3"/>
<line x1="87.90" y1="486.42" x2="87.30" y2="487.80" stroke="#8a8a8a" stroke-width="0.7"/>
<line x1="94.30" y1="486.42" x2="94.90" y2="487.80" stroke="#8a8a8a" stroke-width="0.7"/>
<ellipse cx="91.10" cy="467.90" rx="2.6" ry="1.0" fill="#a8a8a8" opacity="0.6"/>
<line x1="97.11" y1="458.50" x2="97.11" y2="488.20" stroke="#4a4a4a" stroke-width="0.6"/>
<path d="M102.52,459.09 L103.52,459.69 L104.32,461.47 L104.92,464.44 L105.52,466.92 L105.82,468.89 L106.42,471.37 L106.92,474.34 L107.22,478.30 L107.22,482.26 L106.92,484.74 L105.92,486.52 L104.32,487.21 L102.52,487.31 L100.72,487.21 L99.12,486.52 L98.12,484.74 L97.82,482.26 L97.82,478.30 L98.12,474.34 L98.62,471.37 L99.22,468.89 L99.52,466.92 L100.12,464.44 L100.72,461.47 L101.52,459.69 L102.52,459.09 Z" fill="url(#mouseg)" stroke="#7a7a7a" stroke-width="0.3"/>
<line x1="99.32" y1="486.42" x2="98.72" y2="487.80" stroke="#8a8a8a" stroke-width="0.7"/>
<line x1="105.72" y1="486.42" x2="106.32" y2="487.80" stroke="#8a8a8a" stroke-width="0.7"/>
<ellipse cx="102.52" cy="467.90" rx="2.6" ry="1.0" fill="#a8a8a8" opacity="0.6"/>
<line x1="108.53" y1="458.50" x2="108.53" y2="488.20" stroke="#4a4a4a" stroke-width="0.6"/>
<path d="M113.93,459.09 L114.93,459.69 L115.73,461.47 L116.33,464.44 L116.93,466.92 L117.23,468.89 L117.83,471.37 L118.33,474.34 L118.63,478.30 L118.63,482.26 L118.33,484.74 L117.33,486.52 L115.73,487.21 L113.93,487.31 L112.13,487.21 L110.53,486.52 L109.53,484.74 L109.23,482.26 L109.23,478.30 L109.53,474.34 L110.03,471.37 L110.63,468.89 L110.93,466.92 L111.53,464.44 L112.13,461.47 L112.93,459.69 L113.93,459.09 Z" fill="url(#mouseg)" stroke="#7a7a7a" stroke-width="0.3"/>
<line x1="110.73" y1="486.42" x2="110.13" y2="487.80" stroke="#8a8a8a" stroke-width="0.7"/>
<line x1="117.13" y1="486.42" x2="117.73" y2="487.80" stroke="#8a8a8a" stroke-width="0.7"/>
<ellipse cx="113.93" cy="467.90" rx="2.6" ry="1.0" fill="#a8a8a8" opacity="0.6"/>
<line x1="119.94" y1="458.50" x2="119.94" y2="488.20" stroke="#4a4a4a" stroke-width="0.6"/>
<path d="M125.35,459.09 L126.35,459.69 L127.15,461.47 L127.75,464.44 L128.35,466.92 L128.65,468.89 L129.25,471.37 L129.75,474.34 L130.05,478.30 L130.05,482.26 L129.75,484.74 L128.75,486.52 L127.15,487.21 L125.35,487.31 L123.55,487.21 L121.95,486.52 L120.95,484.74 L120.65,482.26 L120.65,478.30 L120.95,474.34 L121.45,471.37 L122.05,468.89 L122.35,466.92 L122.95,464.44 L123.55,461.47 L124.35,459.69 L125.35,459.09 Z" fill="url(#mouseg)" stroke="#7a7a7a" stroke-width="0.3"/>
<line x1="122.15" y1="486.42" x2="121.55" y2="487.80" stroke="#8a8a8a" stroke-width="0.7"/>
<line x1="128.55" y1="486.42" x2="129.15" y2="487.80" stroke="#8a8a8a" stroke-width="0.7"/>
<ellipse cx="125.35" cy="467.90" rx="2.6" ry="1.0" fill="#a8a8a8" opacity="0.6"/>
<line x1="131.36" y1="458.50" x2="131.36" y2="488.20" stroke="#4a4a4a" stroke-width="0.6"/>
<path d="M136.77,459.09 L137.77,459.69 L138.57,461.47 L139.17,464.44 L139.77,466.92 L140.07,468.89 L140.67,471.37 L141.17,474.34 L141.47,478.30 L141.47,482.26 L141.17,484.74 L140.17,486.52 L138.57,487.21 L136.77,487.31 L134.97,487.21 L133.37,486.52 L132.37,484.74 L132.07,482.26 L132.07,478.30 L132.37,474.34 L132.87,471.37 L133.47,468.89 L133.77,466.92 L134.37,464.44 L134.97,461.47 L135.77,459.69 L136.77,459.09 Z" fill="url(#mouseg)" stroke="#7a7a7a" stroke-width="0.3"/>
<line x1="133.57" y1="486.42" x2="132.97" y2="487.80" stroke="#8a8a8a" stroke-width="0.7"/>
<line x1="139.97" y1="486.42" x2="140.57" y2="487.80" stroke="#8a8a8a" stroke-width="0.7"/>
<ellipse cx="136.77" cy="467.90" rx="2.6" ry="1.0" fill="#a8a8a8" opacity="0.6"/>
<line x1="142.77" y1="458.50" x2="142.77" y2="488.20" stroke="#4a4a4a" stroke-width="0.6"/>
<path d="M148.18,459.09 L149.18,459.69 L149.98,461.47 L150.58,464.44 L151.18,466.92 L151.48,468.89 L152.08,471.37 L152.58,474.34 L152.88,478.30 L152.88,482.26 L152.58,484.74 L151.58,486.52 L149.98,487.21 L148.18,487.31 L146.38,487.21 L144.78,486.52 L143.78,484.74 L143.48,482.26 L143.48,478.30 L143.78,474.34 L144.28,471.37 L144.88,468.89 L145.18,466.92 L145.78,464.44 L146.38,461.47 L147.18,459.69 L148.18,459.09 Z" fill="url(#mouseg)" stroke="#7a7a7a" stroke-width="0.3"/>
<line x1="144.98" y1="486.42" x2="144.38" y2="487.80" stroke="#8a8a8a" stroke-width="0.7"/>
<line x1="151.38" y1="486.42" x2="151.98" y2="487.80" stroke="#8a8a8a" stroke-width="0.7"/>
<ellipse cx="148.18" cy="467.90" rx="2.6" ry="1.0" fill="#a8a8a8" opacity="0.6"/>
<line x1="154.19" y1="458.50" x2="154.19" y2="488.20" stroke="#4a4a4a" stroke-width="0.6"/>
<path d="M159.60,459.09 L160.60,459.69 L161.40,461.47 L162.00,464.44 L162.60,466.92 L162.90,468.89 L163.50,471.37 L164.00,474.34 L164.30,478.30 L164.30,482.26 L164.00,484.74 L163.00,486.52 L161.40,487.21 L159.60,487.31 L157.80,487.21 L156.20,486.52 L155.20,484.74 L154.90,482.26 L154.90,478.30 L155.20,474.34 L155.70,471.37 L156.30,468.89 L156.60,466.92 L157.20,464.44 L157.80,461.47 L158.60,459.69 L159.60,459.09 Z" fill="url(#mouseg)" stroke="#7a7a7a" stroke-width="0.3"/>
<line x1="156.40" y1="486.42" x2="155.80" y2="487.80" stroke="#8a8a8a" stroke-width="0.7"/>
<line x1="162.80" y1="486.42" x2="163.40" y2="487.80" stroke="#8a8a8a" stroke-width="0.7"/>
<ellipse cx="159.60" cy="467.90" rx="2.6" ry="1.0" fill="#a8a8a8" opacity="0.6"/>
<line x1="165.61" y1="458.50" x2="165.61" y2="488.20" stroke="#4a4a4a" stroke-width="0.6"/>
<path d="M171.01,459.09 L172.01,459.69 L172.81,461.47 L173.41,464.44 L174.01,466.92 L174.31,468.89 L174.91,471.37 L175.41,474.34 L175.71,478.30 L175.71,482.26 L175.41,484.74 L174.41,486.52 L172.81,487.21 L171.01,487.31 L169.21,487.21 L167.61,486.52 L166.61,484.74 L166.31,482.26 L166.31,478.30 L166.61,474.34 L167.11,471.37 L167.71,468.89 L168.01,466.92 L168.61,464.44 L169.21,461.47 L170.01,459.69 L171.01,459.09 Z" fill="url(#mouseg)" stroke="#7a7a7a" stroke-width="0.3"/>
<line x1="167.81" y1="486.42" x2="167.21" y2="487.80" stroke="#8a8a8a" stroke-width="0.7"/>
<line x1="174.21" y1="486.42" x2="174.81" y2="487.80" stroke="#8a8a8a" stroke-width="0.7"/>
<ellipse cx="171.01" cy="467.90" rx="2.6" ry="1.0" fill="#a8a8a8" opacity="0.6"/>
<line x1="177.02" y1="458.50" x2="177.02" y2="488.20" stroke="#4a4a4a" stroke-width="0.6"/>
<path d="M182.43,459.09 L183.43,459.69 L184.23,461.47 L184.83,464.44 L185.43,466.92 L185.73,468.89 L186.33,471.37 L186.83,474.34 L187.13,478.30 L187.13,482.26 L186.83,484.74 L185.83,486.52 L184.23,487.21 L182.43,487.31 L180.63,487.21 L179.03,486.52 L178.03,484.74 L177.73,482.26 L177.73,478.30 L178.03,474.34 L178.53,471.37 L179.13,468.89 L179.43,466.92 L180.03,464.44 L180.63,461.47 L181.43,459.69 L182.43,459.09 Z" fill="url(#mouseg)" stroke="#7a7a7a" stroke-width="0.3"/>
<line x1="179.23" y1="486.42" x2="178.63" y2="487.80" stroke="#8a8a8a" stroke-width="0.7"/>
<line x1="185.63" y1="486.42" x2="186.23" y2="487.80" stroke="#8a8a8a" stroke-width="0.7"/>
<ellipse cx="182.43" cy="467.90" rx="2.6" ry="1.0" fill="#a8a8a8" opacity="0.6"/>
<line x1="188.44" y1="458.50" x2="188.44" y2="488.20" stroke="#4a4a4a" stroke-width="0.6"/>
<path d="M193.84,459.09 L194.84,459.69 L195.64,461.47 L196.24,464.44 L196.84,466.92 L197.14,468.89 L197.74,471.37 L198.24,474.34 L198.54,478.30 L198.54,482.26 L198.24,484.74 L197.24,486.52 L195.64,487.21 L193.84,487.31 L192.04,487.21 L190.44,486.52 L189.44,484.74 L189.14,482.26 L189.14,478.30 L189.44,474.34 L189.94,471.37 L190.54,468.89 L190.84,466.92 L191.44,464.44 L192.04,461.47 L192.84,459.69 L193.84,459.09 Z" fill="url(#mouseg)" stroke="#7a7a7a" stroke-width="0.3"/>
<line x1="190.64" y1="486.42" x2="190.04" y2="487.80" stroke="#8a8a8a" stroke-width="0.7"/>
<line x1="197.04" y1="486.42" x2="197.64" y2="487.80" stroke="#8a8a8a" stroke-width="0.7"/>
<ellipse cx="193.84" cy="467.90" rx="2.6" ry="1.0" fill="#a8a8a8" opacity="0.6"/>
<line x1="199.85" y1="458.50" x2="199.85" y2="488.20" stroke="#4a4a4a" stroke-width="0.6"/>
<path d="M205.26,459.09 L206.26,459.69 L207.06,461.47 L207.66,464.44 L208.26,466.92 L208.56,468.89 L209.16,471.37 L209.66,474.34 L209.96,478.30 L209.96,482.26 L209.66,484.74 L208.66,486.52 L207.06,487.21 L205.26,487.31 L203.46,487.21 L201.86,486.52 L200.86,484.74 L200.56,482.26 L200.56,478.30 L200.86,474.34 L201.36,471.37 L201.96,468.89 L202.26,466.92 L202.86,464.44 L203.46,461.47 L204.26,459.69 L205.26,459.09 Z" fill="url(#mouseg)" stroke="#7a7a7a" stroke-width="0.3"/>
<line x1="202.06" y1="486.42" x2="201.46" y2="487.80" stroke="#8a8a8a" stroke-width="0.7"/>
<line x1="208.46" y1="486.42" x2="209.06" y2="487.80" stroke="#8a8a8a" stroke-width="0.7"/>
<ellipse cx="205.26" cy="467.90" rx="2.6" ry="1.0" fill="#a8a8a8" opacity="0.6"/>
<line x1="211.27" y1="458.50" x2="211.27" y2="488.20" stroke="#4a4a4a" stroke-width="0.6"/>
<path d="M216.68,459.09 L217.68,459.69 L218.48,461.47 L219.08,464.44 L219.68,466.92 L219.98,468.89 L220.58,471.37 L221.08,474.34 L221.38,478.30 L221.38,482.26 L221.08,484.74 L220.08,486.52 L218.48,487.21 L216.68,487.31 L214.88,487.21 L213.28,486.52 L212.28,484.74 L211.98,482.26 L211.98,478.30 L212.28,474.34 L212.78,471.37 L213.38,468.89 L213.68,466.92 L214.28,464.44 L214.88,461.47 L215.68,459.69 L216.68,459.09 Z" fill="url(#mouseg)" stroke="#7a7a7a" stroke-width="0.3"/>
<line x1="213.48" y1="486.42" x2="212.88" y2="487.80" stroke="#8a8a8a" stroke-width="0.7"/>
<line x1="219.88" y1="486.42" x2="220.48" y2="487.80" stroke="#8a8a8a" stroke-width="0.7"/>
<ellipse cx="216.68" cy="467.90" rx="2.6" ry="1.0" fill="#a8a8a8" opacity="0.6"/>
<line x1="222.68" y1="458.50" x2="222.68" y2="488.20" stroke="#4a4a4a" stroke-width="0.6"/>
<path d="M228.09,459.09 L229.09,459.69 L229.89,461.47 L230.49,464.44 L231.09,466.92 L231.39,468.89 L231.99,471.37 L232.49,474.34 L232.79,478.30 L232.79,482.26 L232.49,484.74 L231.49,486.52 L229.89,487.21 L228.09,487.31 L226.29,487.21 L224.69,486.52 L223.69,484.74 L223.39,482.26 L223.39,478.30 L223.69,474.34 L224.19,471.37 L224.79,468.89 L225.09,466.92 L225.69,464.44 L226.29,461.47 L227.09,459.69 L228.09,459.09 Z" fill="url(#mouseg)" stroke="#7a7a7a" stroke-width="0.3"/>
<line x1="224.89" y1="486.42" x2="224.29" y2="487.80" stroke="#8a8a8a" stroke-width="0.7"/>
<line x1="231.29" y1="486.42" x2="231.89" y2="487.80" stroke="#8a8a8a" stroke-width="0.7"/>
<ellipse cx="228.09" cy="467.90" rx="2.6" ry="1.0" fill="#a8a8a8" opacity="0.6"/>
<line x1="16.90" y1="487.90" x2="233.80" y2="487.90" stroke="#b4b4b4" stroke-width="0.8"/>
<rect x="16.90" y="488.20" width="216.90" height="30.00" fill="#1f1f1f"/>
<line x1="17.20" y1="488.20" x2="17.20" y2="518.20" stroke="#4a4a4a" stroke-width="0.6"/>
<path d="M22.61,488.80 L23.61,489.40 L24.41,491.20 L25.01,494.20 L25.61,496.70 L25.91,498.70 L26.51,501.20 L27.01,504.20 L27.31,508.20 L27.31,512.20 L27.01,514.70 L26.01,516.50 L24.41,517.20 L22.61,517.30 L20.81,517.20 L19.21,516.50 L18.21,514.70 L17.91,512.20 L17.91,508.20 L18.21,504.20 L18.71,501.20 L19.31,498.70 L19.61,496.70 L20.21,494.20 L20.81,491.20 L21.61,489.40 L22.61,488.80 Z" fill="url(#mouseg)" stroke="#7a7a7a" stroke-width="0.3"/>
<line x1="19.41" y1="516.40" x2="18.81" y2="517.80" stroke="#8a8a8a" stroke-width="0.7"/>
<line x1="25.81" y1="516.40" x2="26.41" y2="517.80" stroke="#8a8a8a" stroke-width="0.7"/>
<ellipse cx="22.61" cy="497.70" rx="2.6" ry="1.0" fill="#a8a8a8" opacity="0.6"/>
<line x1="28.62" y1="488.20" x2="28.62" y2="518.20" stroke="#4a4a4a" stroke-width="0.6"/>
<path d="M34.02,488.80 L35.02,489.40 L35.82,491.20 L36.42,494.20 L37.02,496.70 L37.32,498.70 L37.92,501.20 L38.42,504.20 L38.72,508.20 L38.72,512.20 L38.42,514.70 L37.42,516.50 L35.82,517.20 L34.02,517.30 L32.22,517.20 L30.62,516.50 L29.62,514.70 L29.32,512.20 L29.32,508.20 L29.62,504.20 L30.12,501.20 L30.72,498.70 L31.02,496.70 L31.62,494.20 L32.22,491.20 L33.02,489.40 L34.02,488.80 Z" fill="url(#mouseg)" stroke="#7a7a7a" stroke-width="0.3"/>
<line x1="30.82" y1="516.40" x2="30.22" y2="517.80" stroke="#8a8a8a" stroke-width="0.7"/>
<line x1="37.22" y1="516.40" x2="37.82" y2="517.80" stroke="#8a8a8a" stroke-width="0.7"/>
<ellipse cx="34.02" cy="497.70" rx="2.6" ry="1.0" fill="#a8a8a8" opacity="0.6"/>
<line x1="40.03" y1="488.20" x2="40.03" y2="518.20" stroke="#4a4a4a" stroke-width="0.6"/>
<path d="M45.44,488.80 L46.44,489.40 L47.24,491.20 L47.84,494.20 L48.44,496.70 L48.74,498.70 L49.34,501.20 L49.84,504.20 L50.14,508.20 L50.14,512.20 L49.84,514.70 L48.84,516.50 L47.24,517.20 L45.44,517.30 L43.64,517.20 L42.04,516.50 L41.04,514.70 L40.74,512.20 L40.74,508.20 L41.04,504.20 L41.54,501.20 L42.14,498.70 L42.44,496.70 L43.04,494.20 L43.64,491.20 L44.44,489.40 L45.44,488.80 Z" fill="url(#mouseg)" stroke="#7a7a7a" stroke-width="0.3"/>
<line x1="42.24" y1="516.40" x2="41.64" y2="517.80" stroke="#8a8a8a" stroke-width="0.7"/>
<line x1="48.64" y1="516.40" x2="49.24" y2="517.80" stroke="#8a8a8a" stroke-width="0.7"/>
<ellipse cx="45.44" cy="497.70" rx="2.6" ry="1.0" fill="#a8a8a8" opacity="0.6"/>
<line x1="51.45" y1="488.20" x2="51.45" y2="518.20" stroke="#4a4a4a" stroke-width="0.6"/>
<path d="M56.86,488.80 L57.86,489.40 L58.66,491.20 L59.26,494.20 L59.86,496.70 L60.16,498.70 L60.76,501.20 L61.26,504.20 L61.56,508.20 L61.56,512.20 L61.26,514.70 L60.26,516.50 L58.66,517.20 L56.86,517.30 L55.06,517.20 L53.46,516.50 L52.46,514.70 L52.16,512.20 L52.16,508.20 L52.46,504.20 L52.96,501.20 L53.56,498.70 L53.86,496.70 L54.46,494.20 L55.06,491.20 L55.86,489.40 L56.86,488.80 Z" fill="url(#mouseg)" stroke="#7a7a7a" stroke-width="0.3"/>
<line x1="53.66" y1="516.40" x2="53.06" y2="517.80" stroke="#8a8a8a" stroke-width="0.7"/>
<line x1="60.06" y1="516.40" x2="60.66" y2="517.80" stroke="#8a8a8a" stroke-width="0.7"/>
<ellipse cx="56.86" cy="497.70" rx="2.6" ry="1.0" fill="#a8a8a8" opacity="0.6"/>
<line x1="62.86" y1="488.20" x2="62.86" y2="518.20" stroke="#4a4a4a" stroke-width="0.6"/>
<path d="M68.27,488.80 L69.27,489.40 L70.07,491.20 L70.67,494.20 L71.27,496.70 L71.57,498.70 L72.17,501.20 L72.67,504.20 L72.97,508.20 L72.97,512.20 L72.67,514.70 L71.67,516.50 L70.07,517.20 L68.27,517.30 L66.47,517.20 L64.87,516.50 L63.87,514.70 L63.57,512.20 L63.57,508.20 L63.87,504.20 L64.37,501.20 L64.97,498.70 L65.27,496.70 L65.87,494.20 L66.47,491.20 L67.27,489.40 L68.27,488.80 Z" fill="url(#mouseg)" stroke="#7a7a7a" stroke-width="0.3"/>
<line x1="65.07" y1="516.40" x2="64.47" y2="517.80" stroke="#8a8a8a" stroke-width="0.7"/>
<line x1="71.47" y1="516.40" x2="72.07" y2="517.80" stroke="#8a8a8a" stroke-width="0.7"/>
<ellipse cx="68.27" cy="497.70" rx="2.6" ry="1.0" fill="#a8a8a8" opacity="0.6"/>
<line x1="74.28" y1="488.20" x2="74.28" y2="518.20" stroke="#4a4a4a" stroke-width="0.6"/>
<path d="M79.69,488.80 L80.69,489.40 L81.49,491.20 L82.09,494.20 L82.69,496.70 L82.99,498.70 L83.59,501.20 L84.09,504.20 L84.39,508.20 L84.39,512.20 L84.09,514.70 L83.09,516.50 L81.49,517.20 L79.69,517.30 L77.89,517.20 L76.29,516.50 L75.29,514.70 L74.99,512.20 L74.99,508.20 L75.29,504.20 L75.79,501.20 L76.39,498.70 L76.69,496.70 L77.29,494.20 L77.89,491.20 L78.69,489.40 L79.69,488.80 Z" fill="url(#mouseg)" stroke="#7a7a7a" stroke-width="0.3"/>
<line x1="76.49" y1="516.40" x2="75.89" y2="517.80" stroke="#8a8a8a" stroke-width="0.7"/>
<line x1="82.89" y1="516.40" x2="83.49" y2="517.80" stroke="#8a8a8a" stroke-width="0.7"/>
<ellipse cx="79.69" cy="497.70" rx="2.6" ry="1.0" fill="#a8a8a8" opacity="0.6"/>
<line x1="85.69" y1="488.20" x2="85.69" y2="518.20" stroke="#4a4a4a" stroke-width="0.6"/>
<path d="M91.10,488.80 L92.10,489.40 L92.90,491.20 L93.50,494.20 L94.10,496.70 L94.40,498.70 L95.00,501.20 L95.50,504.20 L95.80,508.20 L95.80,512.20 L95.50,514.70 L94.50,516.50 L92.90,517.20 L91.10,517.30 L89.30,517.20 L87.70,516.50 L86.70,514.70 L86.40,512.20 L86.40,508.20 L86.70,504.20 L87.20,501.20 L87.80,498.70 L88.10,496.70 L88.70,494.20 L89.30,491.20 L90.10,489.40 L91.10,488.80 Z" fill="url(#mouseg)" stroke="#7a7a7a" stroke-width="0.3"/>
<line x1="87.90" y1="516.40" x2="87.30" y2="517.80" stroke="#8a8a8a" stroke-width="0.7"/>
<line x1="94.30" y1="516.40" x2="94.90" y2="517.80" stroke="#8a8a8a" stroke-width="0.7"/>
<ellipse cx="91.10" cy="497.70" rx="2.6" ry="1.0" fill="#a8a8a8" opacity="0.6"/>
<line x1="97.11" y1="488.20" x2="97.11" y2="518.20" stroke="#4a4a4a" stroke-width="0.6"/>
<path d="M102.52,488.80 L103.52,489.40 L104.32,491.20 L104.92,494.20 L105.52,496.70 L105.82,498.70 L106.42,501.20 L106.92,504.20 L107.22,508.20 L107.22,512.20 L106.92,514.70 L105.92,516.50 L104.32,517.20 L102.52,517.30 L100.72,517.20 L99.12,516.50 L98.12,514.70 L97.82,512.20 L97.82,508.20 L98.12,504.20 L98.62,501.20 L99.22,498.70 L99.52,496.70 L100.12,494.20 L100.72,491.20 L101.52,489.40 L102.52,488.80 Z" fill="url(#mouseg)" stroke="#7a7a7a" stroke-width="0.3"/>
<line x1="99.32" y1="516.40" x2="98.72" y2="517.80" stroke="#8a8a8a" stroke-width="0.7"/>
<line x1="105.72" y1="516.40" x2="106.32" y2="517.80" stroke="#8a8a8a" stroke-width="0.7"/>
<ellipse cx="102.52" cy="497.70" rx="2.6" ry="1.0" fill="#a8a8a8" opacity="0.6"/>
<line x1="108.53" y1="488.20" x2="108.53" y2="518.20" stroke="#4a4a4a" stroke-width="0.6"/>
<path d="M113.93,488.80 L114.93,489.40 L115.73,491.20 L116.33,494.20 L116.93,496.70 L117.23,498.70 L117.83,501.20 L118.33,504.20 L118.63,508.20 L118.63,512.20 L118.33,514.70 L117.33,516.50 L115.73,517.20 L113.93,517.30 L112.13,517.20 L110.53,516.50 L109.53,514.70 L109.23,512.20 L109.23,508.20 L109.53,504.20 L110.03,501.20 L110.63,498.70 L110.93,496.70 L111.53,494.20 L112.13,491.20 L112.93,489.40 L113.93,488.80 Z" fill="url(#mouseg)" stroke="#7a7a7a" stroke-width="0.3"/>
<line x1="110.73" y1="516.40" x2="110.13" y2="517.80" stroke="#8a8a8a" stroke-width="0.7"/>
<line x1="117.13" y1="516.40" x2="117.73" y2="517.80" stroke="#8a8a8a" stroke-width="0.7"/>
<ellipse cx="113.93" cy="497.70" rx="2.6" ry="1.0" fill="#a8a8a8" opacity="0.6"/>
<line x1="119.94" y1="488.20" x2="119.94" y2="518.20" stroke="#4a4a4a" stroke-width="0.6"/>
<path d="M125.35,488.80 L126.35,489.40 L127.15,491.20 L127.75,494.20 L128.35,496.70 L128.65,498.70 L129.25,501.20 L129.75,504.20 L130.05,508.20 L130.05,512.20 L129.75,514.70 L128.75,516.50 L127.15,517.20 L125.35,517.30 L123.55,517.20 L121.95,516.50 L120.95,514.70 L120.65,512.20 L120.65,508.20 L120.95,504.20 L121.45,501.20 L122.05,498.70 L122.35,496.70 L122.95,494.20 L123.55,491.20 L124.35,489.40 L125.35,488.80 Z" fill="url(#mouseg)" stroke="#7a7a7a" stroke-width="0.3"/>
<line x1="122.15" y1="516.40" x2="121.55" y2="517.80" stroke="#8a8a8a" stroke-width="0.7"/>
<line x1="128.55" y1="516.40" x2="129.15" y2="517.80" stroke="#8a8a8a" stroke-width="0.7"/>
<ellipse cx="125.35" cy="497.70" rx="2.6" ry="1.0" fill="#a8a8a8" opacity="0.6"/>
<line x1="131.36" y1="488.20" x2="131.36" y2="518.20" stroke="#4a4a4a" stroke-width="0.6"/>
<path d="M136.77,488.80 L137.77,489.40 L138.57,491.20 L139.17,494.20 L139.77,496.70 L140.07,498.70 L140.67,501.20 L141.17,504.20 L141.47,508.20 L141.47,512.20 L141.17,514.70 L140.17,516.50 L138.57,517.20 L136.77,517.30 L134.97,517.20 L133.37,516.50 L132.37,514.70 L132.07,512.20 L132.07,508.20 L132.37,504.20 L132.87,501.20 L133.47,498.70 L133.77,496.70 L134.37,494.20 L134.97,491.20 L135.77,489.40 L136.77,488.80 Z" fill="url(#mouseg)" stroke="#7a7a7a" stroke-width="0.3"/>
<line x1="133.57" y1="516.40" x2="132.97" y2="517.80" stroke="#8a8a8a" stroke-width="0.7"/>
<line x1="139.97" y1="516.40" x2="140.57" y2="517.80" stroke="#8a8a8a" stroke-width="0.7"/>
<ellipse cx="136.77" cy="497.70" rx="2.6" ry="1.0" fill="#a8a8a8" opacity="0.6"/>
<line x1="142.77" y1="488.20" x2="142.77" y2="518.20" stroke="#4a4a4a" stroke-width="0.6"/>
<path d="M148.18,488.80 L149.18,489.40 L149.98,491.20 L150.58,494.20 L151.18,496.70 L151.48,498.70 L152.08,501.20 L152.58,504.20 L152.88,508.20 L152.88,512.20 L152.58,514.70 L151.58,516.50 L149.98,517.20 L148.18,517.30 L146.38,517.20 L144.78,516.50 L143.78,514.70 L143.48,512.20 L143.48,508.20 L143.78,504.20 L144.28,501.20 L144.88,498.70 L145.18,496.70 L145.78,494.20 L146.38,491.20 L147.18,489.40 L148.18,488.80 Z" fill="url(#mouseg)" stroke="#7a7a7a" stroke-width="0.3"/>
<line x1="144.98" y1="516.40" x2="144.38" y2="517.80" stroke="#8a8a8a" stroke-width="0.7"/>
<line x1="151.38" y1="516.40" x2="151.98" y2="517.80" stroke="#8a8a8a" stroke-width="0.7"/>
<ellipse cx="148.18" cy="497.70" rx="2.6" ry="1.0" fill="#a8a8a8" opacity="0.6"/>
<line x1="154.19" y1="488.20" x2="154.19" y2="518.20" stroke="#4a4a4a" stroke-width="0.6"/>
<path d="M159.60,488.80 L160.60,489.40 L161.40,491.20 L162.00,494.20 L162.60,496.70 L162.90,498.70 L163.50,501.20 L164.00,504.20 L164.30,508.20 L164.30,512.20 L164.00,514.70 L163.00,516.50 L161.40,517.20 L159.60,517.30 L157.80,517.20 L156.20,516.50 L155.20,514.70 L154.90,512.20 L154.90,508.20 L155.20,504.20 L155.70,501.20 L156.30,498.70 L156.60,496.70 L157.20,494.20 L157.80,491.20 L158.60,489.40 L159.60,488.80 Z" fill="url(#mouseg)" stroke="#7a7a7a" stroke-width="0.3"/>
<line x1="156.40" y1="516.40" x2="155.80" y2="517.80" stroke="#8a8a8a" stroke-width="0.7"/>
<line x1="162.80" y1="516.40" x2="163.40" y2="517.80" stroke="#8a8a8a" stroke-width="0.7"/>
<ellipse cx="159.60" cy="497.70" rx="2.6" ry="1.0" fill="#a8a8a8" opacity="0.6"/>
<line x1="165.61" y1="488.20" x2="165.61" y2="518.20" stroke="#4a4a4a" stroke-width="0.6"/>
<path d="M171.01,488.80 L172.01,489.40 L172.81,491.20 L173.41,494.20 L174.01,496.70 L174.31,498.70 L174.91,501.20 L175.41,504.20 L175.71,508.20 L175.71,512.20 L175.41,514.70 L174.41,516.50 L172.81,517.20 L171.01,517.30 L169.21,517.20 L167.61,516.50 L166.61,514.70 L166.31,512.20 L166.31,508.20 L166.61,504.20 L167.11,501.20 L167.71,498.70 L168.01,496.70 L168.61,494.20 L169.21,491.20 L170.01,489.40 L171.01,488.80 Z" fill="url(#mouseg)" stroke="#7a7a7a" stroke-width="0.3"/>
<line x1="167.81" y1="516.40" x2="167.21" y2="517.80" stroke="#8a8a8a" stroke-width="0.7"/>
<line x1="174.21" y1="516.40" x2="174.81" y2="517.80" stroke="#8a8a8a" stroke-width="0.7"/>
<ellipse cx="171.01" cy="497.70" rx="2.6" ry="1.0" fill="#a8a8a8" opacity="0.6"/>
<line x1="177.02" y1="488.20" x2="177.02" y2="518.20" stroke="#4a4a4a" stroke-width="0.6"/>
<path d="M182.43,488.80 L183.43,489.40 L184.23,491.20 L184.83,494.20 L185.43,496.70 L185.73,498.70 L186.33,501.20 L186.83,504.20 L187.13,508.20 L187.13,512.20 L186.83,514.70 L185.83,516.50 L184.23,517.20 L182.43,517.30 L180.63,517.20 L179.03,516.50 L178.03,514.70 L177.73,512.20 L177.73,508.20 L178.03,504.20 L178.53,501.20 L179.13,498.70 L179.43,496.70 L180.03,494.20 L180.63,491.20 L181.43,489.40 L182.43,488.80 Z" fill="url(#mouseg)" stroke="#7a7a7a" stroke-width="0.3"/>
<line x1="179.23" y1="516.40" x2="178.63" y2="517.80" stroke="#8a8a8a" stroke-width="0.7"/>
<line x1="185.63" y1="516.40" x2="186.23" y2="517.80" stroke="#8a8a8a" stroke-width="0.7"/>
<ellipse cx="182.43" cy="497.70" rx="2.6" ry="1.0" fill="#a8a8a8" opacity="0.6"/>
<line x1="188.44" y1="488.20" x2="188.44" y2="518.20" stroke="#4a4a4a" stroke-width="0.6"/>
<path d="M193.84,488.80 L194.84,489.40 L195.64,491.20 L196.24,494.20 L196.84,496.70 L197.14,498.70 L197.74,501.20 L198.24,504.20 L198.54,508.20 L198.54,512.20 L198.24,514.70 L197.24,516.50 L195.64,517.20 L193.84,517.30 L192.04,517.20 L190.44,516.50 L189.44,514.70 L189.14,512.20 L189.14,508.20 L189.44,504.20 L189.94,501.20 L190.54,498.70 L190.84,496.70 L191.44,494.20 L192.04,491.20 L192.84,489.40 L193.84,488.80 Z" fill="url(#mouseg)" stroke="#7a7a7a" stroke-width="0.3"/>
<line x1="190.64" y1="516.40" x2="190.04" y2="517.80" stroke="#8a8a8a" stroke-width="0.7"/>
<line x1="197.04" y1="516.40" x2="197.64" y2="517.80" stroke="#8a8a8a" stroke-width="0.7"/>
<ellipse cx="193.84" cy="497.70" rx="2.6" ry="1.0" fill="#a8a8a8" opacity="0.6"/>
<line x1="199.85" y1="488.20" x2="199.85" y2="518.20" stroke="#4a4a4a" stroke-width="0.6"/>
<path d="M205.26,488.80 L206.26,489.40 L207.06,491.20 L207.66,494.20 L208.26,496.70 L208.56,498.70 L209.16,501.20 L209.66,504.20 L209.96,508.20 L209.96,512.20 L209.66,514.70 L208.66,516.50 L207.06,517.20 L205.26,517.30 L203.46,517.20 L201.86,516.50 L200.86,514.70 L200.56,512.20 L200.56,508.20 L200.86,504.20 L201.36,501.20 L201.96,498.70 L202.26,496.70 L202.86,494.20 L203.46,491.20 L204.26,489.40 L205.26,488.80 Z" fill="url(#mouseg)" stroke="#7a7a7a" stroke-width="0.3"/>
<line x1="202.06" y1="516.40" x2="201.46" y2="517.80" stroke="#8a8a8a" stroke-width="0.7"/>
<line x1="208.46" y1="516.40" x2="209.06" y2="517.80" stroke="#8a8a8a" stroke-width="0.7"/>
<ellipse cx="205.26" cy="497.70" rx="2.6" ry="1.0" fill="#a8a8a8" opacity="0.6"/>
<line x1="211.27" y1="488.20" x2="211.27" y2="518.20" stroke="#4a4a4a" stroke-width="0.6"/>
<path d="M216.68,488.80 L217.68,489.40 L218.48,491.20 L219.08,494.20 L219.68,496.70 L219.98,498.70 L220.58,501.20 L221.08,504.20 L221.38,508.20 L221.38,512.20 L221.08,514.70 L220.08,516.50 L218.48,517.20 L216.68,517.30 L214.88,517.20 L213.28,516.50 L212.28,514.70 L211.98,512.20 L211.98,508.20 L212.28,504.20 L212.78,501.20 L213.38,498.70 L213.68,496.70 L214.28,494.20 L214.88,491.20 L215.68,489.40 L216.68,488.80 Z" fill="url(#mouseg)" stroke="#7a7a7a" stroke-width="0.3"/>
<line x1="213.48" y1="516.40" x2="212.88" y2="517.80" stroke="#8a8a8a" stroke-width="0.7"/>
<line x1="219.88" y1="516.40" x2="220.48" y2="517.80" stroke="#8a8a8a" stroke-width="0.7"/>
<ellipse cx="216.68" cy="497.70" rx="2.6" ry="1.0" fill="#a8a8a8" opacity="0.6"/>
<line x1="222.68" y1="488.20" x2="222.68" y2="518.20" stroke="#4a4a4a" stroke-width="0.6"/>
<path d="M228.09,488.80 L229.09,489.40 L229.89,491.20 L230.49,494.20 L231.09,496.70 L231.39,498.70 L231.99,501.20 L232.49,504.20 L232.79,508.20 L232.79,512.20 L232.49,514.70 L231.49,516.50 L229.89,517.20 L228.09,517.30 L226.29,517.20 L224.69,516.50 L223.69,514.70 L223.39,512.20 L223.39,508.20 L223.69,504.20 L224.19,501.20 L224.79,498.70 L225.09,496.70 L225.69,494.20 L226.29,491.20 L227.09,489.40 L228.09,488.80 Z" fill="url(#mouseg)" stroke="#7a7a7a" stroke-width="0.3"/>
<line x1="224.89" y1="516.40" x2="224.29" y2="517.80" stroke="#8a8a8a" stroke-width="0.7"/>
<line x1="231.29" y1="516.40" x2="231.89" y2="517.80" stroke="#8a8a8a" stroke-width="0.7"/>
<ellipse cx="228.09" cy="497.70" rx="2.6" ry="1.0" fill="#a8a8a8" opacity="0.6"/>
<line x1="16.90" y1="517.90" x2="233.80" y2="517.90" stroke="#b4b4b4" stroke-width="0.8"/>
<rect x="73.98" y="518.20" width="159.82" height="30.20" fill="#1f1f1f"/>
<line x1="74.28" y1="518.20" x2="74.28" y2="548.40" stroke="#4a4a4a" stroke-width="0.6"/>
<path d="M79.69,518.80 L80.69,519.41 L81.49,521.22 L82.09,524.24 L82.69,526.76 L82.99,528.77 L83.59,531.29 L84.09,534.31 L84.39,538.33 L84.39,542.36 L84.09,544.88 L83.09,546.69 L81.49,547.39 L79.69,547.49 L77.89,547.39 L76.29,546.69 L75.29,544.88 L74.99,542.36 L74.99,538.33 L75.29,534.31 L75.79,531.29 L76.39,528.77 L76.69,526.76 L77.29,524.24 L77.89,521.22 L78.69,519.41 L79.69,518.80 Z" fill="url(#mouseg)" stroke="#7a7a7a" stroke-width="0.3"/>
<line x1="76.49" y1="546.59" x2="75.89" y2="548.00" stroke="#8a8a8a" stroke-width="0.7"/>
<line x1="82.89" y1="546.59" x2="83.49" y2="548.00" stroke="#8a8a8a" stroke-width="0.7"/>
<ellipse cx="79.69" cy="527.76" rx="2.6" ry="1.0" fill="#a8a8a8" opacity="0.6"/>
<line x1="85.69" y1="518.20" x2="85.69" y2="548.40" stroke="#4a4a4a" stroke-width="0.6"/>
<path d="M91.10,518.80 L92.10,519.41 L92.90,521.22 L93.50,524.24 L94.10,526.76 L94.40,528.77 L95.00,531.29 L95.50,534.31 L95.80,538.33 L95.80,542.36 L95.50,544.88 L94.50,546.69 L92.90,547.39 L91.10,547.49 L89.30,547.39 L87.70,546.69 L86.70,544.88 L86.40,542.36 L86.40,538.33 L86.70,534.31 L87.20,531.29 L87.80,528.77 L88.10,526.76 L88.70,524.24 L89.30,521.22 L90.10,519.41 L91.10,518.80 Z" fill="url(#mouseg)" stroke="#7a7a7a" stroke-width="0.3"/>
<line x1="87.90" y1="546.59" x2="87.30" y2="548.00" stroke="#8a8a8a" stroke-width="0.7"/>
<line x1="94.30" y1="546.59" x2="94.90" y2="548.00" stroke="#8a8a8a" stroke-width="0.7"/>
<ellipse cx="91.10" cy="527.76" rx="2.6" ry="1.0" fill="#a8a8a8" opacity="0.6"/>
<line x1="97.11" y1="518.20" x2="97.11" y2="548.40" stroke="#4a4a4a" stroke-width="0.6"/>
<path d="M102.52,518.80 L103.52,519.41 L104.32,521.22 L104.92,524.24 L105.52,526.76 L105.82,528.77 L106.42,531.29 L106.92,534.31 L107.22,538.33 L107.22,542.36 L106.92,544.88 L105.92,546.69 L104.32,547.39 L102.52,547.49 L100.72,547.39 L99.12,546.69 L98.12,544.88 L97.82,542.36 L97.82,538.33 L98.12,534.31 L98.62,531.29 L99.22,528.77 L99.52,526.76 L100.12,524.24 L100.72,521.22 L101.52,519.41 L102.52,518.80 Z" fill="url(#mouseg)" stroke="#7a7a7a" stroke-width="0.3"/>
<line x1="99.32" y1="546.59" x2="98.72" y2="548.00" stroke="#8a8a8a" stroke-width="0.7"/>
<line x1="105.72" y1="546.59" x2="106.32" y2="548.00" stroke="#8a8a8a" stroke-width="0.7"/>
<ellipse cx="102.52" cy="527.76" rx="2.6" ry="1.0" fill="#a8a8a8" opacity="0.6"/>
<line x1="108.53" y1="518.20" x2="108.53" y2="548.40" stroke="#4a4a4a" stroke-width="0.6"/>
<path d="M113.93,518.80 L114.93,519.41 L115.73,521.22 L116.33,524.24 L116.93,526.76 L117.23,528.77 L117.83,531.29 L118.33,534.31 L118.63,538.33 L118.63,542.36 L118.33,544.88 L117.33,546.69 L115.73,547.39 L113.93,547.49 L112.13,547.39 L110.53,546.69 L109.53,544.88 L109.23,542.36 L109.23,538.33 L109.53,534.31 L110.03,531.29 L110.63,528.77 L110.93,526.76 L111.53,524.24 L112.13,521.22 L112.93,519.41 L113.93,518.80 Z" fill="url(#mouseg)" stroke="#7a7a7a" stroke-width="0.3"/>
<line x1="110.73" y1="546.59" x2="110.13" y2="548.00" stroke="#8a8a8a" stroke-width="0.7"/>
<line x1="117.13" y1="546.59" x2="117.73" y2="548.00" stroke="#8a8a8a" stroke-width="0.7"/>
<ellipse cx="113.93" cy="527.76" rx="2.6" ry="1.0" fill="#a8a8a8" opacity="0.6"/>
<line x1="119.94" y1="518.20" x2="119.94" y2="548.40" stroke="#4a4a4a" stroke-width="0.6"/>
<path d="M125.35,518.80 L126.35,519.41 L127.15,521.22 L127.75,524.24 L128.35,526.76 L128.65,528.77 L129.25,531.29 L129.75,534.31 L130.05,538.33 L130.05,542.36 L129.75,544.88 L128.75,546.69 L127.15,547.39 L125.35,547.49 L123.55,547.39 L121.95,546.69 L120.95,544.88 L120.65,542.36 L120.65,538.33 L120.95,534.31 L121.45,531.29 L122.05,528.77 L122.35,526.76 L122.95,524.24 L123.55,521.22 L124.35,519.41 L125.35,518.80 Z" fill="url(#mouseg)" stroke="#7a7a7a" stroke-width="0.3"/>
<line x1="122.15" y1="546.59" x2="121.55" y2="548.00" stroke="#8a8a8a" stroke-width="0.7"/>
<line x1="128.55" y1="546.59" x2="129.15" y2="548.00" stroke="#8a8a8a" stroke-width="0.7"/>
<ellipse cx="125.35" cy="527.76" rx="2.6" ry="1.0" fill="#a8a8a8" opacity="0.6"/>
<line x1="131.36" y1="518.20" x2="131.36" y2="548.40" stroke="#4a4a4a" stroke-width="0.6"/>
<path d="M136.77,518.80 L137.77,519.41 L138.57,521.22 L139.17,524.24 L139.77,526.76 L140.07,528.77 L140.67,531.29 L141.17,534.31 L141.47,538.33 L141.47,542.36 L141.17,544.88 L140.17,546.69 L138.57,547.39 L136.77,547.49 L134.97,547.39 L133.37,546.69 L132.37,544.88 L132.07,542.36 L132.07,538.33 L132.37,534.31 L132.87,531.29 L133.47,528.77 L133.77,526.76 L134.37,524.24 L134.97,521.22 L135.77,519.41 L136.77,518.80 Z" fill="url(#mouseg)" stroke="#7a7a7a" stroke-width="0.3"/>
<line x1="133.57" y1="546.59" x2="132.97" y2="548.00" stroke="#8a8a8a" stroke-width="0.7"/>
<line x1="139.97" y1="546.59" x2="140.57" y2="548.00" stroke="#8a8a8a" stroke-width="0.7"/>
<ellipse cx="136.77" cy="527.76" rx="2.6" ry="1.0" fill="#a8a8a8" opacity="0.6"/>
<line x1="142.77" y1="518.20" x2="142.77" y2="548.40" stroke="#4a4a4a" stroke-width="0.6"/>
<path d="M148.18,518.80 L149.18,519.41 L149.98,521.22 L150.58,524.24 L151.18,526.76 L151.48,528.77 L152.08,531.29 L152.58,534.31 L152.88,538.33 L152.88,542.36 L152.58,544.88 L151.58,546.69 L149.98,547.39 L148.18,547.49 L146.38,547.39 L144.78,546.69 L143.78,544.88 L143.48,542.36 L143.48,538.33 L143.78,534.31 L144.28,531.29 L144.88,528.77 L145.18,526.76 L145.78,524.24 L146.38,521.22 L147.18,519.41 L148.18,518.80 Z" fill="url(#mouseg)" stroke="#7a7a7a" stroke-width="0.3"/>
<line x1="144.98" y1="546.59" x2="144.38" y2="548.00" stroke="#8a8a8a" stroke-width="0.7"/>
<line x1="151.38" y1="546.59" x2="151.98" y2="548.00" stroke="#8a8a8a" stroke-width="0.7"/>
<ellipse cx="148.18" cy="527.76" rx="2.6" ry="1.0" fill="#a8a8a8" opacity="0.6"/>
<line x1="154.19" y1="518.20" x2="154.19" y2="548.40" stroke="#4a4a4a" stroke-width="0.6"/>
<path d="M159.60,518.80 L160.60,519.41 L161.40,521.22 L162.00,524.24 L162.60,526.76 L162.90,528.77 L163.50,531.29 L164.00,534.31 L164.30,538.33 L164.30,542.36 L164.00,544.88 L163.00,546.69 L161.40,547.39 L159.60,547.49 L157.80,547.39 L156.20,546.69 L155.20,544.88 L154.90,542.36 L154.90,538.33 L155.20,534.31 L155.70,531.29 L156.30,528.77 L156.60,526.76 L157.20,524.24 L157.80,521.22 L158.60,519.41 L159.60,518.80 Z" fill="url(#mouseg)" stroke="#7a7a7a" stroke-width="0.3"/>
<line x1="156.40" y1="546.59" x2="155.80" y2="548.00" stroke="#8a8a8a" stroke-width="0.7"/>
<line x1="162.80" y1="546.59" x2="163.40" y2="548.00" stroke="#8a8a8a" stroke-width="0.7"/>
<ellipse cx="159.60" cy="527.76" rx="2.6" ry="1.0" fill="#a8a8a8" opacity="0.6"/>
<line x1="165.61" y1="518.20" x2="165.61" y2="548.40" stroke="#4a4a4a" stroke-width="0.6"/>
<path d="M171.01,518.80 L172.01,519.41 L172.81,521.22 L173.41,524.24 L174.01,526.76 L174.31,528.77 L174.91,531.29 L175.41,534.31 L175.71,538.33 L175.71,542.36 L175.41,544.88 L174.41,546.69 L172.81,547.39 L171.01,547.49 L169.21,547.39 L167.61,546.69 L166.61,544.88 L166.31,542.36 L166.31,538.33 L166.61,534.31 L167.11,531.29 L167.71,528.77 L168.01,526.76 L168.61,524.24 L169.21,521.22 L170.01,519.41 L171.01,518.80 Z" fill="url(#mouseg)" stroke="#7a7a7a" stroke-width="0.3"/>
<line x1="167.81" y1="546.59" x2="167.21" y2="548.00" stroke="#8a8a8a" stroke-width="0.7"/>
<line x1="174.21" y1="546.59" x2="174.81" y2="548.00" stroke="#8a8a8a" stroke-width="0.7"/>
<ellipse cx="171.01" cy="527.76" rx="2.6" ry="1.0" fill="#a8a8a8" opacity="0.6"/>
<line x1="177.02" y1="518.20" x2="177.02" y2="548.40" stroke="#4a4a4a" stroke-width="0.6"/>
<path d="M182.43,518.80 L183.43,519.41 L184.23,521.22 L184.83,524.24 L185.43,526.76 L185.73,528.77 L186.33,531.29 L186.83,534.31 L187.13,538.33 L187.13,542.36 L186.83,544.88 L185.83,546.69 L184.23,547.39 L182.43,547.49 L180.63,547.39 L179.03,546.69 L178.03,544.88 L177.73,542.36 L177.73,538.33 L178.03,534.31 L178.53,531.29 L179.13,528.77 L179.43,526.76 L180.03,524.24 L180.63,521.22 L181.43,519.41 L182.43,518.80 Z" fill="url(#mouseg)" stroke="#7a7a7a" stroke-width="0.3"/>
<line x1="179.23" y1="546.59" x2="178.63" y2="548.00" stroke="#8a8a8a" stroke-width="0.7"/>
<line x1="185.63" y1="546.59" x2="186.23" y2="548.00" stroke="#8a8a8a" stroke-width="0.7"/>
<ellipse cx="182.43" cy="527.76" rx="2.6" ry="1.0" fill="#a8a8a8" opacity="0.6"/>
<line x1="188.44" y1="518.20" x2="188.44" y2="548.40" stroke="#4a4a4a" stroke-width="0.6"/>
<path d="M193.84,518.80 L194.84,519.41 L195.64,521.22 L196.24,524.24 L196.84,526.76 L197.14,528.77 L197.74,531.29 L198.24,534.31 L198.54,538.33 L198.54,542.36 L198.24,544.88 L197.24,546.69 L195.64,547.39 L193.84,547.49 L192.04,547.39 L190.44,546.69 L189.44,544.88 L189.14,542.36 L189.14,538.33 L189.44,534.31 L189.94,531.29 L190.54,528.77 L190.84,526.76 L191.44,524.24 L192.04,521.22 L192.84,519.41 L193.84,518.80 Z" fill="url(#mouseg)" stroke="#7a7a7a" stroke-width="0.3"/>
<line x1="190.64" y1="546.59" x2="190.04" y2="548.00" stroke="#8a8a8a" stroke-width="0.7"/>
<line x1="197.04" y1="546.59" x2="197.64" y2="548.00" stroke="#8a8a8a" stroke-width="0.7"/>
<ellipse cx="193.84" cy="527.76" rx="2.6" ry="1.0" fill="#a8a8a8" opacity="0.6"/>
<line x1="199.85" y1="518.20" x2="199.85" y2="548.40" stroke="#4a4a4a" stroke-width="0.6"/>
<path d="M205.26,518.80 L206.26,519.41 L207.06,521.22 L207.66,524.24 L208.26,526.76 L208.56,528.77 L209.16,531.29 L209.66,534.31 L209.96,538.33 L209.96,542.36 L209.66,544.88 L208.66,546.69 L207.06,547.39 L205.26,547.49 L203.46,547.39 L201.86,546.69 L200.86,544.88 L200.56,542.36 L200.56,538.33 L200.86,534.31 L201.36,531.29 L201.96,528.77 L202.26,526.76 L202.86,524.24 L203.46,521.22 L204.26,519.41 L205.26,518.80 Z" fill="url(#mouseg)" stroke="#7a7a7a" stroke-width="0.3"/>
<line x1="202.06" y1="546.59" x2="201.46" y2="548.00" stroke="#8a8a8a" stroke-width="0.7"/>
<line x1="208.46" y1="546.59" x2="209.06" y2="548.00" stroke="#8a8a8a" stroke-width="0.7"/>
<ellipse cx="205.26" cy="527.76" rx="2.6" ry="1.0" fill="#a8a8a8" opacity="0.6"/>
<line x1="211.27" y1="518.20" x2="211.27" y2="548.40" stroke="#4a4a4a" stroke-width="0.6"/>
<path d="M216.68,518.80 L217.68,519.41 L218.48,521.22 L219.08,524.24 L219.68,526.76 L219.98,528.77 L220.58,531.29 L221.08,534.31 L221.38,538.33 L221.38,542.36 L221.08,544.88 L220.08,546.69 L218.48,547.39 L216.68,547.49 L214.88,547.39 L213.28,546.69 L212.28,544.88 L211.98,542.36 L211.98,538.33 L212.28,534.31 L212.78,531.29 L213.38,528.77 L213.68,526.76 L214.28,524.24 L214.88,521.22 L215.68,519.41 L216.68,518.80 Z" fill="url(#mouseg)" stroke="#7a7a7a" stroke-width="0.3"/>
<line x1="213.48" y1="546.59" x2="212.88" y2="548.00" stroke="#8a8a8a" stroke-width="0.7"/>
<line x1="219.88" y1="546.59" x2="220.48" y2="548.00" stroke="#8a8a8a" stroke-width="0.7"/>
<ellipse cx="216.68" cy="527.76" rx="2.6" ry="1.0" fill="#a8a8a8" opacity="0.6"/>
<line x1="222.68" y1="518.20" x2="222.68" y2="548.40" stroke="#4a4a4a" stroke-width="0.6"/>
<path d="M228.09,518.80 L229.09,519.41 L229.89,521.22 L230.49,524.24 L231.09,526.76 L231.39,528.77 L231.99,531.29 L232.49,534.31 L232.79,538.33 L232.79,542.36 L232.49,544.88 L231.49,546.69 L229.89,547.39 L228.09,547.49 L226.29,547.39 L224.69,546.69 L223.69,544.88 L223.39,542.36 L223.39,538.33 L223.69,534.31 L224.19,531.29 L224.79,528.77 L225.09,526.76 L225.69,524.24 L226.29,521.22 L227.09,519.41 L228.09,518.80 Z" fill="url(#mouseg)" stroke="#7a7a7a" stroke-width="0.3"/>
<line x1="224.89" y1="546.59" x2="224.29" y2="548.00" stroke="#8a8a8a" stroke-width="0.7"/>
<line x1="231.29" y1="546.59" x2="231.89" y2="548.00" stroke="#8a8a8a" stroke-width="0.7"/>
<ellipse cx="228.09" cy="527.76" rx="2.6" ry="1.0" fill="#a8a8a8" opacity="0.6"/>
<line x1="73.98" y1="548.10" x2="233.80" y2="548.10" stroke="#b4b4b4" stroke-width="0.8"/>
<rect x="73.98" y="548.40" width="159.82" height="30.60" fill="#1f1f1f"/>
<line x1="74.28" y1="548.40" x2="74.28" y2="579.00" stroke="#4a4a4a" stroke-width="0.6"/>
<path d="M79.69,549.01 L80.69,549.62 L81.49,551.46 L82.09,554.52 L82.69,557.07 L82.99,559.11 L83.59,561.66 L84.09,564.72 L84.39,568.80 L84.39,572.88 L84.09,575.43 L83.09,577.27 L81.49,577.98 L79.69,578.08 L77.89,577.98 L76.29,577.27 L75.29,575.43 L74.99,572.88 L74.99,568.80 L75.29,564.72 L75.79,561.66 L76.39,559.11 L76.69,557.07 L77.29,554.52 L77.89,551.46 L78.69,549.62 L79.69,549.01 Z" fill="url(#mouseg)" stroke="#7a7a7a" stroke-width="0.3"/>
<line x1="76.49" y1="577.16" x2="75.89" y2="578.59" stroke="#8a8a8a" stroke-width="0.7"/>
<line x1="82.89" y1="577.16" x2="83.49" y2="578.59" stroke="#8a8a8a" stroke-width="0.7"/>
<ellipse cx="79.69" cy="558.09" rx="2.6" ry="1.0" fill="#a8a8a8" opacity="0.6"/>
<line x1="85.69" y1="548.40" x2="85.69" y2="579.00" stroke="#4a4a4a" stroke-width="0.6"/>
<path d="M91.10,549.01 L92.10,549.62 L92.90,551.46 L93.50,554.52 L94.10,557.07 L94.40,559.11 L95.00,561.66 L95.50,564.72 L95.80,568.80 L95.80,572.88 L95.50,575.43 L94.50,577.27 L92.90,577.98 L91.10,578.08 L89.30,577.98 L87.70,577.27 L86.70,575.43 L86.40,572.88 L86.40,568.80 L86.70,564.72 L87.20,561.66 L87.80,559.11 L88.10,557.07 L88.70,554.52 L89.30,551.46 L90.10,549.62 L91.10,549.01 Z" fill="url(#mouseg)" stroke="#7a7a7a" stroke-width="0.3"/>
<line x1="87.90" y1="577.16" x2="87.30" y2="578.59" stroke="#8a8a8a" stroke-width="0.7"/>
<line x1="94.30" y1="577.16" x2="94.90" y2="578.59" stroke="#8a8a8a" stroke-width="0.7"/>
<ellipse cx="91.10" cy="558.09" rx="2.6" ry="1.0" fill="#a8a8a8" opacity="0.6"/>
<line x1="97.11" y1="548.40" x2="97.11" y2="579.00" stroke="#4a4a4a" stroke-width="0.6"/>
<path d="M102.52,549.01 L103.52,549.62 L104.32,551.46 L104.92,554.52 L105.52,557.07 L105.82,559.11 L106.42,561.66 L106.92,564.72 L107.22,568.80 L107.22,572.88 L106.92,575.43 L105.92,577.27 L104.32,577.98 L102.52,578.08 L100.72,577.98 L99.12,577.27 L98.12,575.43 L97.82,572.88 L97.82,568.80 L98.12,564.72 L98.62,561.66 L99.22,559.11 L99.52,557.07 L100.12,554.52 L100.72,551.46 L101.52,549.62 L102.52,549.01 Z" fill="url(#mouseg)" stroke="#7a7a7a" stroke-width="0.3"/>
<line x1="99.32" y1="577.16" x2="98.72" y2="578.59" stroke="#8a8a8a" stroke-width="0.7"/>
<line x1="105.72" y1="577.16" x2="106.32" y2="578.59" stroke="#8a8a8a" stroke-width="0.7"/>
<ellipse cx="102.52" cy="558.09" rx="2.6" ry="1.0" fill="#a8a8a8" opacity="0.6"/>
<line x1="108.53" y1="548.40" x2="108.53" y2="579.00" stroke="#4a4a4a" stroke-width="0.6"/>
<path d="M113.93,549.01 L114.93,549.62 L115.73,551.46 L116.33,554.52 L116.93,557.07 L117.23,559.11 L117.83,561.66 L118.33,564.72 L118.63,568.80 L118.63,572.88 L118.33,575.43 L117.33,577.27 L115.73,577.98 L113.93,578.08 L112.13,577.98 L110.53,577.27 L109.53,575.43 L109.23,572.88 L109.23,568.80 L109.53,564.72 L110.03,561.66 L110.63,559.11 L110.93,557.07 L111.53,554.52 L112.13,551.46 L112.93,549.62 L113.93,549.01 Z" fill="url(#mouseg)" stroke="#7a7a7a" stroke-width="0.3"/>
<line x1="110.73" y1="577.16" x2="110.13" y2="578.59" stroke="#8a8a8a" stroke-width="0.7"/>
<line x1="117.13" y1="577.16" x2="117.73" y2="578.59" stroke="#8a8a8a" stroke-width="0.7"/>
<ellipse cx="113.93" cy="558.09" rx="2.6" ry="1.0" fill="#a8a8a8" opacity="0.6"/>
<line x1="119.94" y1="548.40" x2="119.94" y2="579.00" stroke="#4a4a4a" stroke-width="0.6"/>
<path d="M125.35,549.01 L126.35,549.62 L127.15,551.46 L127.75,554.52 L128.35,557.07 L128.65,559.11 L129.25,561.66 L129.75,564.72 L130.05,568.80 L130.05,572.88 L129.75,575.43 L128.75,577.27 L127.15,577.98 L125.35,578.08 L123.55,577.98 L121.95,577.27 L120.95,575.43 L120.65,572.88 L120.65,568.80 L120.95,564.72 L121.45,561.66 L122.05,559.11 L122.35,557.07 L122.95,554.52 L123.55,551.46 L124.35,549.62 L125.35,549.01 Z" fill="url(#mouseg)" stroke="#7a7a7a" stroke-width="0.3"/>
<line x1="122.15" y1="577.16" x2="121.55" y2="578.59" stroke="#8a8a8a" stroke-width="0.7"/>
<line x1="128.55" y1="577.16" x2="129.15" y2="578.59" stroke="#8a8a8a" stroke-width="0.7"/>
<ellipse cx="125.35" cy="558.09" rx="2.6" ry="1.0" fill="#a8a8a8" opacity="0.6"/>
<line x1="131.36" y1="548.40" x2="131.36" y2="579.00" stroke="#4a4a4a" stroke-width="0.6"/>
<path d="M136.77,549.01 L137.77,549.62 L138.57,551.46 L139.17,554.52 L139.77,557.07 L140.07,559.11 L140.67,561.66 L141.17,564.72 L141.47,568.80 L141.47,572.88 L141.17,575.43 L140.17,577.27 L138.57,577.98 L136.77,578.08 L134.97,577.98 L133.37,577.27 L132.37,575.43 L132.07,572.88 L132.07,568.80 L132.37,564.72 L132.87,561.66 L133.47,559.11 L133.77,557.07 L134.37,554.52 L134.97,551.46 L135.77,549.62 L136.77,549.01 Z" fill="url(#mouseg)" stroke="#7a7a7a" stroke-width="0.3"/>
<line x1="133.57" y1="577.16" x2="132.97" y2="578.59" stroke="#8a8a8a" stroke-width="0.7"/>
<line x1="139.97" y1="577.16" x2="140.57" y2="578.59" stroke="#8a8a8a" stroke-width="0.7"/>
<ellipse cx="136.77" cy="558.09" rx="2.6" ry="1.0" fill="#a8a8a8" opacity="0.6"/>
<line x1="142.77" y1="548.40" x2="142.77" y2="579.00" stroke="#4a4a4a" stroke-width="0.6"/>
<path d="M148.18,549.01 L149.18,549.62 L149.98,551.46 L150.58,554.52 L151.18,557.07 L151.48,559.11 L152.08,561.66 L152.58,564.72 L152.88,568.80 L152.88,572.88 L152.58,575.43 L151.58,577.27 L149.98,577.98 L148.18,578.08 L146.38,577.98 L144.78,577.27 L143.78,575.43 L143.48,572.88 L143.48,568.80 L143.78,564.72 L144.28,561.66 L144.88,559.11 L145.18,557.07 L145.78,554.52 L146.38,551.46 L147.18,549.62 L148.18,549.01 Z" fill="url(#mouseg)" stroke="#7a7a7a" stroke-width="0.3"/>
<line x1="144.98" y1="577.16" x2="144.38" y2="578.59" stroke="#8a8a8a" stroke-width="0.7"/>
<line x1="151.38" y1="577.16" x2="151.98" y2="578.59" stroke="#8a8a8a" stroke-width="0.7"/>
<ellipse cx="148.18" cy="558.09" rx="2.6" ry="1.0" fill="#a8a8a8" opacity="0.6"/>
<line x1="154.19" y1="548.40" x2="154.19" y2="579.00" stroke="#4a4a4a" stroke-width="0.6"/>
<path d="M159.60,549.01 L160.60,549.62 L161.40,551.46 L162.00,554.52 L162.60,557.07 L162.90,559.11 L163.50,561.66 L164.00,564.72 L164.30,568.80 L164.30,572.88 L164.00,575.43 L163.00,577.27 L161.40,577.98 L159.60,578.08 L157.80,577.98 L156.20,577.27 L155.20,575.43 L154.90,572.88 L154.90,568.80 L155.20,564.72 L155.70,561.66 L156.30,559.11 L156.60,557.07 L157.20,554.52 L157.80,551.46 L158.60,549.62 L159.60,549.01 Z" fill="url(#mouseg)" stroke="#7a7a7a" stroke-width="0.3"/>
<line x1="156.40" y1="577.16" x2="155.80" y2="578.59" stroke="#8a8a8a" stroke-width="0.7"/>
<line x1="162.80" y1="577.16" x2="163.40" y2="578.59" stroke="#8a8a8a" stroke-width="0.7"/>
<ellipse cx="159.60" cy="558.09" rx="2.6" ry="1.0" fill="#a8a8a8" opacity="0.6"/>
<line x1="165.61" y1="548.40" x2="165.61" y2="579.00" stroke="#4a4a4a" stroke-width="0.6"/>
<path d="M171.01,549.01 L172.01,549.62 L172.81,551.46 L173.41,554.52 L174.01,557.07 L174.31,559.11 L174.91,561.66 L175.41,564.72 L175.71,568.80 L175.71,572.88 L175.41,575.43 L174.41,577.27 L172.81,577.98 L171.01,578.08 L169.21,577.98 L167.61,577.27 L166.61,575.43 L166.31,572.88 L166.31,568.80 L166.61,564.72 L167.11,561.66 L167.71,559.11 L168.01,557.07 L168.61,554.52 L169.21,551.46 L170.01,549.62 L171.01,549.01 Z" fill="url(#mouseg)" stroke="#7a7a7a" stroke-width="0.3"/>
<line x1="167.81" y1="577.16" x2="167.21" y2="578.59" stroke="#8a8a8a" stroke-width="0.7"/>
<line x1="174.21" y1="577.16" x2="174.81" y2="578.59" stroke="#8a8a8a" stroke-width="0.7"/>
<ellipse cx="171.01" cy="558.09" rx="2.6" ry="1.0" fill="#a8a8a8" opacity="0.6"/>
<line x1="177.02" y1="548.40" x2="177.02" y2="579.00" stroke="#4a4a4a" stroke-width="0.6"/>
<path d="M182.43,549.01 L183.43,549.62 L184.23,551.46 L184.83,554.52 L185.43,557.07 L185.73,559.11 L186.33,561.66 L186.83,564.72 L187.13,568.80 L187.13,572.88 L186.83,575.43 L185.83,577.27 L184.23,577.98 L182.43,578.08 L180.63,577.98 L179.03,577.27 L178.03,575.43 L177.73,572.88 L177.73,568.80 L178.03,564.72 L178.53,561.66 L179.13,559.11 L179.43,557.07 L180.03,554.52 L180.63,551.46 L181.43,549.62 L182.43,549.01 Z" fill="url(#mouseg)" stroke="#7a7a7a" stroke-width="0.3"/>
<line x1="179.23" y1="577.16" x2="178.63" y2="578.59" stroke="#8a8a8a" stroke-width="0.7"/>
<line x1="185.63" y1="577.16" x2="186.23" y2="578.59" stroke="#8a8a8a" stroke-width="0.7"/>
<ellipse cx="182.43" cy="558.09" rx="2.6" ry="1.0" fill="#a8a8a8" opacity="0.6"/>
<line x1="188.44" y1="548.40" x2="188.44" y2="579.00" stroke="#4a4a4a" stroke-width="0.6"/>
<path d="M193.84,549.01 L194.84,549.62 L195.64,551.46 L196.24,554.52 L196.84,557.07 L197.14,559.11 L197.74,561.66 L198.24,564.72 L198.54,568.80 L198.54,572.88 L198.24,575.43 L197.24,577.27 L195.64,577.98 L193.84,578.08 L192.04,577.98 L190.44,577.27 L189.44,575.43 L189.14,572.88 L189.14,568.80 L189.44,564.72 L189.94,561.66 L190.54,559.11 L190.84,557.07 L191.44,554.52 L192.04,551.46 L192.84,549.62 L193.84,549.01 Z" fill="url(#mouseg)" stroke="#7a7a7a" stroke-width="0.3"/>
<line x1="190.64" y1="577.16" x2="190.04" y2="578.59" stroke="#8a8a8a" stroke-width="0.7"/>
<line x1="197.04" y1="577.16" x2="197.64" y2="578.59" stroke="#8a8a8a" stroke-width="0.7"/>
<ellipse cx="193.84" cy="558.09" rx="2.6" ry="1.0" fill="#a8a8a8" opacity="0.6"/>
<line x1="199.85" y1="548.40" x2="199.85" y2="579.00" stroke="#4a4a4a" stroke-width="0.6"/>
<path d="M205.26,549.01 L206.26,549.62 L207.06,551.46 L207.66,554.52 L208.26,557.07 L208.56,559.11 L209.16,561.66 L209.66,564.72 L209.96,568.80 L209.96,572.88 L209.66,575.43 L208.66,577.27 L207.06,577.98 L205.26,578.08 L203.46,577.98 L201.86,577.27 L200.86,575.43 L200.56,572.88 L200.56,568.80 L200.86,564.72 L201.36,561.66 L201.96,559.11 L202.26,557.07 L202.86,554.52 L203.46,551.46 L204.26,549.62 L205.26,549.01 Z" fill="url(#mouseg)" stroke="#7a7a7a" stroke-width="0.3"/>
<line x1="202.06" y1="577.16" x2="201.46" y2="578.59" stroke="#8a8a8a" stroke-width="0.7"/>
<line x1="208.46" y1="577.16" x2="209.06" y2="578.59" stroke="#8a8a8a" stroke-width="0.7"/>
<ellipse cx="205.26" cy="558.09" rx="2.6" ry="1.0" fill="#a8a8a8" opacity="0.6"/>
<line x1="211.27" y1="548.40" x2="211.27" y2="579.00" stroke="#4a4a4a" stroke-width="0.6"/>
<path d="M216.68,549.01 L217.68,549.62 L218.48,551.46 L219.08,554.52 L219.68,557.07 L219.98,559.11 L220.58,561.66 L221.08,564.72 L221.38,568.80 L221.38,572.88 L221.08,575.43 L220.08,577.27 L218.48,577.98 L216.68,578.08 L214.88,577.98 L213.28,577.27 L212.28,575.43 L211.98,572.88 L211.98,568.80 L212.28,564.72 L212.78,561.66 L213.38,559.11 L213.68,557.07 L214.28,554.52 L214.88,551.46 L215.68,549.62 L216.68,549.01 Z" fill="url(#mouseg)" stroke="#7a7a7a" stroke-width="0.3"/>
<line x1="213.48" y1="577.16" x2="212.88" y2="578.59" stroke="#8a8a8a" stroke-width="0.7"/>
<line x1="219.88" y1="577.16" x2="220.48" y2="578.59" stroke="#8a8a8a" stroke-width="0.7"/>
<ellipse cx="216.68" cy="558.09" rx="2.6" ry="1.0" fill="#a8a8a8" opacity="0.6"/>
<line x1="222.68" y1="548.40" x2="222.68" y2="579.00" stroke="#4a4a4a" stroke-width="0.6"/>
<path d="M228.09,549.01 L229.09,549.62 L229.89,551.46 L230.49,554.52 L231.09,557.07 L231.39,559.11 L231.99,561.66 L232.49,564.72 L232.79,568.80 L232.79,572.88 L232.49,575.43 L231.49,577.27 L229.89,577.98 L228.09,578.08 L226.29,577.98 L224.69,577.27 L223.69,575.43 L223.39,572.88 L223.39,568.80 L223.69,564.72 L224.19,561.66 L224.79,559.11 L225.09,557.07 L225.69,554.52 L226.29,551.46 L227.09,549.62 L228.09,549.01 Z" fill="url(#mouseg)" stroke="#7a7a7a" stroke-width="0.3"/>
<line x1="224.89" y1="577.16" x2="224.29" y2="578.59" stroke="#8a8a8a" stroke-width="0.7"/>
<line x1="231.29" y1="577.16" x2="231.89" y2="578.59" stroke="#8a8a8a" stroke-width="0.7"/>
<ellipse cx="228.09" cy="558.09" rx="2.6" ry="1.0" fill="#a8a8a8" opacity="0.6"/>
<line x1="73.98" y1="578.70" x2="233.80" y2="578.70" stroke="#b4b4b4" stroke-width="0.8"/>
</g>
<rect x="16.90" y="458.50" width="57.08" height="29.00" fill="#161616"/>
<line x1="28.32" y1="458.50" x2="28.32" y2="487.50" stroke="#444" stroke-width="0.5"/>
<line x1="39.73" y1="458.50" x2="39.73" y2="487.50" stroke="#444" stroke-width="0.5"/>
<line x1="51.15" y1="458.50" x2="51.15" y2="487.50" stroke="#444" stroke-width="0.5"/>
<line x1="62.56" y1="458.50" x2="62.56" y2="487.50" stroke="#444" stroke-width="0.5"/>
<ellipse cx="22.61" cy="472.00" rx="5.30" ry="12.40" fill="#2f4ad0"/>
<ellipse cx="22.91" cy="480.30" rx="5.70" ry="6.40" fill="#2f4ad0"/>
<ellipse cx="34.02" cy="472.00" rx="5.30" ry="12.40" fill="#2f4ad0"/>
<ellipse cx="34.32" cy="480.30" rx="5.70" ry="6.40" fill="#2f4ad0"/>
<ellipse cx="45.44" cy="472.00" rx="5.30" ry="12.40" fill="#2f4ad0"/>
<ellipse cx="45.74" cy="480.30" rx="5.70" ry="6.40" fill="#2f4ad0"/>
<ellipse cx="56.86" cy="472.00" rx="5.30" ry="12.40" fill="#2f4ad0"/>
<ellipse cx="57.16" cy="480.30" rx="5.70" ry="6.40" fill="#2f4ad0"/>
<ellipse cx="22.61" cy="472.00" rx="4.75" ry="11.85" fill="#2fb8d8"/>
<ellipse cx="22.91" cy="480.30" rx="5.15" ry="5.85" fill="#2fb8d8"/>
<ellipse cx="34.02" cy="472.00" rx="4.75" ry="11.85" fill="#2fb8d8"/>
<ellipse cx="34.32" cy="480.30" rx="5.15" ry="5.85" fill="#2fb8d8"/>
<ellipse cx="45.44" cy="472.00" rx="4.75" ry="11.85" fill="#2fb8d8"/>
<ellipse cx="45.74" cy="480.30" rx="5.15" ry="5.85" fill="#2fb8d8"/>
<ellipse cx="56.86" cy="472.00" rx="4.75" ry="11.85" fill="#2fb8d8"/>
<ellipse cx="57.16" cy="480.30" rx="5.15" ry="5.85" fill="#2fb8d8"/>
<ellipse cx="22.61" cy="472.00" rx="4.20" ry="11.30" fill="#e8202a"/>
<ellipse cx="22.91" cy="480.30" rx="4.60" ry="5.30" fill="#e8202a"/>
<ellipse cx="34.02" cy="472.00" rx="4.20" ry="11.30" fill="#e8202a"/>
<ellipse cx="34.32" cy="480.30" rx="4.60" ry="5.30" fill="#e8202a"/>
<ellipse cx="45.44" cy="472.00" rx="4.20" ry="11.30" fill="#e8202a"/>
<ellipse cx="45.74" cy="480.30" rx="4.60" ry="5.30" fill="#e8202a"/>
<ellipse cx="56.86" cy="472.00" rx="4.20" ry="11.30" fill="#e8202a"/>
<ellipse cx="57.16" cy="480.30" rx="4.60" ry="5.30" fill="#e8202a"/>
<ellipse cx="22.11" cy="474.00" rx="3.20" ry="0.70" fill="#f0e040"/>
<ellipse cx="36.52" cy="476.00" rx="1.40" ry="0.80" fill="#58d04a"/>
<ellipse cx="59.36" cy="477.00" rx="1.30" ry="0.80" fill="#58d04a"/>
<ellipse cx="68.27" cy="472.50" rx="4.60" ry="12.50" fill="#2f4ad0"/>
<ellipse cx="68.27" cy="472.50" rx="3.80" ry="11.70" fill="#2fb8d8"/>
<ellipse cx="68.27" cy="472.50" rx="3.00" ry="10.90" fill="#58d04a"/>
<ellipse cx="68.77" cy="466.00" rx="2.80" ry="3.50" fill="#2fb8d8"/>
<ellipse cx="68.77" cy="466.00" rx="2.20" ry="2.90" fill="#e8202a"/>
<ellipse cx="68.77" cy="474.00" rx="2.20" ry="1.20" fill="#c8d8ff"/>
<ellipse cx="68.77" cy="480.00" rx="3.20" ry="3.00" fill="#f0e040"/>
<ellipse cx="68.77" cy="480.00" rx="2.70" ry="2.50" fill="#e8202a"/>
<rect x="16.90" y="488.20" width="57.08" height="30.00" fill="#2f4ad0"/>
<rect x="17.70" y="488.80" width="55.48" height="28.80" fill="#2fb8d8"/>
<rect x="18.50" y="489.40" width="53.88" height="27.60" fill="#58d04a"/>
<rect x="19.10" y="489.70" width="52.68" height="26.60" fill="#e8202a"/>
<path d="M25.72,489.40 L30.92,489.40 L28.82,499.20 L27.82,499.20 Z" fill="#2fb8d8"/>
<path d="M26.72,489.70 L29.92,489.70 L28.62,497.20 L28.02,497.20 Z" fill="#58d04a"/>
<path d="M37.13,489.40 L42.33,489.40 L40.23,499.20 L39.23,499.20 Z" fill="#2fb8d8"/>
<path d="M38.13,489.70 L41.33,489.70 L40.03,497.20 L39.43,497.20 Z" fill="#58d04a"/>
<path d="M48.55,489.40 L53.75,489.40 L51.65,499.20 L50.65,499.20 Z" fill="#2fb8d8"/>
<path d="M49.55,489.70 L52.75,489.70 L51.45,497.20 L50.85,497.20 Z" fill="#58d04a"/>
<path d="M59.96,489.40 L65.16,489.40 L63.06,503.20 L62.06,503.20 Z" fill="#2fb8d8"/>
<path d="M60.96,489.70 L64.16,489.70 L62.86,501.20 L62.26,501.20 Z" fill="#58d04a"/>
<path d="M70.98,492.20 L71.78,492.20 L71.78,508.20 Z" fill="#58d04a"/>
<ellipse cx="113.93" cy="471.70" rx="3.50" ry="1.40" fill="#2f4ad0"/>
<ellipse cx="136.77" cy="473.50" rx="4.10" ry="1.90" fill="#2f4ad0"/>
<ellipse cx="79.69" cy="501.20" rx="2.50" ry="1.10" fill="#2f4ad0"/>
<ellipse cx="101.52" cy="499.20" rx="2.00" ry="1.00" fill="#2f4ad0"/>
<ellipse cx="104.52" cy="504.20" rx="1.30" ry="1.00" fill="#2f4ad0"/>
<ellipse cx="113.93" cy="501.20" rx="4.00" ry="2.80" fill="#2f4ad0"/>
<ellipse cx="113.93" cy="501.20" rx="3.10" ry="1.90" fill="#2fb8d8"/>
<ellipse cx="113.93" cy="501.20" rx="2.20" ry="1.00" fill="#2f4ad0"/>
<ellipse cx="136.77" cy="501.20" rx="4.00" ry="6.50" fill="#2f4ad0"/>
<ellipse cx="136.77" cy="501.20" rx="3.10" ry="5.60" fill="#2fb8d8"/>
<ellipse cx="136.77" cy="501.20" rx="2.20" ry="4.70" fill="#58d04a"/>
<ellipse cx="136.77" cy="501.20" rx="1.30" ry="3.80" fill="#e8202a"/>
<ellipse cx="79.69" cy="532.70" rx="3.80" ry="3.40" fill="#2f4ad0"/>
<ellipse cx="79.69" cy="532.70" rx="3.10" ry="2.70" fill="#2fb8d8"/>
<ellipse cx="79.69" cy="532.70" rx="2.40" ry="2.00" fill="#e8202a"/>
<ellipse cx="77.09" cy="541.70" rx="1.70" ry="1.70" fill="#2f4ad0"/>
<ellipse cx="77.09" cy="541.70" rx="1.00" ry="1.00" fill="#2fb8d8"/>
<ellipse cx="82.29" cy="541.70" rx="1.70" ry="1.70" fill="#2f4ad0"/>
<ellipse cx="82.29" cy="541.70" rx="1.00" ry="1.00" fill="#2fb8d8"/>
<ellipse cx="91.10" cy="532.70" rx="4.20" ry="3.20" fill="#2f4ad0"/>
<ellipse cx="91.10" cy="532.70" rx="3.50" ry="2.50" fill="#2fb8d8"/>
<ellipse cx="91.10" cy="532.70" rx="2.80" ry="1.80" fill="#58d04a"/>
<ellipse cx="91.10" cy="532.70" rx="2.10" ry="1.10" fill="#2f4ad0"/>
<ellipse cx="88.50" cy="541.70" rx="1.70" ry="1.70" fill="#2f4ad0"/>
<ellipse cx="88.50" cy="541.70" rx="1.00" ry="1.00" fill="#2fb8d8"/>
<ellipse cx="93.70" cy="541.70" rx="1.70" ry="1.70" fill="#2f4ad0"/>
<ellipse cx="93.70" cy="541.70" rx="1.00" ry="1.00" fill="#2fb8d8"/>
<ellipse cx="113.93" cy="532.70" rx="4.60" ry="4.80" fill="#2f4ad0"/>
<ellipse cx="113.93" cy="532.70" rx="3.90" ry="4.10" fill="#2fb8d8"/>
<ellipse cx="113.93" cy="532.70" rx="3.20" ry="3.40" fill="#e8202a"/>
<ellipse cx="111.33" cy="541.70" rx="1.70" ry="1.70" fill="#2f4ad0"/>
<ellipse cx="111.33" cy="541.70" rx="1.00" ry="1.00" fill="#2fb8d8"/>
<ellipse cx="116.53" cy="541.70" rx="1.70" ry="1.70" fill="#2f4ad0"/>
<ellipse cx="116.53" cy="541.70" rx="1.00" ry="1.00" fill="#2fb8d8"/>
<ellipse cx="125.35" cy="532.70" rx="3.80" ry="3.00" fill="#2f4ad0"/>
<ellipse cx="125.35" cy="532.70" rx="3.10" ry="2.30" fill="#2fb8d8"/>
<ellipse cx="125.35" cy="532.70" rx="2.40" ry="1.60" fill="#58d04a"/>
<ellipse cx="125.35" cy="532.70" rx="1.70" ry="0.90" fill="#e8202a"/>
<ellipse cx="122.75" cy="541.70" rx="1.70" ry="1.70" fill="#2f4ad0"/>
<ellipse cx="122.75" cy="541.70" rx="1.00" ry="1.00" fill="#2fb8d8"/>
<ellipse cx="127.95" cy="541.70" rx="1.70" ry="1.70" fill="#2f4ad0"/>
<ellipse cx="127.95" cy="541.70" rx="1.00" ry="1.00" fill="#2fb8d8"/>
<ellipse cx="136.77" cy="532.70" rx="3.80" ry="2.40" fill="#2f4ad0"/>
<ellipse cx="136.77" cy="532.70" rx="3.10" ry="1.70" fill="#2f4ad0"/>
<ellipse cx="134.17" cy="541.70" rx="1.70" ry="1.70" fill="#2f4ad0"/>
<ellipse cx="134.17" cy="541.70" rx="1.00" ry="1.00" fill="#2fb8d8"/>
<ellipse cx="139.37" cy="541.70" rx="1.70" ry="1.70" fill="#2f4ad0"/>
<ellipse cx="139.37" cy="541.70" rx="1.00" ry="1.00" fill="#2fb8d8"/>
<ellipse cx="148.18" cy="532.70" rx="4.00" ry="4.60" fill="#2f4ad0"/>
<ellipse cx="148.18" cy="532.70" rx="3.30" ry="3.90" fill="#2fb8d8"/>
<ellipse cx="148.18" cy="532.70" rx="2.60" ry="3.20" fill="#58d04a"/>
<ellipse cx="148.18" cy="532.70" rx="1.90" ry="2.50" fill="#2f4ad0"/>
<ellipse cx="145.58" cy="541.70" rx="1.70" ry="1.70" fill="#2f4ad0"/>
<ellipse cx="145.58" cy="541.70" rx="1.00" ry="1.00" fill="#2fb8d8"/>
<ellipse cx="150.78" cy="541.70" rx="1.70" ry="1.70" fill="#2f4ad0"/>
<ellipse cx="150.78" cy="541.70" rx="1.00" ry="1.00" fill="#2fb8d8"/>
<ellipse cx="148.18" cy="527.20" rx="0.90" ry="0.90" fill="#e8202a"/>
<ellipse cx="216.68" cy="530.70" rx="2.20" ry="2.50" fill="#2f4ad0"/>
<ellipse cx="216.68" cy="530.70" rx="1.30" ry="1.60" fill="#2fb8d8"/>
<ellipse cx="229.09" cy="543.20" rx="1.50" ry="1.50" fill="#2f4ad0"/>
<ellipse cx="229.09" cy="543.20" rx="0.90" ry="0.90" fill="#e8202a"/>
<ellipse cx="79.69" cy="563.40" rx="4.70" ry="13.50" fill="#2f4ad0"/>
<ellipse cx="79.69" cy="560.90" rx="4.50" ry="5.50" fill="#2fb8d8"/>
<ellipse cx="79.69" cy="571.90" rx="4.00" ry="3.50" fill="#2fb8d8"/>
<ellipse cx="79.69" cy="560.90" rx="3.90" ry="4.90" fill="#58d04a"/>
<ellipse cx="79.69" cy="571.90" rx="3.40" ry="2.90" fill="#58d04a"/>
<ellipse cx="79.69" cy="560.90" rx="3.30" ry="4.30" fill="#e8202a"/>
<ellipse cx="79.69" cy="571.90" rx="2.80" ry="2.30" fill="#e8202a"/>
<ellipse cx="91.10" cy="563.40" rx="4.70" ry="12.50" fill="#2f4ad0"/>
<ellipse cx="91.10" cy="561.90" rx="4.60" ry="5.00" fill="#2fb8d8"/>
<ellipse cx="90.10" cy="572.40" rx="3.00" ry="3.00" fill="#2fb8d8"/>
<ellipse cx="91.10" cy="561.90" rx="4.00" ry="4.40" fill="#58d04a"/>
<ellipse cx="90.10" cy="572.40" rx="2.40" ry="2.40" fill="#58d04a"/>
<ellipse cx="91.10" cy="561.90" rx="3.40" ry="3.80" fill="#e8202a"/>
<ellipse cx="90.10" cy="572.40" rx="1.80" ry="1.80" fill="#e8202a"/>
<ellipse cx="102.52" cy="563.40" rx="5.60" ry="14.20" fill="#2fb8d8"/>
<ellipse cx="102.52" cy="563.40" rx="5.00" ry="13.60" fill="#e8202a"/>
<ellipse cx="113.93" cy="563.40" rx="5.00" ry="12.50" fill="#2f4ad0"/>
<ellipse cx="113.93" cy="563.40" rx="4.40" ry="11.90" fill="#2fb8d8"/>
<ellipse cx="113.93" cy="563.40" rx="3.80" ry="11.30" fill="#e8202a"/>
<ellipse cx="114.93" cy="555.40" rx="1.50" ry="1.50" fill="#f0e040"/>
<ellipse cx="125.35" cy="563.40" rx="3.80" ry="3.00" fill="#2f4ad0"/>
<ellipse cx="125.35" cy="563.40" rx="3.10" ry="2.30" fill="#2fb8d8"/>
<ellipse cx="125.35" cy="563.40" rx="2.40" ry="1.60" fill="#e8202a"/>
<ellipse cx="125.35" cy="572.40" rx="2.40" ry="1.80" fill="#2f4ad0"/>
<ellipse cx="125.35" cy="572.40" rx="1.70" ry="1.10" fill="#2fb8d8"/>
<ellipse cx="136.77" cy="563.40" rx="5.00" ry="14.00" fill="#2f4ad0"/>
<ellipse cx="136.77" cy="563.40" rx="4.40" ry="13.40" fill="#2fb8d8"/>
<ellipse cx="136.77" cy="563.40" rx="3.80" ry="12.80" fill="#e8202a"/>
<ellipse cx="136.77" cy="567.40" rx="1.80" ry="1.20" fill="#2fb8d8"/>
<ellipse cx="148.18" cy="563.40" rx="4.80" ry="13.00" fill="#2f4ad0"/>
<ellipse cx="148.18" cy="563.40" rx="4.20" ry="12.40" fill="#2fb8d8"/>
<ellipse cx="148.18" cy="563.40" rx="3.60" ry="11.80" fill="#58d04a"/>
<ellipse cx="148.18" cy="563.40" rx="3.00" ry="11.20" fill="#e8202a"/>
<ellipse cx="149.18" cy="560.40" rx="1.50" ry="1.20" fill="#f0e040"/>
<ellipse cx="147.18" cy="568.40" rx="1.20" ry="1.00" fill="#ffffff"/>
<ellipse cx="216.68" cy="563.40" rx="4.60" ry="12.00" fill="#2f4ad0"/>
<ellipse cx="216.68" cy="563.40" rx="3.80" ry="11.20" fill="#2fb8d8"/>
<ellipse cx="216.68" cy="563.40" rx="3.00" ry="10.40" fill="#58d04a"/>
<ellipse cx="216.68" cy="563.40" rx="2.20" ry="9.60" fill="#e8202a"/>
<ellipse cx="216.68" cy="566.40" rx="1.60" ry="2.20" fill="#58d04a"/>
<ellipse cx="216.68" cy="566.90" rx="0.90" ry="1.40" fill="#e8e8e8"/>
<ellipse cx="226.59" cy="560.40" rx="1.20" ry="4.00" fill="#2f4ad0"/>
<ellipse cx="228.59" cy="573.40" rx="2.40" ry="3.00" fill="#2f4ad0"/>
<ellipse cx="228.59" cy="573.40" rx="1.60" ry="2.20" fill="#e8202a"/>
<ellipse cx="19.61" cy="451.80" rx="1.00" ry="1.00" fill="#3040d0"/>
<ellipse cx="37.02" cy="451.80" rx="1.00" ry="1.00" fill="#3040d0"/>
<ellipse cx="42.44" cy="451.80" rx="1.00" ry="1.00" fill="#3040d0"/>
<ellipse cx="59.86" cy="451.80" rx="1.00" ry="1.00" fill="#3040d0"/>
<ellipse cx="65.27" cy="451.80" rx="1.00" ry="1.00" fill="#3040d0"/>
<ellipse cx="110.93" cy="451.80" rx="1.00" ry="1.00" fill="#3040d0"/>
<ellipse cx="133.77" cy="451.80" rx="1.00" ry="1.00" fill="#3040d0"/>
<ellipse cx="174.01" cy="451.80" rx="1.00" ry="1.00" fill="#3040d0"/>
<ellipse cx="196.84" cy="451.80" rx="1.00" ry="1.00" fill="#3040d0"/>
<ellipse cx="219.68" cy="451.80" rx="1.00" ry="1.00" fill="#3040d0"/>
<text x="254.00" y="423.50" font-size="12" font-weight="bold" fill="#111" stroke="#111" stroke-width="0.45">l</text>
<line x1="289.50" y1="437.10" x2="289.50" y2="519.30" stroke="#8a8a8a" stroke-width="0.8"/>
<line x1="286.70" y1="518.80" x2="289.50" y2="518.80" stroke="#8a8a8a" stroke-width="0.8"/>
<text font-size="6.52" text-anchor="end" fill="#222" transform="translate(284.60 521.15) scale(0.92 1)">10<tspan baseline-shift="2.61" font-size="4.30">3</tspan></text>
<line x1="286.70" y1="502.64" x2="289.50" y2="502.64" stroke="#8a8a8a" stroke-width="0.8"/>
<text font-size="6.52" text-anchor="end" fill="#222" transform="translate(284.60 504.99) scale(0.92 1)">10<tspan baseline-shift="2.61" font-size="4.30">4</tspan></text>
<line x1="286.70" y1="486.48" x2="289.50" y2="486.48" stroke="#8a8a8a" stroke-width="0.8"/>
<text font-size="6.52" text-anchor="end" fill="#222" transform="translate(284.60 488.83) scale(0.92 1)">10<tspan baseline-shift="2.61" font-size="4.30">5</tspan></text>
<line x1="286.70" y1="470.32" x2="289.50" y2="470.32" stroke="#8a8a8a" stroke-width="0.8"/>
<text font-size="6.52" text-anchor="end" fill="#222" transform="translate(284.60 472.67) scale(0.92 1)">10<tspan baseline-shift="2.61" font-size="4.30">6</tspan></text>
<line x1="286.70" y1="454.16" x2="289.50" y2="454.16" stroke="#8a8a8a" stroke-width="0.8"/>
<text font-size="6.52" text-anchor="end" fill="#222" transform="translate(284.60 456.51) scale(0.92 1)">10<tspan baseline-shift="2.61" font-size="4.30">7</tspan></text>
<line x1="286.70" y1="438.00" x2="289.50" y2="438.00" stroke="#8a8a8a" stroke-width="0.8"/>
<text font-size="6.52" text-anchor="end" fill="#222" transform="translate(284.60 440.35) scale(0.92 1)">10<tspan baseline-shift="2.61" font-size="4.30">8</tspan></text>
<line x1="289.50" y1="519.30" x2="417.90" y2="519.30" stroke="#8a8a8a" stroke-width="0.8"/>
<line x1="301.00" y1="519.30" x2="301.00" y2="521.80" stroke="#8a8a8a" stroke-width="0.8"/>
<line x1="322.30" y1="519.30" x2="322.30" y2="521.80" stroke="#8a8a8a" stroke-width="0.8"/>
<line x1="343.50" y1="519.30" x2="343.50" y2="521.80" stroke="#8a8a8a" stroke-width="0.8"/>
<line x1="365.00" y1="519.30" x2="365.00" y2="521.80" stroke="#8a8a8a" stroke-width="0.8"/>
<line x1="386.20" y1="519.30" x2="386.20" y2="521.80" stroke="#8a8a8a" stroke-width="0.8"/>
<line x1="407.30" y1="519.30" x2="407.30" y2="521.80" stroke="#8a8a8a" stroke-width="0.8"/>
<text font-size="6.52" text-anchor="end" fill="#222" transform="translate(303.20 525.50) rotate(-45) translate(0 2.35) scale(0.92 1)">D3</text>
<text font-size="6.52" text-anchor="end" fill="#222" transform="translate(324.50 525.50) rotate(-45) translate(0 2.35) scale(0.92 1)">D10</text>
<text font-size="6.52" text-anchor="end" fill="#222" transform="translate(345.70 525.50) rotate(-45) translate(0 2.35) scale(0.92 1)">D17</text>
<text font-size="6.52" text-anchor="end" fill="#222" transform="translate(367.20 525.50) rotate(-45) translate(0 2.35) scale(0.92 1)">D24</text>
<text font-size="6.52" text-anchor="end" fill="#222" transform="translate(388.40 525.50) rotate(-45) translate(0 2.35) scale(0.92 1)">D31</text>
<text font-size="6.52" text-anchor="end" fill="#222" transform="translate(409.50 525.50) rotate(-45) translate(0 2.35) scale(0.92 1)">D38</text>
<text font-size="8.21" text-anchor="middle" fill="#222" transform="translate(354.30 546.05) scale(0.92 1)">Days after Nalm-6 infusion</text>
<text font-size="8.15" text-anchor="middle" fill="#222" transform="translate(258.20 478.40) rotate(-90) translate(0 2.93) scale(0.92 1)">Radiance (photons per</text>
<text font-size="8.15" text-anchor="middle" fill="#222" transform="translate(267.40 479.40) rotate(-90) translate(0 2.93) scale(0.92 1)">s per cm<tspan baseline-shift="3.26" font-size="5.38">2</tspan> per sr)</text>
<polyline points="301.00,505.90 322.30,511.60 343.50,514.00 365.00,512.60 386.20,505.00 407.30,501.70" fill="none" stroke="#4aa0dc" stroke-width="0.8"/>
<polyline points="301.00,505.90 322.30,512.20 343.50,515.00 365.00,494.50 386.20,468.90 407.30,449.00" fill="none" stroke="#4aa0dc" stroke-width="0.8"/>
<polyline points="301.00,505.90 322.30,512.80 343.50,502.10 365.00,513.00 386.20,470.00 407.30,476.50" fill="none" stroke="#4aa0dc" stroke-width="0.8"/>
<polyline points="301.00,505.90 322.30,513.30 343.50,515.50 365.00,514.50 386.20,512.00 407.30,512.60" fill="none" stroke="#4aa0dc" stroke-width="0.8"/>
<polyline points="301.00,505.90 322.30,513.50 343.50,516.40 365.00,515.50 386.20,512.50 407.30,513.50" fill="none" stroke="#4aa0dc" stroke-width="0.8"/>
<polyline points="301.00,505.90 322.30,512.00 343.50,515.80 365.00,516.40 386.20,518.30 407.30,517.30" fill="none" stroke="#4aa0dc" stroke-width="0.8"/>
<polyline points="301.00,505.90 322.30,511.80 343.50,514.80 365.00,513.80 386.20,512.20 407.30,513.00" fill="none" stroke="#4aa0dc" stroke-width="0.8"/>
<circle cx="301.00" cy="505.90" r="1.95" fill="#3a8dd0"/>
<circle cx="322.30" cy="511.60" r="1.95" fill="#3a8dd0"/>
<circle cx="343.50" cy="514.00" r="1.95" fill="#3a8dd0"/>
<circle cx="365.00" cy="512.60" r="1.95" fill="#3a8dd0"/>
<circle cx="386.20" cy="505.00" r="1.95" fill="#3a8dd0"/>
<circle cx="407.30" cy="501.70" r="1.95" fill="#3a8dd0"/>
<circle cx="301.00" cy="505.90" r="1.95" fill="#3a8dd0"/>
<circle cx="322.30" cy="512.20" r="1.95" fill="#3a8dd0"/>
<circle cx="343.50" cy="515.00" r="1.95" fill="#3a8dd0"/>
<circle cx="365.00" cy="494.50" r="1.95" fill="#3a8dd0"/>
<circle cx="386.20" cy="468.90" r="1.95" fill="#3a8dd0"/>
<circle cx="407.30" cy="449.00" r="1.95" fill="#3a8dd0"/>
<circle cx="301.00" cy="505.90" r="1.95" fill="#3a8dd0"/>
<circle cx="322.30" cy="512.80" r="1.95" fill="#3a8dd0"/>
<circle cx="343.50" cy="502.10" r="1.95" fill="#3a8dd0"/>
<circle cx="365.00" cy="513.00" r="1.95" fill="#3a8dd0"/>
<circle cx="386.20" cy="470.00" r="1.95" fill="#3a8dd0"/>
<circle cx="407.30" cy="476.50" r="1.95" fill="#3a8dd0"/>
<circle cx="301.00" cy="505.90" r="1.95" fill="#3a8dd0"/>
<circle cx="322.30" cy="513.30" r="1.95" fill="#3a8dd0"/>
<circle cx="343.50" cy="515.50" r="1.95" fill="#3a8dd0"/>
<circle cx="365.00" cy="514.50" r="1.95" fill="#3a8dd0"/>
<circle cx="386.20" cy="512.00" r="1.95" fill="#3a8dd0"/>
<circle cx="407.30" cy="512.60" r="1.95" fill="#3a8dd0"/>
<circle cx="301.00" cy="505.90" r="1.95" fill="#3a8dd0"/>
<circle cx="322.30" cy="513.50" r="1.95" fill="#3a8dd0"/>
<circle cx="343.50" cy="516.40" r="1.95" fill="#3a8dd0"/>
<circle cx="365.00" cy="515.50" r="1.95" fill="#3a8dd0"/>
<circle cx="386.20" cy="512.50" r="1.95" fill="#3a8dd0"/>
<circle cx="407.30" cy="513.50" r="1.95" fill="#3a8dd0"/>
<circle cx="301.00" cy="505.90" r="1.95" fill="#3a8dd0"/>
<circle cx="322.30" cy="512.00" r="1.95" fill="#3a8dd0"/>
<circle cx="343.50" cy="515.80" r="1.95" fill="#3a8dd0"/>
<circle cx="365.00" cy="516.40" r="1.95" fill="#3a8dd0"/>
<circle cx="386.20" cy="518.30" r="1.95" fill="#3a8dd0"/>
<circle cx="407.30" cy="517.30" r="1.95" fill="#3a8dd0"/>
<circle cx="301.00" cy="505.90" r="1.95" fill="#3a8dd0"/>
<circle cx="322.30" cy="511.80" r="1.95" fill="#3a8dd0"/>
<circle cx="343.50" cy="514.80" r="1.95" fill="#3a8dd0"/>
<circle cx="365.00" cy="513.80" r="1.95" fill="#3a8dd0"/>
<circle cx="386.20" cy="512.20" r="1.95" fill="#3a8dd0"/>
<circle cx="407.30" cy="513.00" r="1.95" fill="#3a8dd0"/>
<polyline points="301.00,505.90 322.30,496.40 343.50,485.00 365.00,476.50 386.20,448.60 407.30,444.80" fill="none" stroke="#a15fb0" stroke-width="0.8"/>
<polyline points="301.00,505.90 322.30,498.70 343.50,491.70 365.00,490.70 386.20,460.40 407.30,458.50" fill="none" stroke="#a15fb0" stroke-width="0.8"/>
<polyline points="301.00,505.90 322.30,505.90 343.50,499.30 365.00,485.00 386.20,463.20 407.30,460.40" fill="none" stroke="#a15fb0" stroke-width="0.8"/>
<polyline points="301.00,505.90 322.30,507.80 343.50,501.20 365.00,497.40 386.20,465.10 407.30,454.70" fill="none" stroke="#a15fb0" stroke-width="0.8"/>
<polyline points="301.00,505.90 322.30,509.70 343.50,503.10 365.00,486.90 386.20,467.00 407.30,462.60" fill="none" stroke="#a15fb0" stroke-width="0.8"/>
<polyline points="301.00,505.90 322.30,510.70 343.50,505.00 365.00,504.40 386.20,473.70 407.30,462.00" fill="none" stroke="#a15fb0" stroke-width="0.8"/>
<polyline points="301.00,505.90 322.30,511.60 343.50,507.80 365.00,493.60 386.20,484.70 407.30,477.10" fill="none" stroke="#a15fb0" stroke-width="0.8"/>
<circle cx="301.00" cy="505.90" r="1.95" fill="#8e4d9e"/>
<circle cx="322.30" cy="496.40" r="1.95" fill="#8e4d9e"/>
<circle cx="343.50" cy="485.00" r="1.95" fill="#8e4d9e"/>
<circle cx="365.00" cy="476.50" r="1.95" fill="#8e4d9e"/>
<circle cx="386.20" cy="448.60" r="1.95" fill="#8e4d9e"/>
<circle cx="407.30" cy="444.80" r="1.95" fill="#8e4d9e"/>
<circle cx="301.00" cy="505.90" r="1.95" fill="#8e4d9e"/>
<circle cx="322.30" cy="498.70" r="1.95" fill="#8e4d9e"/>
<circle cx="343.50" cy="491.70" r="1.95" fill="#8e4d9e"/>
<circle cx="365.00" cy="490.70" r="1.95" fill="#8e4d9e"/>
<circle cx="386.20" cy="460.40" r="1.95" fill="#8e4d9e"/>
<circle cx="407.30" cy="458.50" r="1.95" fill="#8e4d9e"/>
<circle cx="301.00" cy="505.90" r="1.95" fill="#8e4d9e"/>
<circle cx="322.30" cy="505.90" r="1.95" fill="#8e4d9e"/>
<circle cx="343.50" cy="499.30" r="1.95" fill="#8e4d9e"/>
<circle cx="365.00" cy="485.00" r="1.95" fill="#8e4d9e"/>
<circle cx="386.20" cy="463.20" r="1.95" fill="#8e4d9e"/>
<circle cx="407.30" cy="460.40" r="1.95" fill="#8e4d9e"/>
<circle cx="301.00" cy="505.90" r="1.95" fill="#8e4d9e"/>
<circle cx="322.30" cy="507.80" r="1.95" fill="#8e4d9e"/>
<circle cx="343.50" cy="501.20" r="1.95" fill="#8e4d9e"/>
<circle cx="365.00" cy="497.40" r="1.95" fill="#8e4d9e"/>
<circle cx="386.20" cy="465.10" r="1.95" fill="#8e4d9e"/>
<circle cx="407.30" cy="454.70" r="1.95" fill="#8e4d9e"/>
<circle cx="301.00" cy="505.90" r="1.95" fill="#8e4d9e"/>
<circle cx="322.30" cy="509.70" r="1.95" fill="#8e4d9e"/>
<circle cx="343.50" cy="503.10" r="1.95" fill="#8e4d9e"/>
<circle cx="365.00" cy="486.90" r="1.95" fill="#8e4d9e"/>
<circle cx="386.20" cy="467.00" r="1.95" fill="#8e4d9e"/>
<circle cx="407.30" cy="462.60" r="1.95" fill="#8e4d9e"/>
<circle cx="301.00" cy="505.90" r="1.95" fill="#8e4d9e"/>
<circle cx="322.30" cy="510.70" r="1.95" fill="#8e4d9e"/>
<circle cx="343.50" cy="505.00" r="1.95" fill="#8e4d9e"/>
<circle cx="365.00" cy="504.40" r="1.95" fill="#8e4d9e"/>
<circle cx="386.20" cy="473.70" r="1.95" fill="#8e4d9e"/>
<circle cx="407.30" cy="462.00" r="1.95" fill="#8e4d9e"/>
<circle cx="301.00" cy="505.90" r="1.95" fill="#8e4d9e"/>
<circle cx="322.30" cy="511.60" r="1.95" fill="#8e4d9e"/>
<circle cx="343.50" cy="507.80" r="1.95" fill="#8e4d9e"/>
<circle cx="365.00" cy="493.60" r="1.95" fill="#8e4d9e"/>
<circle cx="386.20" cy="484.70" r="1.95" fill="#8e4d9e"/>
<circle cx="407.30" cy="477.10" r="1.95" fill="#8e4d9e"/>
<polyline points="301.00,497.00 322.30,454.00 343.50,443.50" fill="none" stroke="#1a1a1a" stroke-width="0.7"/>
<polyline points="301.00,499.30 322.30,455.80 343.50,445.30" fill="none" stroke="#1a1a1a" stroke-width="0.7"/>
<polyline points="301.00,501.80 322.30,457.60 343.50,447.00" fill="none" stroke="#1a1a1a" stroke-width="0.7"/>
<polyline points="301.00,504.30 322.30,459.40 343.50,448.80" fill="none" stroke="#1a1a1a" stroke-width="0.7"/>
<polyline points="301.00,506.50 322.30,461.40 343.50,450.50" fill="none" stroke="#1a1a1a" stroke-width="0.7"/>
<polyline points="301.00,508.80 322.30,472.90 343.50,451.80" fill="none" stroke="#1a1a1a" stroke-width="0.7"/>
<circle cx="301.00" cy="497.00" r="1.9" fill="#111"/>
<circle cx="322.30" cy="454.00" r="1.9" fill="#111"/>
<circle cx="343.50" cy="443.50" r="1.9" fill="#111"/>
<circle cx="301.00" cy="499.30" r="1.9" fill="#111"/>
<circle cx="322.30" cy="455.80" r="1.9" fill="#111"/>
<circle cx="343.50" cy="445.30" r="1.9" fill="#111"/>
<circle cx="301.00" cy="501.80" r="1.9" fill="#111"/>
<circle cx="322.30" cy="457.60" r="1.9" fill="#111"/>
<circle cx="343.50" cy="447.00" r="1.9" fill="#111"/>
<circle cx="301.00" cy="504.30" r="1.9" fill="#111"/>
<circle cx="322.30" cy="459.40" r="1.9" fill="#111"/>
<circle cx="343.50" cy="448.80" r="1.9" fill="#111"/>
<circle cx="301.00" cy="506.50" r="1.9" fill="#111"/>
<circle cx="322.30" cy="461.40" r="1.9" fill="#111"/>
<circle cx="343.50" cy="450.50" r="1.9" fill="#111"/>
<circle cx="301.00" cy="508.80" r="1.9" fill="#111"/>
<circle cx="322.30" cy="472.90" r="1.9" fill="#111"/>
<circle cx="343.50" cy="451.80" r="1.9" fill="#111"/>
<line x1="423.60" y1="442.70" x2="437.20" y2="442.70" stroke="#222" stroke-width="0.8"/>
<circle cx="430.60" cy="442.70" r="1.9" fill="#111"/>
<text font-size="6.09" fill="#222" transform="translate(439.60 444.89) scale(0.92 1)">PBS</text>
<line x1="423.60" y1="455.40" x2="437.20" y2="455.40" stroke="#a15fb0" stroke-width="0.8"/>
<circle cx="430.60" cy="455.40" r="1.9" fill="#8e4d9e"/>
<text font-size="6.09" fill="#222" transform="translate(439.60 457.59) scale(0.92 1)">CD19-BBz + CD22-BBz CARs</text>
<line x1="423.60" y1="467.50" x2="437.20" y2="467.50" stroke="#4aa0dc" stroke-width="0.8"/>
<circle cx="430.60" cy="467.50" r="1.9" fill="#3a8dd0"/>
<text font-size="6.09" fill="#222" transform="translate(439.60 469.69) scale(0.92 1)">CD19/CD22 Bi-ChTCR</text>
<text x="254.00" y="558.30" font-size="12" font-weight="bold" fill="#111" stroke="#111" stroke-width="0.45">m</text>
<line x1="288.60" y1="559.40" x2="288.60" y2="638.20" stroke="#8a8a8a" stroke-width="0.8"/>
<line x1="285.80" y1="638.20" x2="288.60" y2="638.20" stroke="#8a8a8a" stroke-width="0.8"/>
<text font-size="6.85" text-anchor="end" fill="#222" transform="translate(284.10 640.67) scale(0.92 1)">0</text>
<line x1="285.80" y1="620.23" x2="288.60" y2="620.23" stroke="#8a8a8a" stroke-width="0.8"/>
<text font-size="6.85" text-anchor="end" fill="#222" transform="translate(284.10 622.69) scale(0.92 1)">25</text>
<line x1="285.80" y1="602.25" x2="288.60" y2="602.25" stroke="#8a8a8a" stroke-width="0.8"/>
<text font-size="6.85" text-anchor="end" fill="#222" transform="translate(284.10 604.72) scale(0.92 1)">50</text>
<line x1="285.80" y1="584.27" x2="288.60" y2="584.27" stroke="#8a8a8a" stroke-width="0.8"/>
<text font-size="6.85" text-anchor="end" fill="#222" transform="translate(284.10 586.74) scale(0.92 1)">75</text>
<line x1="285.80" y1="566.30" x2="288.60" y2="566.30" stroke="#8a8a8a" stroke-width="0.8"/>
<text font-size="6.85" text-anchor="end" fill="#222" transform="translate(284.10 568.77) scale(0.92 1)">100</text>
<line x1="288.60" y1="638.20" x2="416.50" y2="638.20" stroke="#8a8a8a" stroke-width="0.8"/>
<line x1="288.60" y1="638.20" x2="288.60" y2="640.70" stroke="#8a8a8a" stroke-width="0.8"/>
<text font-size="6.85" text-anchor="middle" fill="#222" transform="translate(288.60 650.67) scale(0.92 1)">0</text>
<line x1="306.80" y1="638.20" x2="306.80" y2="640.70" stroke="#8a8a8a" stroke-width="0.8"/>
<text font-size="6.85" text-anchor="middle" fill="#222" transform="translate(306.80 650.67) scale(0.92 1)">10</text>
<line x1="325.00" y1="638.20" x2="325.00" y2="640.70" stroke="#8a8a8a" stroke-width="0.8"/>
<text font-size="6.85" text-anchor="middle" fill="#222" transform="translate(325.00 650.67) scale(0.92 1)">20</text>
<line x1="343.20" y1="638.20" x2="343.20" y2="640.70" stroke="#8a8a8a" stroke-width="0.8"/>
<text font-size="6.85" text-anchor="middle" fill="#222" transform="translate(343.20 650.67) scale(0.92 1)">30</text>
<line x1="361.40" y1="638.20" x2="361.40" y2="640.70" stroke="#8a8a8a" stroke-width="0.8"/>
<text font-size="6.85" text-anchor="middle" fill="#222" transform="translate(361.40 650.67) scale(0.92 1)">40</text>
<line x1="379.60" y1="638.20" x2="379.60" y2="640.70" stroke="#8a8a8a" stroke-width="0.8"/>
<text font-size="6.85" text-anchor="middle" fill="#222" transform="translate(379.60 650.67) scale(0.92 1)">50</text>
<line x1="397.80" y1="638.20" x2="397.80" y2="640.70" stroke="#8a8a8a" stroke-width="0.8"/>
<text font-size="6.85" text-anchor="middle" fill="#222" transform="translate(397.80 650.67) scale(0.92 1)">60</text>
<line x1="416.00" y1="638.20" x2="416.00" y2="640.70" stroke="#8a8a8a" stroke-width="0.8"/>
<text font-size="6.85" text-anchor="middle" fill="#222" transform="translate(416.00 650.67) scale(0.92 1)">70</text>
<line x1="297.70" y1="638.20" x2="297.70" y2="639.70" stroke="#8a8a8a" stroke-width="0.6"/>
<line x1="315.90" y1="638.20" x2="315.90" y2="639.70" stroke="#8a8a8a" stroke-width="0.6"/>
<line x1="334.10" y1="638.20" x2="334.10" y2="639.70" stroke="#8a8a8a" stroke-width="0.6"/>
<line x1="352.30" y1="638.20" x2="352.30" y2="639.70" stroke="#8a8a8a" stroke-width="0.6"/>
<line x1="370.50" y1="638.20" x2="370.50" y2="639.70" stroke="#8a8a8a" stroke-width="0.6"/>
<line x1="388.70" y1="638.20" x2="388.70" y2="639.70" stroke="#8a8a8a" stroke-width="0.6"/>
<line x1="406.90" y1="638.20" x2="406.90" y2="639.70" stroke="#8a8a8a" stroke-width="0.6"/>
<text font-size="8.21" text-anchor="middle" fill="#222" transform="translate(353.00 660.75) scale(0.92 1)">Days after Nalm-6 infusion</text>
<text font-size="8.26" text-anchor="middle" fill="#222" transform="translate(257.90 598.30) rotate(-90) translate(0 2.97) scale(0.92 1)">Probability of</text>
<text font-size="8.26" text-anchor="middle" fill="#222" transform="translate(265.70 598.30) rotate(-90) translate(0 2.97) scale(0.92 1)">survival (%)</text>
<path d="M288.60,566.30 L337.74,566.30 L337.74,623.82 L339.56,623.82 L339.56,638.20" fill="none" stroke="#333" stroke-width="0.9"/>
<path d="M372.32,566.30 L372.32,576.58 L386.88,576.58 L386.88,586.86 L416.00,586.86" fill="none" stroke="#5a9ad3" stroke-width="0.9"/>
<path d="M288.60,566.30 L372.32,566.30 L372.32,586.86 L383.24,586.86 L383.24,617.64 L386.88,617.64 L386.88,627.92 L388.70,627.92 L388.70,638.20" fill="none" stroke="#8a72c2" stroke-width="0.9"/>
<text font-size="7.07" text-anchor="end" fill="#5a9ad3" transform="translate(416.00 585.04) scale(0.92 1)">5/7</text>
<text font-size="7.07" fill="#333" transform="translate(342.20 636.34) scale(0.92 1)">0/5</text>
<text font-size="7.07" fill="#8a72c2" transform="translate(391.80 636.34) scale(0.92 1)">0/7</text>
<line x1="423.60" y1="562.10" x2="437.20" y2="562.10" stroke="#222" stroke-width="0.8"/>
<circle cx="430.60" cy="562.10" r="1.9" fill="#111"/>
<text font-size="6.09" fill="#222" transform="translate(439.60 564.29) scale(0.92 1)">PBS</text>
<line x1="423.60" y1="574.80" x2="437.20" y2="574.80" stroke="#a15fb0" stroke-width="0.8"/>
<circle cx="430.60" cy="574.80" r="1.9" fill="#8e4d9e"/>
<text font-size="6.09" fill="#222" transform="translate(439.60 576.99) scale(0.92 1)">CD19-BBz + CD22-BBz CARs</text>
<line x1="423.60" y1="586.30" x2="437.20" y2="586.30" stroke="#4aa0dc" stroke-width="0.8"/>
<circle cx="430.60" cy="586.30" r="1.9" fill="#3a8dd0"/>
<text font-size="6.09" fill="#222" transform="translate(439.60 588.49) scale(0.92 1)">CD19/CD22 Bi-ChTCR</text>
<line x1="520.40" y1="570.30" x2="520.40" y2="585.70" stroke="#555" stroke-width="0.7"/>
<text font-size="6.09" text-anchor="middle" fill="#222" transform="translate(525.20 578.00) rotate(90) translate(0 2.19) scale(0.92 1)">0.0006</text>
<text x="546.50" y="423.60" font-size="12" font-weight="bold" fill="#111" stroke="#111" stroke-width="0.45">n</text>
<line x1="575.30" y1="441.19" x2="575.30" y2="499.40" stroke="#8a8a8a" stroke-width="0.8"/>
<line x1="572.50" y1="499.40" x2="575.30" y2="499.40" stroke="#8a8a8a" stroke-width="0.8"/>
<text font-size="6.74" text-anchor="end" fill="#222" transform="translate(570.70 501.83) scale(0.92 1)">0</text>
<line x1="572.50" y1="480.16" x2="575.30" y2="480.16" stroke="#8a8a8a" stroke-width="0.8"/>
<text font-size="6.74" text-anchor="end" fill="#222" transform="translate(570.70 482.59) scale(0.92 1)">0.5</text>
<line x1="572.50" y1="460.93" x2="575.30" y2="460.93" stroke="#8a8a8a" stroke-width="0.8"/>
<text font-size="6.74" text-anchor="end" fill="#222" transform="translate(570.70 463.36) scale(0.92 1)">1.0</text>
<line x1="572.50" y1="441.69" x2="575.30" y2="441.69" stroke="#8a8a8a" stroke-width="0.8"/>
<text font-size="6.74" text-anchor="end" fill="#222" transform="translate(570.70 444.12) scale(0.92 1)">1.5</text>
<line x1="575.30" y1="499.40" x2="665.80" y2="499.40" stroke="#8a8a8a" stroke-width="0.8"/>
<line x1="583.20" y1="499.40" x2="583.20" y2="501.90" stroke="#8a8a8a" stroke-width="0.8"/>
<line x1="598.30" y1="499.40" x2="598.30" y2="501.90" stroke="#8a8a8a" stroke-width="0.8"/>
<line x1="613.30" y1="499.40" x2="613.30" y2="501.90" stroke="#8a8a8a" stroke-width="0.8"/>
<line x1="628.40" y1="499.40" x2="628.40" y2="501.90" stroke="#8a8a8a" stroke-width="0.8"/>
<line x1="643.60" y1="499.40" x2="643.60" y2="501.90" stroke="#8a8a8a" stroke-width="0.8"/>
<line x1="658.50" y1="499.40" x2="658.50" y2="501.90" stroke="#8a8a8a" stroke-width="0.8"/>
<circle cx="583.20" cy="499.40" r="0.8" fill="#111"/>
<circle cx="598.30" cy="499.40" r="0.8" fill="#111"/>
<circle cx="613.30" cy="499.40" r="0.8" fill="#111"/>
<circle cx="628.40" cy="499.40" r="0.8" fill="#111"/>
<circle cx="643.60" cy="499.40" r="0.8" fill="#111"/>
<circle cx="658.50" cy="499.40" r="0.8" fill="#111"/>
<circle cx="583.20" cy="497.48" r="0.75" fill="#3a8fd4"/>
<circle cx="583.20" cy="495.55" r="0.75" fill="#3a8fd4"/>
<circle cx="583.20" cy="494.40" r="0.75" fill="#3a8fd4"/>
<circle cx="598.30" cy="484.78" r="0.75" fill="#3a8fd4"/>
<circle cx="598.30" cy="494.78" r="0.75" fill="#3a8fd4"/>
<circle cx="598.30" cy="496.32" r="0.75" fill="#3a8fd4"/>
<circle cx="613.30" cy="495.55" r="0.75" fill="#3a8fd4"/>
<circle cx="613.30" cy="494.40" r="0.75" fill="#3a8fd4"/>
<circle cx="628.40" cy="457.85" r="0.75" fill="#3a8fd4"/>
<circle cx="628.40" cy="464.78" r="0.75" fill="#3a8fd4"/>
<circle cx="628.40" cy="477.09" r="0.75" fill="#3a8fd4"/>
<circle cx="628.40" cy="482.09" r="0.75" fill="#3a8fd4"/>
<circle cx="628.40" cy="487.86" r="0.75" fill="#3a8fd4"/>
<circle cx="628.40" cy="490.94" r="0.75" fill="#3a8fd4"/>
<circle cx="628.40" cy="492.48" r="0.75" fill="#3a8fd4"/>
<circle cx="643.60" cy="442.46" r="0.75" fill="#3a8fd4"/>
<circle cx="643.60" cy="464.78" r="0.75" fill="#3a8fd4"/>
<circle cx="643.60" cy="467.85" r="0.75" fill="#3a8fd4"/>
<circle cx="643.60" cy="473.24" r="0.75" fill="#3a8fd4"/>
<circle cx="643.60" cy="481.70" r="0.75" fill="#3a8fd4"/>
<circle cx="643.60" cy="492.48" r="0.75" fill="#3a8fd4"/>
<circle cx="643.60" cy="493.63" r="0.75" fill="#3a8fd4"/>
<circle cx="658.50" cy="448.23" r="0.75" fill="#3a8fd4"/>
<circle cx="658.50" cy="488.63" r="0.75" fill="#3a8fd4"/>
<circle cx="658.50" cy="490.94" r="0.75" fill="#3a8fd4"/>
<circle cx="658.50" cy="495.55" r="0.75" fill="#3a8fd4"/>
<circle cx="583.20" cy="494.78" r="0.75" fill="#8e4d9e"/>
<circle cx="583.20" cy="497.09" r="0.75" fill="#8e4d9e"/>
<circle cx="598.30" cy="495.55" r="0.75" fill="#8e4d9e"/>
<circle cx="598.30" cy="497.48" r="0.75" fill="#8e4d9e"/>
<circle cx="613.30" cy="491.71" r="0.75" fill="#8e4d9e"/>
<circle cx="613.30" cy="493.63" r="0.75" fill="#8e4d9e"/>
<circle cx="613.30" cy="496.32" r="0.75" fill="#8e4d9e"/>
<circle cx="628.40" cy="496.32" r="0.75" fill="#8e4d9e"/>
<circle cx="628.40" cy="498.25" r="0.75" fill="#8e4d9e"/>
<circle cx="643.60" cy="495.55" r="0.75" fill="#8e4d9e"/>
<circle cx="643.60" cy="497.86" r="0.75" fill="#8e4d9e"/>
<circle cx="658.50" cy="493.63" r="0.75" fill="#8e4d9e"/>
<circle cx="658.50" cy="497.09" r="0.75" fill="#8e4d9e"/>
<polyline points="583.20,496.32 598.30,496.71 613.30,495.17 628.40,497.48 643.60,497.48 658.50,497.48" fill="none" stroke="#9a5aaa" stroke-width="0.8"/>
<polyline points="583.20,495.94 598.30,494.40 613.30,495.55 628.40,479.01 643.60,472.47 658.50,488.63" fill="none" stroke="#4a9ad8" stroke-width="0.8"/>
<text font-size="6.52" text-anchor="end" fill="#222" transform="translate(585.40 506.00) rotate(-45) translate(0 2.35) scale(0.92 1)">D7</text>
<text font-size="6.52" text-anchor="end" fill="#222" transform="translate(600.50 506.00) rotate(-45) translate(0 2.35) scale(0.92 1)">D10</text>
<text font-size="6.52" text-anchor="end" fill="#222" transform="translate(615.50 506.00) rotate(-45) translate(0 2.35) scale(0.92 1)">D14</text>
<text font-size="6.52" text-anchor="end" fill="#222" transform="translate(630.60 506.00) rotate(-45) translate(0 2.35) scale(0.92 1)">D21</text>
<text font-size="6.52" text-anchor="end" fill="#222" transform="translate(645.80 506.00) rotate(-45) translate(0 2.35) scale(0.92 1)">D31</text>
<text font-size="6.52" text-anchor="end" fill="#222" transform="translate(660.70 506.00) rotate(-45) translate(0 2.35) scale(0.92 1)">D38</text>
<text font-size="8.37" text-anchor="middle" fill="#222" transform="translate(619.40 525.01) scale(0.92 1)">Days after T cell infusion</text>
<text font-size="7.01" text-anchor="middle" fill="#222" transform="translate(553.80 471.10) rotate(-90) translate(0 2.52) scale(0.92 1)">% CD4<tspan baseline-shift="2.80" font-size="4.63">+</tspan> CAR<tspan baseline-shift="2.80" font-size="4.63">+</tspan></text>
<text x="546.00" y="542.40" font-size="12" font-weight="bold" fill="#111" stroke="#111" stroke-width="0.45">o</text>
<line x1="575.30" y1="543.10" x2="575.30" y2="601.30" stroke="#8a8a8a" stroke-width="0.8"/>
<line x1="572.50" y1="601.30" x2="575.30" y2="601.30" stroke="#8a8a8a" stroke-width="0.8"/>
<text font-size="6.74" text-anchor="end" fill="#222" transform="translate(570.70 603.73) scale(0.92 1)">0</text>
<line x1="572.50" y1="589.76" x2="575.30" y2="589.76" stroke="#8a8a8a" stroke-width="0.8"/>
<text font-size="6.74" text-anchor="end" fill="#222" transform="translate(570.70 592.19) scale(0.92 1)">0.05</text>
<line x1="572.50" y1="578.22" x2="575.30" y2="578.22" stroke="#8a8a8a" stroke-width="0.8"/>
<text font-size="6.74" text-anchor="end" fill="#222" transform="translate(570.70 580.65) scale(0.92 1)">0.10</text>
<line x1="572.50" y1="566.68" x2="575.30" y2="566.68" stroke="#8a8a8a" stroke-width="0.8"/>
<text font-size="6.74" text-anchor="end" fill="#222" transform="translate(570.70 569.11) scale(0.92 1)">0.15</text>
<line x1="572.50" y1="555.14" x2="575.30" y2="555.14" stroke="#8a8a8a" stroke-width="0.8"/>
<text font-size="6.74" text-anchor="end" fill="#222" transform="translate(570.70 557.57) scale(0.92 1)">0.20</text>
<line x1="572.50" y1="543.60" x2="575.30" y2="543.60" stroke="#8a8a8a" stroke-width="0.8"/>
<text font-size="6.74" text-anchor="end" fill="#222" transform="translate(570.70 546.03) scale(0.92 1)">0.25</text>
<line x1="575.30" y1="601.30" x2="664.60" y2="601.30" stroke="#8a8a8a" stroke-width="0.8"/>
<line x1="582.70" y1="601.30" x2="582.70" y2="603.80" stroke="#8a8a8a" stroke-width="0.8"/>
<line x1="597.40" y1="601.30" x2="597.40" y2="603.80" stroke="#8a8a8a" stroke-width="0.8"/>
<line x1="612.60" y1="601.30" x2="612.60" y2="603.80" stroke="#8a8a8a" stroke-width="0.8"/>
<line x1="627.30" y1="601.30" x2="627.30" y2="603.80" stroke="#8a8a8a" stroke-width="0.8"/>
<line x1="642.00" y1="601.30" x2="642.00" y2="603.80" stroke="#8a8a8a" stroke-width="0.8"/>
<line x1="656.70" y1="601.30" x2="656.70" y2="603.80" stroke="#8a8a8a" stroke-width="0.8"/>
<circle cx="582.70" cy="601.30" r="0.8" fill="#111"/>
<circle cx="597.40" cy="601.30" r="0.8" fill="#111"/>
<circle cx="612.60" cy="601.30" r="0.8" fill="#111"/>
<circle cx="627.30" cy="601.30" r="0.8" fill="#111"/>
<circle cx="642.00" cy="601.30" r="0.8" fill="#111"/>
<circle cx="656.70" cy="601.30" r="0.8" fill="#111"/>
<circle cx="582.70" cy="596.68" r="0.75" fill="#3a8fd4"/>
<circle cx="582.70" cy="594.38" r="0.75" fill="#3a8fd4"/>
<circle cx="597.40" cy="589.76" r="0.75" fill="#3a8fd4"/>
<circle cx="597.40" cy="596.68" r="0.75" fill="#3a8fd4"/>
<circle cx="612.60" cy="593.22" r="0.75" fill="#3a8fd4"/>
<circle cx="612.60" cy="600.15" r="0.75" fill="#3a8fd4"/>
<circle cx="627.30" cy="559.76" r="0.75" fill="#3a8fd4"/>
<circle cx="627.30" cy="564.37" r="0.75" fill="#3a8fd4"/>
<circle cx="627.30" cy="578.22" r="0.75" fill="#3a8fd4"/>
<circle cx="627.30" cy="587.45" r="0.75" fill="#3a8fd4"/>
<circle cx="627.30" cy="592.07" r="0.75" fill="#3a8fd4"/>
<circle cx="642.00" cy="596.68" r="0.75" fill="#3a8fd4"/>
<circle cx="642.00" cy="598.99" r="0.75" fill="#3a8fd4"/>
<circle cx="656.70" cy="588.61" r="0.75" fill="#3a8fd4"/>
<circle cx="656.70" cy="590.91" r="0.75" fill="#3a8fd4"/>
<circle cx="656.70" cy="596.68" r="0.75" fill="#3a8fd4"/>
<circle cx="582.70" cy="587.91" r="0.75" fill="#8e4d9e"/>
<circle cx="582.70" cy="594.38" r="0.75" fill="#8e4d9e"/>
<circle cx="582.70" cy="592.07" r="0.75" fill="#8e4d9e"/>
<circle cx="597.40" cy="594.38" r="0.75" fill="#8e4d9e"/>
<circle cx="597.40" cy="596.68" r="0.75" fill="#8e4d9e"/>
<circle cx="612.60" cy="578.22" r="0.75" fill="#8e4d9e"/>
<circle cx="612.60" cy="580.53" r="0.75" fill="#8e4d9e"/>
<circle cx="612.60" cy="582.84" r="0.75" fill="#8e4d9e"/>
<circle cx="612.60" cy="586.30" r="0.75" fill="#8e4d9e"/>
<circle cx="627.30" cy="590.91" r="0.75" fill="#8e4d9e"/>
<circle cx="627.30" cy="593.22" r="0.75" fill="#8e4d9e"/>
<circle cx="627.30" cy="596.68" r="0.75" fill="#8e4d9e"/>
<circle cx="642.00" cy="600.15" r="0.75" fill="#8e4d9e"/>
<circle cx="656.70" cy="598.99" r="0.75" fill="#8e4d9e"/>
<polyline points="582.70,593.22 597.40,595.07 612.60,585.14 627.30,597.84 642.00,600.15 656.70,600.15" fill="none" stroke="#9a5aaa" stroke-width="0.8"/>
<polyline points="582.70,595.53 597.40,596.68 612.60,594.38 627.30,574.76 642.00,598.99 656.70,596.22" fill="none" stroke="#4a9ad8" stroke-width="0.8"/>
<text font-size="6.52" text-anchor="end" fill="#222" transform="translate(584.90 608.00) rotate(-45) translate(0 2.35) scale(0.92 1)">D7</text>
<text font-size="6.52" text-anchor="end" fill="#222" transform="translate(599.60 608.00) rotate(-45) translate(0 2.35) scale(0.92 1)">D10</text>
<text font-size="6.52" text-anchor="end" fill="#222" transform="translate(614.80 608.00) rotate(-45) translate(0 2.35) scale(0.92 1)">D14</text>
<text font-size="6.52" text-anchor="end" fill="#222" transform="translate(629.50 608.00) rotate(-45) translate(0 2.35) scale(0.92 1)">D21</text>
<text font-size="6.52" text-anchor="end" fill="#222" transform="translate(644.20 608.00) rotate(-45) translate(0 2.35) scale(0.92 1)">D31</text>
<text font-size="6.52" text-anchor="end" fill="#222" transform="translate(658.90 608.00) rotate(-45) translate(0 2.35) scale(0.92 1)">D38</text>
<text font-size="8.37" text-anchor="middle" fill="#222" transform="translate(619.40 626.21) scale(0.92 1)">Days after T cell infusion</text>
<text font-size="7.01" text-anchor="middle" fill="#222" transform="translate(550.40 577.50) rotate(-90) translate(0 2.52) scale(0.92 1)">% CD8<tspan baseline-shift="2.80" font-size="4.63">+</tspan> CAR<tspan baseline-shift="2.80" font-size="4.63">+</tspan></text>
</svg>
</body></html>
